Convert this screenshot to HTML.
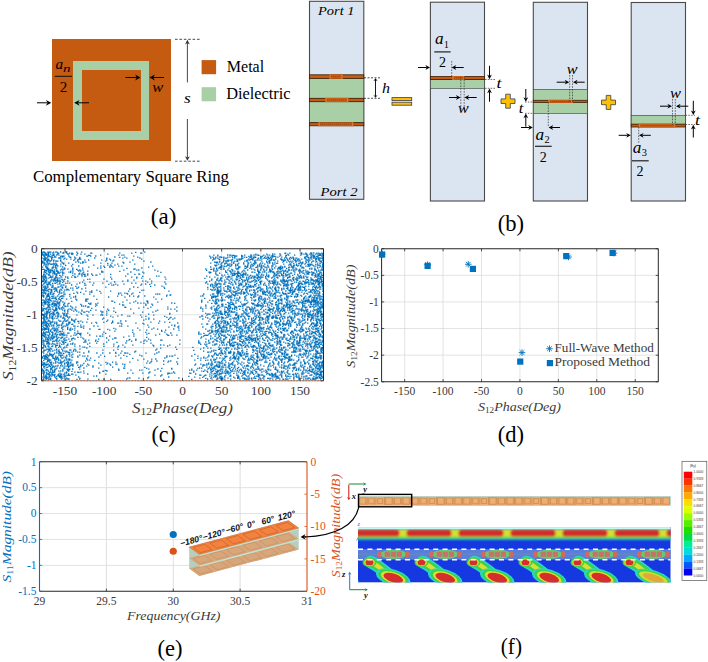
<!DOCTYPE html>
<html><head><meta charset="utf-8"><style>
html,body{margin:0;padding:0;background:#fff;}
svg{display:block;font-family:"Liberation Serif",serif;}
</style></head><body>
<svg width="708" height="662" viewBox="0 0 708 662">
<rect width="708" height="662" fill="#fff"/>
<rect x="52" y="39" width="119" height="122" fill="#C55A11"/>
<rect x="73" y="61" width="76" height="79" fill="#A8CFA6"/>
<rect x="82" y="70" width="59" height="61" fill="#C55A11"/>
<text x="55.4" y="68.9" font-size="15.5" text-anchor="start" fill="#000"  font-style="italic" textLength="7.6" lengthAdjust="spacingAndGlyphs">a</text>
<text x="63.1" y="71.8" font-size="11" text-anchor="start" fill="#000"  font-style="italic" textLength="7.5" lengthAdjust="spacingAndGlyphs">n</text>
<rect x="54.7" y="75.8" width="17.3" height="1" fill="#111"/>
<text x="59.8" y="91.6" font-size="14.5" text-anchor="start" fill="#000"  textLength="7.5" lengthAdjust="spacingAndGlyphs">2</text>
<path d="M37.00,102.80L47.60,102.80" stroke="#000" stroke-width="1.0" fill="none"/>
<path d="M51.30,102.80L45.90,105.70L47.60,102.80L45.90,99.90Z" fill="#000"/>
<path d="M89.00,102.80L77.90,102.80" stroke="#000" stroke-width="1.0" fill="none"/>
<path d="M74.20,102.80L79.60,99.90L77.90,102.80L79.60,105.70Z" fill="#000"/>
<path d="M125.50,77.50L136.80,77.50" stroke="#000" stroke-width="1.0" fill="none"/>
<path d="M140.50,77.50L135.10,80.40L136.80,77.50L135.10,74.60Z" fill="#000"/>
<path d="M164.00,77.50L153.20,77.50" stroke="#000" stroke-width="1.0" fill="none"/>
<path d="M149.50,77.50L154.90,74.60L153.20,77.50L154.90,80.40Z" fill="#000"/>
<text x="152.2" y="92.1" font-size="15.5" text-anchor="start" fill="#000"  font-style="italic" textLength="11" lengthAdjust="spacingAndGlyphs">w</text>
<path d="M175,39.3H200M175,161.2H200" stroke="#333" stroke-width="0.9" stroke-dasharray="2.6,1.8"/>
<path d="M187.40,82.40L187.40,43.00" stroke="#333" stroke-width="0.9" fill="none"/>
<path d="M187.40,39.80L189.80,44.40L187.40,43.00L185.00,44.40Z" fill="#333"/>
<path d="M187.40,119.00L187.40,157.60" stroke="#333" stroke-width="0.9" fill="none"/>
<path d="M187.40,160.80L185.00,156.20L187.40,157.60L189.80,156.20Z" fill="#333"/>
<text x="184" y="103" font-size="15.5" text-anchor="start" fill="#000"  font-style="italic" textLength="6.7" lengthAdjust="spacingAndGlyphs">s</text>
<rect x="201.6" y="60.1" width="14.5" height="14.1" fill="#C55A11"/>
<rect x="201.6" y="87.2" width="14.5" height="14.1" fill="#A8CFA6"/>
<text x="226.8" y="71.8" font-size="16" text-anchor="start" fill="#000"  textLength="37.4" lengthAdjust="spacingAndGlyphs">Metal</text>
<text x="226.2" y="99.3" font-size="16" text-anchor="start" fill="#000"  textLength="64.4" lengthAdjust="spacingAndGlyphs">Dielectric</text>
<text x="33" y="182" font-size="16" text-anchor="start" fill="#000"  textLength="196" lengthAdjust="spacingAndGlyphs">Complementary Square Ring</text>
<text x="150.8" y="224" font-size="23" text-anchor="start" fill="#000"  textLength="25.5" lengthAdjust="spacingAndGlyphs">(a)</text>
<rect x="309.5" y="1.3" width="54.30000000000001" height="198.0" fill="#DBE5F1" stroke="#4a4a4a" stroke-width="1.1"/>
<rect x="309.5" y="78" width="54.30000000000001" height="20.5" fill="#A8CFA6" stroke="#3a3a3a" stroke-width="0.6"/>
<rect x="309.5" y="101.5" width="54.30000000000001" height="21.299999999999997" fill="#A8CFA6" stroke="#3a3a3a" stroke-width="0.6"/>
<rect x="309.5" y="74.8" width="54.30000000000001" height="3.6000000000000085" fill="#C55A11" stroke="#3b1e08" stroke-width="0.8"/>
<rect x="329" y="74.39999999999999" width="14" height="4.400000000000008" fill="#c95e16"/>
<path d="M331.2,76.60H340.8" stroke="#7a3a10" stroke-width="0.8" stroke-dasharray="1,1"/>
<path d="M330.2,74.39999999999999V78.80000000000001M341.8,74.39999999999999V78.80000000000001" stroke="#e07a30" stroke-width="1.0"/>
<rect x="309.5" y="98.3" width="54.30000000000001" height="3.4000000000000057" fill="#C55A11" stroke="#3b1e08" stroke-width="0.8"/>
<rect x="325" y="97.89999999999999" width="23.69999999999999" height="4.2000000000000055" fill="#c95e16"/>
<path d="M327.2,100.00H346.5" stroke="#7a3a10" stroke-width="0.8" stroke-dasharray="1,1"/>
<path d="M326.2,97.89999999999999V102.10000000000001M347.5,97.89999999999999V102.10000000000001" stroke="#e07a30" stroke-width="1.0"/>
<rect x="309.5" y="122.7" width="54.30000000000001" height="3.0999999999999943" fill="#C55A11" stroke="#3b1e08" stroke-width="0.8"/>
<rect x="318" y="122.3" width="35.69999999999999" height="3.899999999999994" fill="#c95e16"/>
<path d="M320.2,124.25H351.5" stroke="#7a3a10" stroke-width="0.8" stroke-dasharray="1,1"/>
<path d="M319.2,122.3V126.2M352.5,122.3V126.2" stroke="#e07a30" stroke-width="1.0"/>
<text x="318" y="14.5" font-size="13.5" text-anchor="start" fill="#000"  font-style="italic" textLength="36.5" lengthAdjust="spacingAndGlyphs">Port 1</text>
<text x="320.5" y="195.8" font-size="13.5" text-anchor="start" fill="#000"  font-style="italic" textLength="37" lengthAdjust="spacingAndGlyphs">Port 2</text>
<path d="M364,77.8H381M364,98.3H381" stroke="#222" stroke-width="0.8" stroke-dasharray="2,1.5"/>
<path d="M375.50,88.00L375.50,79.90" stroke="#000" stroke-width="0.9" fill="none"/>
<path d="M375.50,78.30L377.70,81.30L375.50,79.90L373.30,81.30Z" fill="#000"/>
<path d="M375.50,88.00L375.50,96.20" stroke="#000" stroke-width="0.9" fill="none"/>
<path d="M375.50,97.80L373.30,94.80L375.50,96.20L377.70,94.80Z" fill="#000"/>
<text x="382" y="93" font-size="15" text-anchor="start" fill="#000"  font-style="italic" textLength="8" lengthAdjust="spacingAndGlyphs">h</text>
<rect x="392" y="97.6" width="19.7" height="3" fill="#FFC000" stroke="#3b4460" stroke-width="0.85"/>
<rect x="392" y="102.2" width="19.7" height="3" fill="#FFC000" stroke="#3b4460" stroke-width="0.85"/>
<rect x="430.4" y="2.2" width="54.10000000000002" height="198.8" fill="#DBE5F1" stroke="#4a4a4a" stroke-width="1.1"/>
<rect x="430.4" y="79.5" width="54.10000000000002" height="8.799999999999997" fill="#A8CFA6" stroke="#3a3a3a" stroke-width="0.6"/>
<rect x="430.4" y="76.4" width="54.10000000000002" height="3.0999999999999943" fill="#C55A11" stroke="#3b1e08" stroke-width="0.8"/>
<rect x="452" y="76.0" width="12.5" height="3.899999999999994" fill="#c95e16"/>
<path d="M454.2,77.95H462.3" stroke="#7a3a10" stroke-width="0.8" stroke-dasharray="1,1"/>
<path d="M453.2,76.0V79.9M463.3,76.0V79.9" stroke="#e07a30" stroke-width="1.0"/>
<text x="435" y="44.3" font-size="16" text-anchor="start" fill="#000"  font-style="italic" textLength="8.6" lengthAdjust="spacingAndGlyphs">a</text>
<text x="444.1" y="47.5" font-size="10" text-anchor="start" fill="#000"  textLength="4.8" lengthAdjust="spacingAndGlyphs">1</text>
<rect x="434.3" y="51.3" width="16.3" height="1.2" fill="#222"/>
<text x="438.9" y="67.3" font-size="15.5" text-anchor="start" fill="#000"  textLength="7" lengthAdjust="spacingAndGlyphs">2</text>
<path d="M418.00,67.50L426.80,67.50" stroke="#000" stroke-width="1.0" fill="none"/>
<path d="M430.00,67.50L425.40,69.90L426.80,67.50L425.40,65.10Z" fill="#000"/>
<path d="M463.70,67.50L454.90,67.50" stroke="#000" stroke-width="1.0" fill="none"/>
<path d="M451.70,67.50L456.30,65.10L454.90,67.50L456.30,69.90Z" fill="#000"/>
<path d="M451.7,61V77M460.8,77V110M464.2,77V110" stroke="#333" stroke-width="0.7" stroke-dasharray="1.6,1.2"/>
<path d="M449.00,97.50L457.30,97.50" stroke="#000" stroke-width="1.0" fill="none"/>
<path d="M460.50,97.50L455.90,99.90L457.30,97.50L455.90,95.10Z" fill="#000"/>
<path d="M476.70,97.50L467.70,97.50" stroke="#000" stroke-width="1.0" fill="none"/>
<path d="M464.50,97.50L469.10,95.10L467.70,97.50L469.10,99.90Z" fill="#000"/>
<text x="458" y="113.3" font-size="14" text-anchor="start" fill="#000"  font-style="italic" textLength="10.7" lengthAdjust="spacingAndGlyphs">w</text>
<path d="M485,79.5H495M485,88.3H495" stroke="#333" stroke-width="0.7" stroke-dasharray="1.6,1.2"/>
<path d="M489.50,65.80L489.50,76.00" stroke="#000" stroke-width="1.0" fill="none"/>
<path d="M489.50,79.20L487.10,74.60L489.50,76.00L491.90,74.60Z" fill="#000"/>
<path d="M489.50,101.70L489.50,91.80" stroke="#000" stroke-width="1.0" fill="none"/>
<path d="M489.50,88.60L491.90,93.20L489.50,91.80L487.10,93.20Z" fill="#000"/>
<text x="496.5" y="87.5" font-size="14" text-anchor="start" fill="#000"  font-style="italic" textLength="5" lengthAdjust="spacingAndGlyphs">t</text>
<path d="M505.7,94.2H510.3V98.9H515.0V103.5H510.3V108.2H505.7V103.5H501.0V98.9H505.7Z" fill="#FFC000" stroke="#3b4460" stroke-width="0.85"/>
<rect x="533.3" y="2.3" width="54.200000000000045" height="198.7" fill="#DBE5F1" stroke="#4a4a4a" stroke-width="1.1"/>
<rect x="533.3" y="89.3" width="54.200000000000045" height="24.0" fill="#A8CFA6" stroke="#3a3a3a" stroke-width="0.6"/>
<rect x="533.3" y="100.3" width="54.200000000000045" height="2.200000000000003" fill="#C55A11" stroke="#3b1e08" stroke-width="0.8"/>
<rect x="548" y="99.89999999999999" width="25" height="3.0000000000000027" fill="#c95e16"/>
<path d="M550.2,101.40H570.8" stroke="#7a3a10" stroke-width="0.8" stroke-dasharray="1,1"/>
<path d="M549.2,99.89999999999999V102.9M571.8,99.89999999999999V102.9" stroke="#e07a30" stroke-width="1.0"/>
<text x="566.7" y="74.2" font-size="14" text-anchor="start" fill="#000"  font-style="italic" textLength="10.8" lengthAdjust="spacingAndGlyphs">w</text>
<path d="M569.7,75V102M572.5,75V102" stroke="#333" stroke-width="0.7" stroke-dasharray="1.6,1.2"/>
<path d="M556.70,82.20L566.10,82.20" stroke="#000" stroke-width="1.0" fill="none"/>
<path d="M569.30,82.20L564.70,84.60L566.10,82.20L564.70,79.80Z" fill="#000"/>
<path d="M584.70,82.20L576.20,82.20" stroke="#000" stroke-width="1.0" fill="none"/>
<path d="M573.00,82.20L577.60,79.80L576.20,82.20L577.60,84.60Z" fill="#000"/>
<path d="M525,102H533M525,113.3H533" stroke="#333" stroke-width="0.7" stroke-dasharray="1.6,1.2"/>
<path d="M525.80,89.00L525.80,98.60" stroke="#000" stroke-width="1.0" fill="none"/>
<path d="M525.80,101.80L523.40,97.20L525.80,98.60L528.20,97.20Z" fill="#000"/>
<path d="M525.80,126.70L525.80,116.80" stroke="#000" stroke-width="1.0" fill="none"/>
<path d="M525.80,113.60L528.20,118.20L525.80,116.80L523.40,118.20Z" fill="#000"/>
<text x="518.8" y="113.3" font-size="14" text-anchor="start" fill="#000"  font-style="italic" textLength="4.6" lengthAdjust="spacingAndGlyphs">t</text>
<path d="M521.00,127.50L529.60,127.50" stroke="#000" stroke-width="1.0" fill="none"/>
<path d="M532.80,127.50L528.20,129.90L529.60,127.50L528.20,125.10Z" fill="#000"/>
<path d="M560.00,127.50L551.80,127.50" stroke="#000" stroke-width="1.0" fill="none"/>
<path d="M548.60,127.50L553.20,125.10L551.80,127.50L553.20,129.90Z" fill="#000"/>
<path d="M548.3,102V127" stroke="#333" stroke-width="0.7" stroke-dasharray="1.6,1.2"/>
<text x="535.6" y="139.8" font-size="16" text-anchor="start" fill="#000"  font-style="italic" textLength="8.6" lengthAdjust="spacingAndGlyphs">a</text>
<text x="544.6" y="143" font-size="10" text-anchor="start" fill="#000"  textLength="5.2" lengthAdjust="spacingAndGlyphs">2</text>
<rect x="535" y="145.7" width="16.7" height="1.2" fill="#222"/>
<text x="539.8" y="161.6" font-size="15.5" text-anchor="start" fill="#000"  textLength="7" lengthAdjust="spacingAndGlyphs">2</text>
<path d="M606.2,95.4H610.8V100.10000000000001H615.5V104.7H610.8V109.4H606.2V104.7H601.5V100.10000000000001H606.2Z" fill="#FFC000" stroke="#3b4460" stroke-width="0.85"/>
<rect x="631.2" y="2.5" width="54.299999999999955" height="198.5" fill="#DBE5F1" stroke="#4a4a4a" stroke-width="1.1"/>
<rect x="631.2" y="115.3" width="54.299999999999955" height="8.900000000000006" fill="#A8CFA6" stroke="#3a3a3a" stroke-width="0.6"/>
<rect x="631.2" y="124.2" width="54.299999999999955" height="2.799999999999997" fill="#C55A11" stroke="#3b1e08" stroke-width="0.8"/>
<rect x="638.5" y="123.8" width="37.10000000000002" height="3.599999999999997" fill="#c95e16"/>
<path d="M640.7,125.60H673.4" stroke="#7a3a10" stroke-width="0.8" stroke-dasharray="1,1"/>
<path d="M639.7,123.8V127.4M674.4,123.8V127.4" stroke="#e07a30" stroke-width="1.0"/>
<text x="670" y="98.3" font-size="14" text-anchor="start" fill="#000"  font-style="italic" textLength="11" lengthAdjust="spacingAndGlyphs">w</text>
<path d="M672.5,99V125M675.3,99V125" stroke="#333" stroke-width="0.7" stroke-dasharray="1.6,1.2"/>
<path d="M660.00,106.20L668.80,106.20" stroke="#000" stroke-width="1.0" fill="none"/>
<path d="M672.00,106.20L667.40,108.60L668.80,106.20L667.40,103.80Z" fill="#000"/>
<path d="M688.30,106.20L679.20,106.20" stroke="#000" stroke-width="1.0" fill="none"/>
<path d="M676.00,106.20L680.60,103.80L679.20,106.20L680.60,108.60Z" fill="#000"/>
<path d="M685.5,115.3H695M685.5,124.5H695" stroke="#333" stroke-width="0.7" stroke-dasharray="1.6,1.2"/>
<path d="M693.30,100.80L693.30,111.80" stroke="#000" stroke-width="1.0" fill="none"/>
<path d="M693.30,115.00L690.90,110.40L693.30,111.80L695.70,110.40Z" fill="#000"/>
<path d="M693.30,137.50L693.30,128.00" stroke="#000" stroke-width="1.0" fill="none"/>
<path d="M693.30,124.80L695.70,129.40L693.30,128.00L690.90,129.40Z" fill="#000"/>
<text x="695" y="125" font-size="14" text-anchor="start" fill="#000"  font-style="italic" textLength="5" lengthAdjust="spacingAndGlyphs">t</text>
<path d="M618.70,135.30L627.60,135.30" stroke="#000" stroke-width="1.0" fill="none"/>
<path d="M630.80,135.30L626.20,137.70L627.60,135.30L626.20,132.90Z" fill="#000"/>
<path d="M650.80,135.30L642.20,135.30" stroke="#000" stroke-width="1.0" fill="none"/>
<path d="M639.00,135.30L643.60,132.90L642.20,135.30L643.60,137.70Z" fill="#000"/>
<path d="M638.7,127V143" stroke="#333" stroke-width="0.7" stroke-dasharray="1.6,1.2"/>
<text x="632.8" y="153" font-size="16" text-anchor="start" fill="#000"  font-style="italic" textLength="8.6" lengthAdjust="spacingAndGlyphs">a</text>
<text x="641.8" y="156.2" font-size="10" text-anchor="start" fill="#000"  textLength="5.2" lengthAdjust="spacingAndGlyphs">3</text>
<rect x="632" y="160.2" width="16.7" height="1.2" fill="#222"/>
<text x="636.6" y="175.6" font-size="15.5" text-anchor="start" fill="#000"  textLength="7" lengthAdjust="spacingAndGlyphs">2</text>
<text x="497.8" y="230.8" font-size="23" text-anchor="start" fill="#000"  textLength="26.3" lengthAdjust="spacingAndGlyphs">(b)</text>
<path d="M65.00,248.75V380.75M104.17,248.75V380.75M143.33,248.75V380.75M182.50,248.75V380.75M221.67,248.75V380.75M260.83,248.75V380.75M300.00,248.75V380.75M41.5,281.75H323.5M41.5,314.75H323.5M41.5,347.75H323.5" stroke="#dcdcdc" stroke-width="0.8" fill="none"/>
<path d="M42.1 252.2h1.3M43.2 252.0h1.3M44.1 252.3h1.3M47.1 252.2h1.3M48.2 252.1h1.3M49.3 252.2h1.3M50.2 252.1h1.3M53.1 252.1h1.3M55.1 252.2h1.3M56.3 252.2h1.3M60.0 252.0h1.3M63.1 252.3h1.3M65.1 252.0h1.3M66.1 252.0h1.3M76.1 252.2h1.3M81.1 252.1h1.3M135.1 252.3h1.3M144.1 252.1h1.3M42.1 253.1h1.3M45.2 253.2h1.3M48.0 253.0h1.3M52.2 253.0h1.3M57.0 253.1h1.3M58.1 253.2h1.3M62.2 253.1h1.3M63.0 253.2h1.3M66.1 253.1h1.3M69.1 253.2h1.3M71.1 253.2h1.3M72.1 253.3h1.3M77.0 253.3h1.3M90.1 253.2h1.3M91.1 253.2h1.3M119.1 253.1h1.3M131.1 253.1h1.3M140.0 253.2h1.3M141.1 253.1h1.3M284.3 253.3h1.3M285.1 253.2h1.3M289.2 253.1h1.3M300.1 253.2h1.3M301.1 253.0h1.3M305.2 253.1h1.3M310.2 253.0h1.3M311.1 253.2h1.3M313.1 253.0h1.3M316.1 253.2h1.3M318.1 253.2h1.3M321.2 253.2h1.3M42.1 254.0h1.3M44.1 254.0h1.3M45.0 254.2h1.3M46.2 254.1h1.3M47.1 254.1h1.3M48.0 254.0h1.3M50.0 254.1h1.3M53.3 254.1h1.3M57.2 254.2h1.3M67.1 254.0h1.3M68.1 254.2h1.3M71.1 254.3h1.3M72.2 254.2h1.3M80.3 254.1h1.3M84.2 254.1h1.3M107.2 254.1h1.3M255.2 254.1h1.3M266.1 254.1h1.3M272.1 254.0h1.3M274.1 254.1h1.3M279.3 254.0h1.3M287.2 254.1h1.3M301.1 254.1h1.3M303.3 254.1h1.3M305.1 254.2h1.3M306.1 254.2h1.3M309.2 254.2h1.3M311.1 254.0h1.3M315.1 254.2h1.3M317.2 254.1h1.3M319.2 254.0h1.3M320.2 254.1h1.3M322.1 254.0h1.3M42.1 255.2h1.3M43.3 255.0h1.3M45.3 255.2h1.3M46.2 255.3h1.3M48.0 255.0h1.3M52.2 255.0h1.3M53.1 255.3h1.3M56.1 255.0h1.3M58.3 255.1h1.3M76.3 255.0h1.3M88.1 255.3h1.3M89.2 255.3h1.3M100.0 255.1h1.3M118.2 255.2h1.3M121.3 255.2h1.3M123.2 255.1h1.3M213.2 255.1h1.3M217.2 255.2h1.3M227.1 255.0h1.3M229.1 255.1h1.3M230.1 255.1h1.3M232.2 255.3h1.3M233.3 255.3h1.3M241.0 255.3h1.3M244.1 255.1h1.3M250.3 255.0h1.3M253.3 255.0h1.3M255.3 255.1h1.3M257.2 255.0h1.3M258.2 255.3h1.3M263.2 255.1h1.3M267.2 255.1h1.3M269.1 255.2h1.3M272.1 255.1h1.3M280.1 255.2h1.3M285.2 255.3h1.3M286.0 255.3h1.3M288.0 255.2h1.3M294.0 255.2h1.3M300.2 255.1h1.3M306.3 255.1h1.3M307.1 255.1h1.3M310.2 255.1h1.3M312.3 255.1h1.3M313.1 255.1h1.3M318.2 255.1h1.3M319.1 255.3h1.3M320.1 255.3h1.3M322.0 255.2h1.3M43.2 256.1h1.3M44.2 256.2h1.3M47.1 256.1h1.3M48.3 256.0h1.3M49.3 256.3h1.3M51.3 256.0h1.3M54.0 256.2h1.3M60.1 256.3h1.3M61.1 256.1h1.3M62.1 256.1h1.3M63.2 256.2h1.3M68.1 256.0h1.3M86.2 256.1h1.3M87.0 256.1h1.3M90.1 256.2h1.3M95.1 256.0h1.3M133.1 256.1h1.3M209.0 256.2h1.3M217.2 256.2h1.3M231.3 256.2h1.3M234.1 256.2h1.3M235.1 256.0h1.3M236.1 256.2h1.3M241.1 256.3h1.3M242.1 256.2h1.3M248.2 256.3h1.3M250.2 256.0h1.3M251.2 256.1h1.3M260.1 256.3h1.3M262.0 256.1h1.3M265.1 256.2h1.3M271.2 256.0h1.3M272.1 256.0h1.3M273.1 256.1h1.3M274.3 256.3h1.3M279.1 256.1h1.3M285.2 256.2h1.3M306.2 256.3h1.3M311.2 256.2h1.3M313.2 256.0h1.3M314.2 256.1h1.3M316.1 256.3h1.3M317.3 256.0h1.3M321.2 256.2h1.3M44.2 257.2h1.3M47.2 257.1h1.3M50.2 257.2h1.3M52.2 257.3h1.3M54.2 257.1h1.3M55.2 257.1h1.3M62.1 257.2h1.3M69.1 257.2h1.3M70.1 257.3h1.3M74.0 257.2h1.3M79.2 257.3h1.3M114.2 257.0h1.3M119.1 257.3h1.3M124.2 257.1h1.3M137.1 257.2h1.3M210.1 257.2h1.3M212.2 257.1h1.3M215.2 257.1h1.3M219.0 257.2h1.3M220.1 257.0h1.3M221.1 257.3h1.3M223.2 257.1h1.3M227.2 257.1h1.3M229.2 257.1h1.3M232.1 257.3h1.3M234.1 257.1h1.3M244.1 257.1h1.3M246.0 257.3h1.3M249.2 257.3h1.3M250.2 257.1h1.3M253.1 257.2h1.3M254.3 257.0h1.3M255.1 257.3h1.3M260.2 257.0h1.3M261.0 257.0h1.3M264.0 257.3h1.3M267.0 257.1h1.3M268.0 257.1h1.3M270.1 257.2h1.3M272.2 257.2h1.3M275.2 257.1h1.3M277.3 257.2h1.3M281.1 257.2h1.3M285.1 257.1h1.3M290.1 257.3h1.3M292.3 257.2h1.3M304.1 257.2h1.3M305.2 257.0h1.3M307.1 257.2h1.3M308.1 257.3h1.3M310.1 257.2h1.3M311.3 257.1h1.3M313.0 257.0h1.3M314.1 257.1h1.3M317.2 257.1h1.3M322.1 257.1h1.3M42.2 258.1h1.3M44.2 258.3h1.3M45.2 258.0h1.3M46.1 258.1h1.3M51.0 258.0h1.3M58.2 258.0h1.3M59.0 258.0h1.3M60.2 258.0h1.3M64.2 258.2h1.3M75.1 258.1h1.3M79.0 258.2h1.3M94.1 258.0h1.3M106.3 258.1h1.3M122.2 258.1h1.3M126.2 258.1h1.3M139.2 258.0h1.3M210.2 258.2h1.3M213.0 258.2h1.3M215.1 258.2h1.3M217.1 258.1h1.3M223.2 258.0h1.3M225.0 258.1h1.3M226.3 258.2h1.3M234.2 258.1h1.3M241.0 258.0h1.3M242.3 258.1h1.3M251.2 258.0h1.3M253.1 258.2h1.3M258.1 258.1h1.3M260.0 258.1h1.3M263.3 258.3h1.3M265.2 258.3h1.3M266.2 258.2h1.3M268.0 258.0h1.3M269.3 258.3h1.3M271.1 258.1h1.3M284.0 258.1h1.3M286.0 258.1h1.3M289.1 258.1h1.3M291.2 258.3h1.3M293.0 258.0h1.3M295.2 258.2h1.3M296.1 258.1h1.3M304.2 258.3h1.3M308.3 258.1h1.3M310.1 258.1h1.3M313.3 258.3h1.3M315.1 258.1h1.3M316.3 258.2h1.3M318.1 258.2h1.3M319.1 258.0h1.3M320.1 258.2h1.3M321.2 258.1h1.3M322.2 258.1h1.3M43.1 259.0h1.3M44.1 259.0h1.3M45.1 259.0h1.3M47.1 259.2h1.3M48.0 259.2h1.3M51.2 259.2h1.3M63.2 259.2h1.3M66.1 259.1h1.3M70.2 259.1h1.3M74.1 259.2h1.3M78.2 259.2h1.3M79.3 259.2h1.3M80.1 259.1h1.3M106.0 259.1h1.3M109.1 259.1h1.3M141.0 259.2h1.3M213.1 259.1h1.3M214.2 259.1h1.3M218.2 259.1h1.3M219.1 259.3h1.3M223.2 259.0h1.3M232.0 259.2h1.3M236.2 259.2h1.3M238.3 259.2h1.3M239.3 259.1h1.3M240.2 259.1h1.3M241.1 259.2h1.3M248.2 259.0h1.3M250.0 259.3h1.3M251.2 259.2h1.3M252.2 259.0h1.3M257.2 259.0h1.3M261.2 259.2h1.3M267.1 259.3h1.3M271.0 259.3h1.3M275.0 259.0h1.3M280.1 259.0h1.3M281.1 259.1h1.3M287.0 259.2h1.3M289.2 259.1h1.3M293.0 259.3h1.3M297.1 259.3h1.3M298.1 259.0h1.3M301.1 259.1h1.3M305.2 259.0h1.3M308.2 259.1h1.3M311.2 259.2h1.3M315.1 259.1h1.3M316.2 259.0h1.3M318.0 259.0h1.3M322.3 259.1h1.3M44.0 260.0h1.3M45.2 260.2h1.3M47.2 260.0h1.3M48.2 260.2h1.3M51.1 260.0h1.3M53.3 260.2h1.3M60.1 260.0h1.3M73.2 260.3h1.3M77.1 260.0h1.3M84.2 260.2h1.3M88.0 260.0h1.3M101.1 260.1h1.3M106.2 260.1h1.3M110.0 260.2h1.3M113.2 260.1h1.3M132.2 260.1h1.3M212.0 260.2h1.3M223.2 260.2h1.3M227.2 260.1h1.3M228.3 260.1h1.3M230.2 260.3h1.3M231.3 260.0h1.3M237.1 260.1h1.3M239.2 260.1h1.3M246.2 260.3h1.3M247.2 260.1h1.3M249.1 260.1h1.3M252.2 260.1h1.3M255.3 260.2h1.3M257.2 260.1h1.3M259.3 260.1h1.3M269.3 260.0h1.3M270.2 260.1h1.3M271.1 260.1h1.3M273.0 260.0h1.3M274.1 260.1h1.3M281.1 260.1h1.3M282.3 260.1h1.3M283.1 260.2h1.3M284.2 260.0h1.3M285.1 260.2h1.3M287.2 260.2h1.3M294.0 260.2h1.3M295.0 260.0h1.3M297.1 260.2h1.3M299.2 260.3h1.3M306.2 260.0h1.3M307.2 260.1h1.3M309.3 260.1h1.3M315.0 260.2h1.3M318.2 260.1h1.3M319.2 260.0h1.3M322.2 260.1h1.3M42.1 261.2h1.3M43.2 261.1h1.3M46.1 261.1h1.3M47.3 261.1h1.3M49.2 261.0h1.3M50.0 261.0h1.3M53.0 261.2h1.3M55.2 261.0h1.3M56.2 261.2h1.3M57.2 261.2h1.3M60.0 261.1h1.3M77.2 261.1h1.3M105.1 261.1h1.3M112.3 261.0h1.3M143.3 261.1h1.3M219.1 261.2h1.3M223.0 261.1h1.3M225.1 261.0h1.3M226.2 261.2h1.3M227.0 261.2h1.3M228.0 261.1h1.3M234.2 261.1h1.3M236.1 261.2h1.3M237.0 261.3h1.3M244.2 261.1h1.3M246.1 261.0h1.3M254.0 261.0h1.3M261.1 261.2h1.3M266.1 261.1h1.3M268.1 261.2h1.3M269.1 261.3h1.3M277.1 261.1h1.3M283.2 261.3h1.3M288.1 261.2h1.3M290.2 261.2h1.3M292.3 261.1h1.3M295.1 261.1h1.3M296.0 261.2h1.3M298.3 261.1h1.3M305.0 261.2h1.3M308.2 261.1h1.3M312.1 261.2h1.3M313.0 261.1h1.3M316.0 261.3h1.3M319.2 261.0h1.3M320.1 261.3h1.3M321.0 261.2h1.3M42.0 262.3h1.3M46.2 262.2h1.3M61.2 262.2h1.3M75.2 262.2h1.3M78.1 262.1h1.3M82.1 262.0h1.3M83.2 262.2h1.3M85.2 262.2h1.3M122.3 262.1h1.3M129.3 262.1h1.3M150.2 262.0h1.3M214.0 262.2h1.3M215.3 262.3h1.3M216.3 262.2h1.3M217.1 262.1h1.3M219.1 262.0h1.3M222.3 262.3h1.3M231.1 262.0h1.3M233.1 262.2h1.3M247.2 262.1h1.3M250.1 262.2h1.3M254.2 262.3h1.3M255.2 262.2h1.3M266.1 262.1h1.3M269.1 262.3h1.3M274.3 262.1h1.3M282.2 262.2h1.3M286.1 262.1h1.3M289.0 262.2h1.3M291.2 262.3h1.3M295.3 262.2h1.3M300.0 262.2h1.3M302.1 262.1h1.3M306.1 262.2h1.3M308.0 262.1h1.3M311.0 262.2h1.3M315.2 262.1h1.3M321.1 262.0h1.3M42.2 263.1h1.3M43.3 263.0h1.3M44.2 263.0h1.3M47.2 263.0h1.3M49.1 263.1h1.3M53.1 263.1h1.3M55.1 263.1h1.3M62.1 263.2h1.3M63.1 263.1h1.3M68.1 263.1h1.3M80.0 263.1h1.3M82.1 263.0h1.3M100.2 263.1h1.3M107.1 263.3h1.3M111.3 263.1h1.3M123.1 263.0h1.3M210.1 263.2h1.3M216.2 263.2h1.3M221.1 263.2h1.3M224.2 263.3h1.3M225.1 263.2h1.3M226.0 263.0h1.3M233.1 263.3h1.3M238.1 263.1h1.3M243.1 263.0h1.3M248.1 263.2h1.3M253.1 263.3h1.3M255.3 263.2h1.3M260.1 263.1h1.3M262.0 263.2h1.3M267.2 263.0h1.3M269.0 263.0h1.3M272.0 263.0h1.3M276.1 263.3h1.3M277.0 263.2h1.3M293.1 263.3h1.3M298.2 263.3h1.3M299.3 263.1h1.3M301.1 263.1h1.3M302.2 263.2h1.3M305.1 263.1h1.3M317.0 263.2h1.3M319.3 263.2h1.3M320.0 263.2h1.3M322.3 263.1h1.3M44.2 264.2h1.3M46.1 264.1h1.3M48.3 264.0h1.3M50.2 264.3h1.3M51.2 264.1h1.3M52.3 264.1h1.3M54.0 264.1h1.3M56.0 264.1h1.3M60.2 264.1h1.3M63.1 264.1h1.3M72.1 264.3h1.3M117.1 264.1h1.3M134.1 264.1h1.3M218.0 264.1h1.3M220.3 264.1h1.3M224.1 264.2h1.3M227.3 264.1h1.3M229.3 264.0h1.3M231.2 264.1h1.3M235.1 264.3h1.3M237.1 264.1h1.3M243.2 264.2h1.3M247.3 264.0h1.3M251.3 264.1h1.3M254.1 264.0h1.3M259.1 264.2h1.3M264.1 264.2h1.3M272.3 264.3h1.3M274.2 264.0h1.3M283.1 264.1h1.3M289.1 264.2h1.3M290.2 264.0h1.3M296.0 264.1h1.3M301.1 264.2h1.3M304.3 264.2h1.3M307.2 264.3h1.3M308.1 264.1h1.3M309.2 264.2h1.3M310.2 264.3h1.3M311.0 264.2h1.3M315.2 264.3h1.3M322.1 264.3h1.3M43.2 265.1h1.3M45.3 265.1h1.3M47.3 265.2h1.3M53.1 265.1h1.3M55.0 265.1h1.3M56.2 265.0h1.3M65.0 265.3h1.3M93.2 265.2h1.3M107.2 265.1h1.3M110.1 265.0h1.3M114.3 265.1h1.3M214.2 265.2h1.3M215.1 265.3h1.3M216.3 265.1h1.3M221.1 265.3h1.3M227.0 265.3h1.3M228.2 265.1h1.3M231.0 265.1h1.3M235.1 265.2h1.3M237.1 265.3h1.3M247.3 265.1h1.3M250.2 265.1h1.3M252.2 265.1h1.3M253.1 265.1h1.3M257.1 265.1h1.3M259.2 265.0h1.3M261.1 265.1h1.3M267.1 265.2h1.3M288.2 265.2h1.3M290.3 265.3h1.3M293.1 265.1h1.3M294.1 265.1h1.3M296.0 265.3h1.3M298.1 265.1h1.3M300.2 265.3h1.3M308.1 265.2h1.3M310.2 265.0h1.3M312.1 265.1h1.3M317.0 265.0h1.3M318.1 265.1h1.3M319.3 265.1h1.3M322.2 265.0h1.3M45.2 266.2h1.3M55.1 266.3h1.3M57.2 266.0h1.3M60.2 266.1h1.3M71.1 266.0h1.3M78.1 266.0h1.3M100.1 266.2h1.3M103.2 266.2h1.3M109.2 266.3h1.3M111.0 266.2h1.3M118.1 266.1h1.3M121.3 266.1h1.3M152.1 266.2h1.3M215.2 266.1h1.3M220.3 266.2h1.3M221.1 266.3h1.3M223.3 266.1h1.3M224.2 266.3h1.3M226.0 266.1h1.3M229.2 266.2h1.3M230.3 266.1h1.3M235.2 266.0h1.3M244.3 266.0h1.3M245.2 266.3h1.3M247.0 266.0h1.3M250.3 266.3h1.3M252.2 266.0h1.3M257.2 266.2h1.3M259.0 266.2h1.3M261.2 266.2h1.3M263.1 266.0h1.3M267.2 266.1h1.3M271.2 266.0h1.3M272.2 266.0h1.3M275.2 266.2h1.3M280.3 266.1h1.3M284.2 266.3h1.3M291.2 266.1h1.3M293.2 266.0h1.3M297.1 266.1h1.3M300.0 266.2h1.3M305.3 266.1h1.3M307.1 266.1h1.3M308.2 266.1h1.3M309.0 266.0h1.3M313.3 266.0h1.3M315.1 266.1h1.3M320.1 266.1h1.3M322.0 266.0h1.3M42.0 267.2h1.3M45.2 267.1h1.3M46.2 267.1h1.3M47.0 267.1h1.3M52.1 267.2h1.3M53.2 267.0h1.3M55.1 267.2h1.3M62.1 267.0h1.3M88.1 267.2h1.3M104.0 267.3h1.3M109.3 267.3h1.3M112.3 267.2h1.3M148.0 267.1h1.3M210.1 267.0h1.3M219.1 267.2h1.3M220.2 267.3h1.3M221.2 267.2h1.3M238.0 267.0h1.3M239.2 267.0h1.3M246.0 267.2h1.3M247.0 267.1h1.3M250.1 267.3h1.3M255.3 267.3h1.3M256.3 267.2h1.3M257.1 267.1h1.3M260.3 267.1h1.3M261.2 267.0h1.3M264.3 267.2h1.3M265.3 267.2h1.3M268.1 267.1h1.3M278.1 267.3h1.3M279.1 267.2h1.3M280.1 267.0h1.3M282.1 267.0h1.3M284.2 267.0h1.3M288.1 267.3h1.3M289.1 267.1h1.3M291.1 267.0h1.3M292.1 267.1h1.3M293.2 267.1h1.3M301.3 267.2h1.3M302.2 267.2h1.3M317.1 267.1h1.3M319.1 267.1h1.3M322.0 267.2h1.3M46.2 268.3h1.3M47.1 268.3h1.3M51.3 268.2h1.3M52.3 268.2h1.3M55.1 268.2h1.3M56.1 268.2h1.3M64.1 268.2h1.3M72.2 268.2h1.3M82.0 268.2h1.3M97.0 268.2h1.3M100.2 268.0h1.3M126.3 268.3h1.3M141.2 268.0h1.3M213.3 268.2h1.3M216.1 268.1h1.3M218.2 268.1h1.3M219.0 268.2h1.3M223.1 268.1h1.3M228.3 268.2h1.3M235.2 268.1h1.3M237.1 268.3h1.3M238.1 268.2h1.3M244.2 268.1h1.3M245.2 268.3h1.3M249.2 268.3h1.3M261.3 268.1h1.3M266.3 268.0h1.3M271.2 268.0h1.3M274.1 268.0h1.3M277.2 268.3h1.3M278.3 268.1h1.3M279.0 268.2h1.3M280.3 268.1h1.3M281.2 268.1h1.3M282.0 268.1h1.3M286.0 268.3h1.3M292.1 268.2h1.3M295.2 268.1h1.3M301.3 268.0h1.3M303.1 268.0h1.3M309.2 268.3h1.3M311.2 268.2h1.3M314.2 268.2h1.3M317.1 268.2h1.3M321.1 268.2h1.3M42.1 269.3h1.3M43.3 269.3h1.3M47.2 269.3h1.3M48.1 269.0h1.3M61.2 269.0h1.3M63.1 269.1h1.3M64.1 269.0h1.3M67.3 269.1h1.3M72.1 269.3h1.3M76.0 269.3h1.3M133.2 269.1h1.3M134.3 269.0h1.3M205.2 269.0h1.3M210.2 269.3h1.3M211.1 269.3h1.3M213.2 269.3h1.3M216.0 269.0h1.3M220.1 269.2h1.3M221.0 269.1h1.3M223.3 269.3h1.3M231.2 269.3h1.3M236.1 269.2h1.3M237.3 269.1h1.3M251.1 269.0h1.3M253.3 269.1h1.3M257.1 269.2h1.3M260.1 269.1h1.3M263.2 269.2h1.3M269.0 269.1h1.3M272.0 269.3h1.3M277.2 269.1h1.3M279.2 269.1h1.3M280.1 269.3h1.3M288.1 269.2h1.3M293.3 269.1h1.3M296.2 269.2h1.3M299.2 269.3h1.3M309.2 269.2h1.3M311.2 269.0h1.3M314.2 269.1h1.3M322.0 269.3h1.3M44.2 270.1h1.3M45.2 270.3h1.3M46.2 270.2h1.3M48.1 270.2h1.3M49.1 270.1h1.3M50.1 270.0h1.3M51.0 270.1h1.3M52.0 270.1h1.3M54.1 270.0h1.3M56.1 270.0h1.3M60.1 270.0h1.3M62.2 270.2h1.3M77.1 270.1h1.3M79.2 270.0h1.3M82.3 270.0h1.3M123.2 270.2h1.3M136.2 270.2h1.3M138.1 270.0h1.3M154.2 270.2h1.3M206.0 270.3h1.3M213.1 270.2h1.3M217.1 270.2h1.3M227.3 270.0h1.3M232.1 270.2h1.3M243.2 270.1h1.3M247.1 270.0h1.3M254.3 270.2h1.3M257.1 270.0h1.3M260.1 270.1h1.3M263.1 270.1h1.3M266.0 270.0h1.3M269.1 270.3h1.3M270.2 270.2h1.3M282.1 270.1h1.3M285.1 270.2h1.3M288.1 270.0h1.3M289.1 270.1h1.3M291.2 270.0h1.3M293.3 270.1h1.3M295.2 270.0h1.3M298.2 270.2h1.3M299.3 270.3h1.3M303.1 270.3h1.3M305.2 270.2h1.3M314.1 270.2h1.3M315.1 270.0h1.3M318.1 270.1h1.3M320.1 270.2h1.3M321.2 270.0h1.3M322.3 270.2h1.3M44.0 271.1h1.3M46.2 271.0h1.3M48.1 271.2h1.3M50.1 271.3h1.3M52.1 271.1h1.3M53.0 271.3h1.3M56.1 271.3h1.3M57.1 271.1h1.3M70.2 271.2h1.3M72.2 271.0h1.3M78.2 271.0h1.3M80.1 271.0h1.3M87.1 271.1h1.3M101.1 271.2h1.3M119.2 271.3h1.3M157.2 271.2h1.3M213.3 271.1h1.3M215.1 271.2h1.3M216.2 271.2h1.3M225.0 271.0h1.3M229.1 271.0h1.3M230.2 271.1h1.3M232.2 271.1h1.3M234.3 271.1h1.3M237.3 271.2h1.3M242.1 271.1h1.3M244.3 271.1h1.3M257.2 271.3h1.3M258.3 271.1h1.3M264.2 271.2h1.3M269.2 271.2h1.3M270.3 271.1h1.3M271.2 271.1h1.3M277.0 271.1h1.3M278.2 271.1h1.3M280.1 271.1h1.3M281.1 271.1h1.3M283.2 271.2h1.3M284.2 271.2h1.3M285.0 271.0h1.3M287.2 271.2h1.3M293.1 271.1h1.3M298.3 271.0h1.3M300.1 271.1h1.3M302.2 271.2h1.3M307.1 271.2h1.3M316.1 271.1h1.3M318.2 271.1h1.3M43.3 272.1h1.3M44.3 272.2h1.3M45.1 272.3h1.3M48.1 272.2h1.3M49.0 272.2h1.3M50.3 272.2h1.3M53.2 272.2h1.3M54.1 272.0h1.3M57.2 272.2h1.3M58.0 272.2h1.3M60.2 272.2h1.3M62.1 272.0h1.3M68.3 272.1h1.3M70.0 272.3h1.3M83.1 272.1h1.3M101.1 272.0h1.3M102.2 272.0h1.3M130.2 272.0h1.3M142.1 272.1h1.3M160.3 272.3h1.3M208.3 272.1h1.3M209.3 272.2h1.3M210.2 272.3h1.3M225.1 272.1h1.3M226.1 272.3h1.3M230.2 272.3h1.3M237.1 272.1h1.3M238.1 272.2h1.3M241.2 272.1h1.3M251.3 272.2h1.3M252.1 272.2h1.3M254.2 272.3h1.3M258.0 272.3h1.3M259.3 272.3h1.3M262.2 272.0h1.3M264.1 272.0h1.3M268.2 272.1h1.3M270.1 272.1h1.3M272.0 272.2h1.3M273.0 272.0h1.3M276.2 272.0h1.3M279.3 272.1h1.3M283.1 272.3h1.3M286.3 272.1h1.3M287.1 272.2h1.3M294.2 272.1h1.3M299.2 272.2h1.3M301.1 272.2h1.3M305.3 272.0h1.3M306.2 272.0h1.3M308.2 272.2h1.3M309.2 272.3h1.3M311.1 272.0h1.3M313.2 272.3h1.3M316.1 272.1h1.3M319.3 272.1h1.3M320.2 272.2h1.3M46.2 273.3h1.3M49.2 273.2h1.3M52.1 273.2h1.3M53.1 273.1h1.3M54.1 273.1h1.3M57.1 273.2h1.3M58.2 273.2h1.3M59.0 273.1h1.3M62.0 273.2h1.3M63.2 273.1h1.3M72.1 273.0h1.3M79.1 273.1h1.3M82.2 273.1h1.3M143.2 273.2h1.3M209.2 273.1h1.3M215.1 273.0h1.3M219.0 273.2h1.3M231.3 273.2h1.3M233.1 273.1h1.3M234.1 273.1h1.3M236.3 273.3h1.3M237.1 273.2h1.3M238.3 273.3h1.3M239.1 273.3h1.3M243.1 273.1h1.3M245.2 273.0h1.3M258.2 273.2h1.3M266.0 273.1h1.3M273.3 273.1h1.3M274.2 273.2h1.3M277.1 273.2h1.3M278.2 273.1h1.3M280.2 273.1h1.3M283.0 273.3h1.3M290.1 273.2h1.3M291.0 273.2h1.3M299.0 273.2h1.3M302.2 273.2h1.3M303.0 273.1h1.3M307.1 273.2h1.3M308.0 273.2h1.3M312.1 273.0h1.3M313.3 273.3h1.3M319.3 273.1h1.3M321.1 273.2h1.3M43.0 274.2h1.3M44.3 274.1h1.3M46.3 274.1h1.3M48.2 274.1h1.3M54.1 274.2h1.3M55.1 274.1h1.3M56.1 274.0h1.3M74.2 274.0h1.3M78.1 274.1h1.3M79.1 274.1h1.3M81.2 274.1h1.3M83.2 274.3h1.3M84.3 274.3h1.3M87.1 274.0h1.3M91.1 274.0h1.3M99.3 274.1h1.3M110.1 274.3h1.3M127.2 274.0h1.3M134.2 274.3h1.3M138.1 274.1h1.3M139.0 274.2h1.3M215.3 274.1h1.3M227.2 274.2h1.3M230.3 274.2h1.3M232.1 274.0h1.3M234.0 274.0h1.3M235.1 274.0h1.3M237.0 274.2h1.3M240.2 274.1h1.3M242.0 274.3h1.3M243.0 274.2h1.3M244.0 274.1h1.3M245.1 274.1h1.3M256.2 274.2h1.3M258.3 274.1h1.3M261.2 274.1h1.3M274.1 274.0h1.3M276.3 274.1h1.3M281.0 274.1h1.3M285.1 274.0h1.3M288.2 274.1h1.3M289.0 274.2h1.3M294.0 274.2h1.3M297.1 274.3h1.3M304.1 274.2h1.3M306.3 274.0h1.3M307.1 274.1h1.3M308.1 274.0h1.3M311.2 274.1h1.3M315.1 274.0h1.3M317.0 274.1h1.3M318.2 274.0h1.3M319.1 274.0h1.3M43.2 275.0h1.3M48.0 275.2h1.3M49.1 275.2h1.3M52.3 275.2h1.3M56.1 275.3h1.3M59.1 275.3h1.3M62.1 275.0h1.3M72.2 275.3h1.3M81.3 275.0h1.3M87.1 275.1h1.3M92.1 275.3h1.3M95.3 275.2h1.3M96.2 275.1h1.3M216.3 275.2h1.3M217.3 275.1h1.3M221.1 275.2h1.3M224.1 275.2h1.3M232.2 275.3h1.3M233.0 275.3h1.3M234.0 275.1h1.3M237.1 275.3h1.3M238.1 275.3h1.3M240.2 275.1h1.3M241.3 275.3h1.3M243.0 275.1h1.3M245.3 275.1h1.3M247.1 275.0h1.3M250.1 275.3h1.3M256.2 275.3h1.3M257.1 275.1h1.3M261.3 275.1h1.3M263.0 275.2h1.3M266.0 275.0h1.3M268.0 275.1h1.3M273.2 275.1h1.3M275.1 275.2h1.3M276.3 275.3h1.3M278.1 275.1h1.3M281.0 275.0h1.3M282.1 275.1h1.3M283.0 275.2h1.3M285.2 275.2h1.3M286.3 275.2h1.3M287.1 275.0h1.3M292.1 275.3h1.3M297.2 275.1h1.3M300.1 275.3h1.3M311.3 275.2h1.3M312.2 275.0h1.3M314.3 275.3h1.3M315.3 275.1h1.3M318.0 275.1h1.3M321.0 275.0h1.3M322.1 275.3h1.3M42.1 276.1h1.3M43.1 276.1h1.3M44.1 276.3h1.3M45.0 276.0h1.3M50.1 276.1h1.3M55.1 276.1h1.3M60.2 276.2h1.3M74.3 276.3h1.3M77.2 276.1h1.3M81.3 276.0h1.3M84.0 276.0h1.3M85.1 276.1h1.3M125.0 276.1h1.3M142.1 276.3h1.3M156.0 276.1h1.3M158.3 276.2h1.3M206.0 276.2h1.3M222.3 276.2h1.3M228.1 276.1h1.3M231.3 276.1h1.3M236.2 276.1h1.3M238.0 276.0h1.3M239.0 276.1h1.3M242.0 276.0h1.3M249.2 276.1h1.3M252.1 276.1h1.3M254.1 276.2h1.3M258.0 276.2h1.3M260.1 276.1h1.3M265.2 276.3h1.3M267.2 276.3h1.3M268.2 276.1h1.3M273.2 276.0h1.3M274.2 276.1h1.3M279.1 276.0h1.3M282.3 276.0h1.3M285.3 276.1h1.3M289.2 276.0h1.3M298.1 276.2h1.3M299.1 276.3h1.3M303.1 276.2h1.3M305.2 276.2h1.3M315.0 276.3h1.3M317.0 276.0h1.3M318.1 276.2h1.3M319.1 276.1h1.3M320.2 276.3h1.3M42.3 277.2h1.3M44.0 277.0h1.3M45.2 277.2h1.3M49.3 277.1h1.3M50.2 277.3h1.3M51.2 277.2h1.3M52.1 277.0h1.3M55.2 277.3h1.3M56.1 277.1h1.3M61.2 277.1h1.3M65.1 277.0h1.3M67.1 277.2h1.3M71.1 277.1h1.3M74.1 277.0h1.3M75.1 277.3h1.3M110.1 277.1h1.3M131.1 277.2h1.3M136.2 277.1h1.3M164.3 277.2h1.3M209.1 277.2h1.3M214.2 277.2h1.3M225.1 277.2h1.3M227.1 277.0h1.3M228.2 277.1h1.3M229.2 277.0h1.3M236.0 277.0h1.3M237.1 277.1h1.3M240.1 277.2h1.3M242.1 277.2h1.3M243.1 277.2h1.3M246.1 277.2h1.3M248.1 277.1h1.3M251.1 277.2h1.3M253.2 277.1h1.3M254.2 277.0h1.3M255.1 277.1h1.3M257.2 277.0h1.3M258.1 277.0h1.3M259.1 277.3h1.3M261.1 277.1h1.3M262.2 277.1h1.3M265.0 277.0h1.3M268.1 277.1h1.3M272.2 277.2h1.3M276.1 277.2h1.3M277.2 277.1h1.3M283.2 277.2h1.3M287.1 277.3h1.3M288.1 277.2h1.3M289.3 277.2h1.3M293.2 277.3h1.3M296.1 277.1h1.3M299.3 277.2h1.3M300.2 277.1h1.3M301.1 277.0h1.3M303.1 277.0h1.3M306.2 277.3h1.3M307.1 277.1h1.3M314.2 277.2h1.3M316.1 277.1h1.3M320.0 277.0h1.3M321.2 277.2h1.3M322.2 277.3h1.3M42.3 278.2h1.3M43.0 278.1h1.3M45.2 278.2h1.3M46.1 278.2h1.3M48.2 278.1h1.3M54.1 278.1h1.3M55.3 278.2h1.3M57.3 278.2h1.3M59.3 278.0h1.3M67.3 278.3h1.3M136.1 278.1h1.3M141.1 278.2h1.3M204.2 278.3h1.3M217.2 278.1h1.3M220.0 278.2h1.3M221.2 278.0h1.3M231.3 278.2h1.3M239.3 278.1h1.3M240.0 278.2h1.3M246.1 278.1h1.3M248.3 278.1h1.3M250.2 278.2h1.3M251.0 278.1h1.3M253.2 278.0h1.3M256.2 278.1h1.3M257.0 278.2h1.3M260.1 278.1h1.3M265.3 278.3h1.3M271.1 278.0h1.3M274.1 278.2h1.3M277.2 278.0h1.3M282.3 278.2h1.3M287.0 278.3h1.3M292.2 278.2h1.3M297.1 278.1h1.3M298.1 278.1h1.3M299.0 278.1h1.3M301.1 278.1h1.3M303.3 278.1h1.3M310.3 278.0h1.3M317.3 278.2h1.3M318.2 278.1h1.3M319.3 278.3h1.3M320.1 278.3h1.3M43.2 279.3h1.3M44.1 279.2h1.3M51.0 279.1h1.3M53.3 279.1h1.3M54.1 279.0h1.3M57.1 279.2h1.3M61.2 279.3h1.3M64.1 279.3h1.3M87.1 279.3h1.3M89.2 279.2h1.3M103.3 279.2h1.3M111.1 279.0h1.3M149.2 279.2h1.3M165.2 279.1h1.3M211.3 279.1h1.3M216.2 279.3h1.3M220.2 279.2h1.3M226.2 279.0h1.3M227.1 279.2h1.3M230.2 279.2h1.3M235.3 279.1h1.3M236.2 279.1h1.3M237.1 279.1h1.3M241.0 279.3h1.3M246.1 279.2h1.3M248.1 279.1h1.3M254.2 279.3h1.3M257.3 279.2h1.3M259.2 279.1h1.3M266.2 279.1h1.3M273.3 279.3h1.3M283.1 279.3h1.3M292.2 279.2h1.3M293.1 279.2h1.3M295.1 279.0h1.3M296.1 279.0h1.3M306.2 279.1h1.3M307.1 279.3h1.3M311.0 279.3h1.3M312.1 279.3h1.3M317.2 279.1h1.3M320.2 279.0h1.3M321.2 279.2h1.3M42.3 280.1h1.3M43.3 280.1h1.3M44.1 280.1h1.3M46.0 280.0h1.3M50.2 280.3h1.3M52.2 280.1h1.3M54.0 280.2h1.3M55.0 280.1h1.3M56.0 280.2h1.3M57.1 280.2h1.3M59.1 280.1h1.3M62.2 280.0h1.3M83.1 280.2h1.3M127.2 280.1h1.3M133.3 280.1h1.3M211.0 280.2h1.3M216.1 280.2h1.3M217.0 280.1h1.3M219.1 280.1h1.3M220.0 280.2h1.3M224.1 280.1h1.3M228.2 280.2h1.3M232.1 280.1h1.3M236.1 280.2h1.3M239.0 280.3h1.3M242.3 280.1h1.3M244.2 280.1h1.3M245.1 280.3h1.3M247.0 280.2h1.3M253.1 280.3h1.3M255.3 280.3h1.3M258.0 280.3h1.3M267.1 280.1h1.3M273.3 280.0h1.3M275.1 280.1h1.3M280.2 280.2h1.3M282.1 280.0h1.3M283.2 280.3h1.3M284.1 280.2h1.3M286.1 280.1h1.3M288.2 280.2h1.3M289.2 280.1h1.3M290.1 280.0h1.3M293.1 280.3h1.3M296.2 280.3h1.3M297.2 280.1h1.3M305.1 280.2h1.3M308.0 280.3h1.3M310.2 280.0h1.3M311.1 280.1h1.3M312.0 280.1h1.3M313.2 280.3h1.3M315.1 280.0h1.3M316.2 280.0h1.3M317.3 280.1h1.3M319.1 280.0h1.3M321.0 280.3h1.3M42.2 281.3h1.3M45.2 281.0h1.3M50.3 281.2h1.3M53.1 281.0h1.3M55.1 281.0h1.3M57.0 281.1h1.3M58.2 281.1h1.3M60.0 281.1h1.3M63.2 281.2h1.3M67.2 281.0h1.3M106.3 281.1h1.3M122.1 281.1h1.3M127.2 281.1h1.3M142.1 281.2h1.3M145.2 281.2h1.3M151.0 281.1h1.3M209.0 281.1h1.3M218.3 281.2h1.3M221.2 281.0h1.3M229.1 281.2h1.3M234.1 281.1h1.3M238.2 281.1h1.3M242.1 281.1h1.3M244.1 281.0h1.3M247.2 281.1h1.3M251.2 281.1h1.3M252.1 281.2h1.3M255.2 281.2h1.3M256.1 281.0h1.3M260.0 281.3h1.3M261.1 281.2h1.3M268.3 281.3h1.3M269.1 281.0h1.3M271.2 281.1h1.3M272.0 281.1h1.3M274.1 281.1h1.3M280.2 281.2h1.3M281.3 281.2h1.3M283.0 281.2h1.3M284.2 281.1h1.3M285.1 281.3h1.3M286.0 281.1h1.3M287.2 281.2h1.3M291.1 281.1h1.3M299.3 281.3h1.3M302.3 281.2h1.3M303.2 281.3h1.3M313.1 281.0h1.3M314.2 281.2h1.3M316.1 281.3h1.3M317.3 281.2h1.3M318.2 281.3h1.3M321.3 281.0h1.3M44.2 282.1h1.3M45.2 282.2h1.3M46.2 282.2h1.3M48.2 282.2h1.3M49.3 282.3h1.3M56.3 282.3h1.3M59.2 282.2h1.3M62.1 282.3h1.3M82.0 282.2h1.3M89.2 282.2h1.3M114.0 282.0h1.3M147.1 282.2h1.3M164.2 282.1h1.3M206.0 282.0h1.3M215.1 282.0h1.3M224.1 282.2h1.3M225.2 282.2h1.3M231.0 282.3h1.3M234.1 282.1h1.3M242.1 282.2h1.3M247.2 282.2h1.3M249.0 282.1h1.3M250.3 282.1h1.3M254.2 282.1h1.3M259.0 282.1h1.3M260.0 282.3h1.3M269.0 282.1h1.3M272.3 282.1h1.3M273.2 282.1h1.3M274.2 282.1h1.3M275.2 282.2h1.3M277.1 282.1h1.3M281.2 282.1h1.3M284.2 282.2h1.3M287.1 282.1h1.3M294.1 282.1h1.3M296.0 282.2h1.3M304.1 282.2h1.3M305.2 282.2h1.3M306.0 282.1h1.3M307.2 282.0h1.3M308.2 282.3h1.3M310.1 282.1h1.3M315.1 282.1h1.3M317.2 282.1h1.3M319.0 282.2h1.3M320.0 282.2h1.3M44.3 283.1h1.3M48.3 283.2h1.3M49.1 283.2h1.3M52.0 283.3h1.3M54.2 283.2h1.3M55.0 283.3h1.3M59.2 283.2h1.3M65.2 283.3h1.3M67.1 283.2h1.3M69.1 283.2h1.3M79.1 283.0h1.3M84.1 283.3h1.3M93.1 283.2h1.3M102.2 283.1h1.3M110.3 283.1h1.3M131.1 283.2h1.3M135.2 283.2h1.3M151.0 283.1h1.3M205.1 283.0h1.3M214.3 283.2h1.3M218.3 283.1h1.3M228.2 283.2h1.3M229.2 283.2h1.3M235.1 283.2h1.3M238.1 283.1h1.3M240.3 283.2h1.3M245.1 283.1h1.3M256.1 283.3h1.3M260.0 283.2h1.3M264.1 283.1h1.3M268.2 283.3h1.3M270.2 283.3h1.3M272.0 283.3h1.3M273.2 283.2h1.3M274.1 283.0h1.3M277.1 283.0h1.3M282.2 283.0h1.3M283.2 283.3h1.3M287.1 283.1h1.3M292.2 283.3h1.3M298.1 283.0h1.3M299.2 283.1h1.3M300.1 283.2h1.3M301.1 283.1h1.3M304.2 283.1h1.3M305.2 283.2h1.3M306.2 283.1h1.3M311.3 283.2h1.3M312.1 283.2h1.3M313.0 283.1h1.3M315.1 283.2h1.3M318.0 283.0h1.3M319.1 283.2h1.3M321.3 283.2h1.3M322.3 283.3h1.3M43.1 284.0h1.3M46.0 284.1h1.3M47.1 284.2h1.3M48.1 284.1h1.3M49.1 284.2h1.3M57.2 284.2h1.3M59.3 284.2h1.3M76.3 284.1h1.3M108.2 284.3h1.3M115.1 284.2h1.3M123.3 284.2h1.3M141.1 284.2h1.3M145.1 284.0h1.3M149.2 284.3h1.3M165.2 284.0h1.3M207.2 284.2h1.3M211.3 284.1h1.3M215.2 284.2h1.3M216.3 284.0h1.3M217.2 284.0h1.3M219.2 284.0h1.3M220.3 284.2h1.3M223.1 284.2h1.3M224.2 284.0h1.3M230.2 284.1h1.3M232.2 284.1h1.3M235.2 284.2h1.3M239.3 284.1h1.3M240.3 284.0h1.3M241.3 284.1h1.3M245.2 284.2h1.3M246.1 284.0h1.3M248.1 284.3h1.3M254.1 284.3h1.3M255.0 284.3h1.3M260.1 284.1h1.3M263.1 284.2h1.3M273.1 284.0h1.3M275.2 284.2h1.3M277.2 284.1h1.3M279.0 284.2h1.3M284.3 284.2h1.3M285.2 284.2h1.3M286.3 284.2h1.3M290.1 284.1h1.3M291.0 284.0h1.3M298.2 284.1h1.3M299.1 284.2h1.3M301.1 284.2h1.3M302.2 284.3h1.3M304.2 284.1h1.3M308.1 284.0h1.3M309.3 284.1h1.3M311.1 284.1h1.3M312.2 284.0h1.3M313.3 284.1h1.3M317.2 284.1h1.3M318.2 284.3h1.3M319.1 284.1h1.3M322.0 284.1h1.3M42.0 285.1h1.3M47.1 285.1h1.3M50.2 285.0h1.3M52.2 285.2h1.3M61.3 285.0h1.3M63.1 285.0h1.3M71.0 285.0h1.3M84.2 285.2h1.3M85.2 285.2h1.3M92.2 285.1h1.3M111.2 285.1h1.3M113.1 285.0h1.3M117.1 285.2h1.3M140.2 285.1h1.3M154.1 285.0h1.3M210.0 285.0h1.3M212.1 285.0h1.3M214.1 285.2h1.3M216.2 285.3h1.3M232.2 285.1h1.3M238.1 285.1h1.3M239.3 285.1h1.3M241.0 285.1h1.3M245.1 285.2h1.3M250.1 285.3h1.3M254.1 285.1h1.3M258.2 285.0h1.3M263.2 285.1h1.3M265.0 285.2h1.3M268.3 285.0h1.3M273.2 285.0h1.3M276.2 285.0h1.3M280.1 285.1h1.3M283.0 285.2h1.3M284.1 285.2h1.3M286.2 285.1h1.3M287.1 285.0h1.3M288.1 285.0h1.3M291.2 285.0h1.3M297.2 285.2h1.3M298.2 285.2h1.3M314.1 285.1h1.3M318.2 285.2h1.3M321.2 285.0h1.3M322.1 285.0h1.3M44.1 286.1h1.3M45.2 286.1h1.3M47.2 286.1h1.3M52.3 286.2h1.3M60.0 286.2h1.3M65.3 286.1h1.3M75.1 286.3h1.3M150.0 286.3h1.3M161.3 286.1h1.3M210.0 286.1h1.3M212.3 286.2h1.3M215.2 286.2h1.3M220.0 286.1h1.3M225.1 286.3h1.3M227.1 286.0h1.3M228.1 286.0h1.3M238.2 286.2h1.3M243.1 286.1h1.3M244.1 286.2h1.3M248.1 286.2h1.3M249.3 286.1h1.3M250.1 286.2h1.3M252.2 286.2h1.3M253.1 286.3h1.3M255.3 286.1h1.3M266.0 286.3h1.3M283.1 286.2h1.3M285.3 286.0h1.3M286.1 286.1h1.3M291.1 286.2h1.3M297.2 286.1h1.3M298.0 286.1h1.3M300.1 286.2h1.3M305.2 286.2h1.3M308.0 286.1h1.3M313.1 286.3h1.3M316.0 286.2h1.3M319.1 286.1h1.3M322.0 286.0h1.3M42.3 287.2h1.3M43.2 287.0h1.3M45.2 287.2h1.3M47.2 287.3h1.3M51.0 287.1h1.3M52.2 287.3h1.3M57.2 287.1h1.3M58.2 287.0h1.3M61.3 287.1h1.3M62.0 287.1h1.3M65.1 287.3h1.3M78.0 287.2h1.3M105.2 287.1h1.3M133.1 287.0h1.3M137.2 287.3h1.3M163.3 287.2h1.3M207.1 287.3h1.3M212.3 287.1h1.3M214.1 287.2h1.3M216.2 287.1h1.3M218.3 287.0h1.3M219.0 287.1h1.3M227.2 287.1h1.3M229.0 287.2h1.3M230.1 287.2h1.3M233.3 287.1h1.3M236.1 287.2h1.3M242.3 287.2h1.3M246.1 287.0h1.3M247.1 287.0h1.3M249.1 287.1h1.3M250.1 287.2h1.3M251.1 287.1h1.3M253.1 287.1h1.3M258.2 287.1h1.3M259.2 287.1h1.3M266.2 287.2h1.3M269.3 287.2h1.3M272.0 287.0h1.3M275.0 287.1h1.3M277.2 287.2h1.3M278.1 287.1h1.3M287.2 287.1h1.3M290.3 287.3h1.3M292.3 287.3h1.3M296.0 287.0h1.3M298.3 287.1h1.3M299.3 287.1h1.3M300.2 287.1h1.3M302.1 287.0h1.3M303.1 287.3h1.3M304.0 287.1h1.3M312.0 287.1h1.3M314.1 287.3h1.3M315.1 287.2h1.3M316.0 287.2h1.3M318.1 287.1h1.3M319.1 287.2h1.3M320.2 287.2h1.3M322.3 287.0h1.3M44.1 288.2h1.3M45.1 288.2h1.3M46.1 288.3h1.3M54.3 288.0h1.3M55.3 288.2h1.3M62.1 288.1h1.3M70.1 288.2h1.3M72.2 288.2h1.3M76.0 288.1h1.3M77.1 288.1h1.3M85.0 288.1h1.3M164.0 288.3h1.3M213.1 288.0h1.3M217.0 288.2h1.3M220.1 288.2h1.3M223.2 288.0h1.3M227.2 288.1h1.3M230.1 288.0h1.3M233.0 288.2h1.3M237.2 288.1h1.3M238.1 288.0h1.3M247.3 288.1h1.3M257.0 288.0h1.3M258.0 288.2h1.3M260.0 288.1h1.3M266.3 288.2h1.3M268.2 288.2h1.3M270.0 288.1h1.3M274.2 288.2h1.3M275.1 288.1h1.3M278.3 288.0h1.3M281.1 288.3h1.3M283.2 288.1h1.3M286.1 288.3h1.3M287.1 288.2h1.3M290.0 288.3h1.3M295.2 288.3h1.3M298.1 288.0h1.3M299.2 288.1h1.3M304.2 288.3h1.3M315.0 288.0h1.3M317.1 288.0h1.3M42.1 289.1h1.3M44.2 289.1h1.3M48.2 289.3h1.3M49.2 289.1h1.3M51.1 289.3h1.3M53.1 289.2h1.3M54.2 289.1h1.3M56.1 289.2h1.3M60.3 289.1h1.3M66.2 289.2h1.3M67.2 289.3h1.3M81.2 289.0h1.3M129.2 289.0h1.3M207.2 289.2h1.3M210.1 289.3h1.3M215.1 289.1h1.3M217.1 289.1h1.3M227.0 289.1h1.3M228.1 289.2h1.3M234.2 289.1h1.3M239.3 289.1h1.3M242.1 289.3h1.3M245.0 289.1h1.3M246.2 289.0h1.3M256.1 289.0h1.3M261.2 289.2h1.3M262.3 289.1h1.3M266.0 289.2h1.3M271.2 289.2h1.3M274.1 289.2h1.3M275.1 289.3h1.3M281.3 289.1h1.3M283.3 289.0h1.3M287.2 289.1h1.3M290.1 289.0h1.3M292.1 289.2h1.3M294.3 289.2h1.3M295.2 289.2h1.3M297.2 289.2h1.3M298.2 289.0h1.3M300.1 289.1h1.3M304.0 289.0h1.3M308.3 289.3h1.3M312.0 289.1h1.3M313.0 289.3h1.3M315.2 289.2h1.3M319.0 289.2h1.3M320.1 289.2h1.3M322.2 289.0h1.3M42.3 290.3h1.3M43.2 290.0h1.3M44.3 290.3h1.3M45.2 290.2h1.3M46.2 290.1h1.3M47.1 290.1h1.3M50.3 290.2h1.3M51.1 290.0h1.3M55.1 290.1h1.3M56.1 290.3h1.3M59.1 290.2h1.3M61.1 290.1h1.3M64.2 290.1h1.3M66.2 290.0h1.3M68.3 290.1h1.3M72.3 290.1h1.3M96.2 290.1h1.3M141.3 290.3h1.3M143.1 290.2h1.3M211.2 290.1h1.3M212.3 290.0h1.3M214.1 290.0h1.3M217.0 290.1h1.3M218.1 290.1h1.3M220.2 290.0h1.3M223.3 290.1h1.3M229.2 290.1h1.3M230.2 290.2h1.3M237.0 290.2h1.3M238.2 290.1h1.3M241.1 290.2h1.3M245.1 290.1h1.3M249.2 290.2h1.3M251.1 290.2h1.3M253.1 290.0h1.3M254.2 290.1h1.3M259.1 290.1h1.3M260.3 290.0h1.3M267.1 290.1h1.3M275.1 290.2h1.3M276.1 290.3h1.3M278.0 290.1h1.3M281.1 290.0h1.3M288.3 290.3h1.3M289.2 290.2h1.3M290.2 290.1h1.3M291.2 290.3h1.3M294.2 290.0h1.3M297.2 290.1h1.3M298.0 290.2h1.3M299.2 290.1h1.3M300.2 290.1h1.3M302.2 290.3h1.3M304.2 290.1h1.3M306.0 290.1h1.3M310.2 290.2h1.3M311.3 290.1h1.3M312.0 290.0h1.3M314.0 290.2h1.3M316.1 290.3h1.3M43.3 291.2h1.3M46.3 291.0h1.3M48.1 291.3h1.3M51.1 291.1h1.3M54.1 291.3h1.3M56.2 291.2h1.3M59.2 291.1h1.3M85.2 291.2h1.3M91.1 291.0h1.3M99.2 291.3h1.3M110.0 291.1h1.3M128.1 291.1h1.3M168.3 291.2h1.3M216.0 291.2h1.3M217.2 291.1h1.3M218.3 291.0h1.3M219.1 291.2h1.3M220.0 291.1h1.3M224.0 291.2h1.3M225.1 291.1h1.3M226.3 291.1h1.3M228.3 291.3h1.3M229.2 291.2h1.3M232.3 291.2h1.3M235.2 291.3h1.3M236.2 291.2h1.3M241.0 291.0h1.3M246.2 291.0h1.3M249.0 291.0h1.3M254.1 291.1h1.3M257.3 291.0h1.3M260.1 291.2h1.3M262.1 291.2h1.3M263.2 291.2h1.3M264.1 291.3h1.3M266.1 291.2h1.3M269.2 291.2h1.3M272.1 291.0h1.3M275.2 291.1h1.3M285.2 291.0h1.3M289.2 291.0h1.3M290.1 291.2h1.3M292.2 291.1h1.3M293.0 291.2h1.3M294.1 291.3h1.3M305.1 291.2h1.3M310.0 291.2h1.3M313.3 291.1h1.3M315.1 291.3h1.3M317.1 291.2h1.3M318.1 291.1h1.3M322.0 291.2h1.3M42.2 292.1h1.3M44.3 292.1h1.3M50.2 292.1h1.3M51.1 292.2h1.3M57.2 292.1h1.3M59.0 292.1h1.3M63.3 292.0h1.3M76.2 292.1h1.3M80.0 292.3h1.3M89.3 292.0h1.3M91.1 292.3h1.3M139.1 292.3h1.3M217.1 292.2h1.3M218.2 292.0h1.3M219.3 292.1h1.3M226.3 292.2h1.3M230.2 292.1h1.3M233.0 292.2h1.3M234.3 292.0h1.3M240.3 292.2h1.3M243.0 292.1h1.3M244.3 292.3h1.3M246.1 292.0h1.3M253.1 292.3h1.3M257.0 292.1h1.3M262.0 292.1h1.3M264.0 292.1h1.3M265.2 292.3h1.3M267.1 292.0h1.3M269.2 292.0h1.3M276.1 292.1h1.3M277.2 292.2h1.3M278.0 292.1h1.3M282.0 292.2h1.3M290.2 292.3h1.3M292.2 292.1h1.3M293.2 292.1h1.3M298.1 292.1h1.3M301.2 292.1h1.3M308.3 292.1h1.3M309.0 292.1h1.3M310.2 292.1h1.3M311.1 292.2h1.3M314.2 292.1h1.3M319.0 292.1h1.3M42.2 293.1h1.3M43.1 293.1h1.3M44.1 293.1h1.3M45.2 293.1h1.3M48.3 293.1h1.3M50.0 293.0h1.3M53.3 293.2h1.3M59.3 293.2h1.3M61.1 293.0h1.3M73.2 293.3h1.3M77.0 293.2h1.3M100.3 293.2h1.3M118.2 293.1h1.3M120.2 293.1h1.3M124.2 293.1h1.3M126.2 293.3h1.3M132.3 293.1h1.3M216.2 293.0h1.3M217.1 293.2h1.3M218.1 293.3h1.3M220.2 293.3h1.3M222.2 293.3h1.3M231.1 293.1h1.3M235.1 293.2h1.3M236.0 293.2h1.3M237.2 293.2h1.3M238.2 293.0h1.3M239.2 293.2h1.3M241.1 293.1h1.3M243.2 293.2h1.3M244.3 293.3h1.3M247.1 293.1h1.3M254.1 293.2h1.3M255.1 293.0h1.3M262.1 293.0h1.3M263.2 293.0h1.3M268.0 293.1h1.3M269.2 293.1h1.3M271.1 293.1h1.3M274.0 293.2h1.3M275.2 293.0h1.3M279.2 293.2h1.3M282.1 293.2h1.3M283.1 293.3h1.3M285.1 293.3h1.3M287.3 293.2h1.3M288.2 293.3h1.3M289.1 293.2h1.3M292.0 293.1h1.3M304.1 293.2h1.3M306.2 293.3h1.3M312.2 293.1h1.3M314.1 293.1h1.3M315.2 293.2h1.3M316.3 293.2h1.3M317.0 293.1h1.3M319.1 293.2h1.3M45.1 294.2h1.3M47.1 294.1h1.3M48.0 294.2h1.3M50.3 294.3h1.3M52.0 294.1h1.3M53.0 294.1h1.3M58.2 294.3h1.3M63.2 294.2h1.3M64.3 294.1h1.3M69.2 294.3h1.3M83.3 294.1h1.3M89.1 294.2h1.3M118.0 294.2h1.3M127.0 294.0h1.3M131.0 294.1h1.3M155.2 294.2h1.3M157.1 294.0h1.3M159.0 294.2h1.3M203.2 294.0h1.3M212.1 294.0h1.3M213.2 294.2h1.3M217.2 294.2h1.3M220.3 294.1h1.3M224.1 294.2h1.3M232.3 294.3h1.3M235.3 294.2h1.3M240.2 294.2h1.3M243.1 294.1h1.3M248.0 294.1h1.3M250.1 294.1h1.3M252.2 294.3h1.3M255.1 294.1h1.3M262.2 294.2h1.3M263.2 294.2h1.3M264.2 294.1h1.3M265.0 294.3h1.3M270.2 294.3h1.3M273.0 294.2h1.3M274.2 294.2h1.3M283.2 294.0h1.3M284.3 294.0h1.3M285.3 294.2h1.3M291.2 294.2h1.3M292.1 294.1h1.3M295.2 294.2h1.3M296.1 294.0h1.3M297.3 294.3h1.3M303.0 294.1h1.3M307.1 294.2h1.3M318.1 294.0h1.3M322.2 294.2h1.3M42.2 295.0h1.3M43.2 295.3h1.3M47.1 295.1h1.3M48.3 295.2h1.3M121.1 295.2h1.3M166.3 295.2h1.3M169.3 295.1h1.3M170.0 295.0h1.3M202.2 295.3h1.3M210.1 295.1h1.3M217.2 295.2h1.3M220.0 295.2h1.3M222.1 295.2h1.3M228.1 295.1h1.3M231.1 295.1h1.3M233.1 295.3h1.3M234.3 295.1h1.3M235.1 295.0h1.3M237.1 295.1h1.3M246.1 295.1h1.3M250.3 295.0h1.3M251.1 295.3h1.3M254.1 295.0h1.3M257.2 295.0h1.3M265.3 295.0h1.3M267.0 295.1h1.3M269.2 295.2h1.3M272.3 295.0h1.3M275.1 295.1h1.3M280.1 295.3h1.3M281.1 295.1h1.3M286.3 295.2h1.3M297.0 295.1h1.3M300.3 295.3h1.3M310.2 295.2h1.3M313.2 295.2h1.3M315.1 295.1h1.3M316.3 295.2h1.3M318.2 295.2h1.3M319.1 295.1h1.3M42.1 296.2h1.3M43.0 296.2h1.3M46.1 296.0h1.3M47.1 296.3h1.3M48.2 296.3h1.3M51.2 296.3h1.3M52.3 296.2h1.3M53.1 296.1h1.3M57.1 296.0h1.3M60.2 296.3h1.3M61.2 296.0h1.3M62.1 296.0h1.3M63.1 296.1h1.3M69.1 296.1h1.3M75.0 296.1h1.3M93.2 296.2h1.3M117.0 296.2h1.3M129.0 296.0h1.3M133.0 296.1h1.3M138.1 296.0h1.3M144.1 296.0h1.3M166.0 296.1h1.3M200.2 296.2h1.3M202.3 296.1h1.3M212.3 296.1h1.3M213.2 296.2h1.3M214.1 296.2h1.3M215.1 296.2h1.3M216.2 296.3h1.3M217.2 296.1h1.3M226.2 296.1h1.3M227.1 296.2h1.3M229.2 296.2h1.3M230.1 296.1h1.3M234.1 296.2h1.3M245.0 296.1h1.3M253.1 296.1h1.3M255.1 296.2h1.3M259.2 296.2h1.3M260.1 296.2h1.3M270.3 296.0h1.3M272.1 296.1h1.3M274.2 296.3h1.3M277.2 296.2h1.3M279.3 296.1h1.3M286.1 296.1h1.3M288.2 296.1h1.3M290.1 296.2h1.3M291.0 296.3h1.3M294.2 296.3h1.3M295.2 296.1h1.3M297.1 296.3h1.3M301.0 296.1h1.3M305.2 296.1h1.3M309.1 296.2h1.3M310.1 296.3h1.3M314.1 296.2h1.3M317.3 296.1h1.3M318.2 296.2h1.3M320.1 296.2h1.3M322.3 296.2h1.3M43.1 297.0h1.3M46.3 297.2h1.3M49.1 297.2h1.3M55.3 297.1h1.3M59.2 297.2h1.3M73.1 297.0h1.3M75.0 297.0h1.3M108.0 297.0h1.3M124.3 297.1h1.3M137.2 297.0h1.3M153.1 297.2h1.3M211.0 297.0h1.3M212.1 297.2h1.3M213.2 297.3h1.3M215.1 297.3h1.3M221.2 297.1h1.3M225.1 297.1h1.3M227.3 297.1h1.3M229.0 297.2h1.3M230.2 297.1h1.3M231.2 297.1h1.3M239.0 297.1h1.3M244.0 297.0h1.3M250.3 297.3h1.3M253.1 297.0h1.3M254.0 297.2h1.3M258.3 297.3h1.3M261.0 297.0h1.3M268.1 297.1h1.3M275.1 297.1h1.3M280.2 297.2h1.3M286.1 297.2h1.3M287.2 297.0h1.3M294.0 297.0h1.3M296.0 297.2h1.3M304.0 297.1h1.3M308.1 297.0h1.3M309.0 297.3h1.3M312.1 297.2h1.3M314.3 297.3h1.3M316.2 297.3h1.3M319.1 297.2h1.3M321.3 297.0h1.3M45.3 298.1h1.3M49.0 298.0h1.3M51.3 298.3h1.3M52.2 298.0h1.3M53.2 298.1h1.3M54.1 298.1h1.3M55.1 298.3h1.3M58.2 298.3h1.3M61.0 298.3h1.3M62.2 298.1h1.3M70.3 298.1h1.3M204.1 298.3h1.3M211.1 298.3h1.3M221.0 298.2h1.3M228.0 298.0h1.3M234.0 298.1h1.3M236.2 298.2h1.3M239.2 298.1h1.3M245.1 298.2h1.3M251.2 298.1h1.3M258.1 298.3h1.3M259.1 298.0h1.3M264.2 298.1h1.3M269.1 298.1h1.3M273.1 298.1h1.3M274.1 298.1h1.3M275.2 298.3h1.3M284.1 298.1h1.3M287.3 298.2h1.3M303.0 298.2h1.3M304.1 298.1h1.3M306.3 298.2h1.3M311.1 298.2h1.3M313.2 298.0h1.3M314.2 298.1h1.3M316.0 298.2h1.3M317.3 298.1h1.3M319.3 298.2h1.3M45.2 299.3h1.3M47.1 299.2h1.3M48.1 299.1h1.3M49.2 299.1h1.3M55.3 299.1h1.3M56.0 299.3h1.3M58.3 299.0h1.3M59.3 299.3h1.3M66.0 299.2h1.3M75.1 299.1h1.3M85.2 299.1h1.3M86.2 299.1h1.3M87.3 299.1h1.3M96.2 299.3h1.3M155.3 299.1h1.3M161.1 299.2h1.3M215.3 299.1h1.3M217.2 299.2h1.3M222.1 299.3h1.3M230.1 299.2h1.3M238.1 299.2h1.3M244.3 299.1h1.3M258.0 299.3h1.3M260.3 299.2h1.3M261.1 299.0h1.3M263.1 299.2h1.3M265.1 299.1h1.3M267.1 299.2h1.3M278.2 299.1h1.3M280.2 299.1h1.3M281.2 299.1h1.3M284.3 299.2h1.3M286.0 299.1h1.3M303.1 299.3h1.3M308.0 299.2h1.3M313.2 299.1h1.3M316.3 299.3h1.3M319.3 299.2h1.3M320.3 299.1h1.3M321.3 299.1h1.3M322.1 299.2h1.3M42.1 300.1h1.3M43.1 300.2h1.3M46.1 300.1h1.3M48.1 300.1h1.3M49.1 300.0h1.3M50.1 300.3h1.3M60.3 300.1h1.3M76.1 300.0h1.3M85.2 300.2h1.3M126.3 300.1h1.3M201.1 300.1h1.3M209.1 300.3h1.3M212.0 300.2h1.3M215.3 300.2h1.3M216.1 300.1h1.3M218.2 300.3h1.3M220.3 300.2h1.3M221.2 300.3h1.3M222.1 300.3h1.3M224.2 300.2h1.3M230.2 300.2h1.3M231.1 300.2h1.3M233.2 300.2h1.3M236.2 300.1h1.3M237.0 300.1h1.3M244.1 300.2h1.3M246.2 300.3h1.3M251.1 300.1h1.3M253.3 300.2h1.3M254.2 300.3h1.3M255.0 300.0h1.3M258.2 300.0h1.3M262.2 300.1h1.3M264.2 300.2h1.3M269.2 300.2h1.3M277.0 300.1h1.3M278.1 300.3h1.3M280.3 300.3h1.3M281.2 300.3h1.3M286.0 300.0h1.3M287.2 300.2h1.3M295.2 300.2h1.3M296.1 300.2h1.3M297.1 300.0h1.3M301.1 300.2h1.3M305.0 300.2h1.3M306.3 300.1h1.3M307.3 300.1h1.3M308.3 300.3h1.3M311.1 300.0h1.3M312.3 300.2h1.3M313.1 300.3h1.3M314.1 300.2h1.3M315.2 300.1h1.3M316.1 300.2h1.3M319.2 300.0h1.3M322.2 300.3h1.3M44.2 301.0h1.3M45.0 301.2h1.3M47.2 301.3h1.3M51.1 301.2h1.3M53.1 301.2h1.3M54.0 301.1h1.3M55.2 301.1h1.3M57.2 301.1h1.3M60.1 301.1h1.3M71.1 301.3h1.3M85.1 301.1h1.3M86.2 301.1h1.3M111.1 301.1h1.3M112.1 301.2h1.3M135.1 301.1h1.3M146.1 301.2h1.3M147.0 301.2h1.3M201.2 301.1h1.3M213.2 301.1h1.3M215.0 301.3h1.3M218.1 301.1h1.3M221.2 301.0h1.3M235.2 301.1h1.3M238.1 301.2h1.3M254.2 301.1h1.3M259.2 301.1h1.3M264.0 301.1h1.3M265.1 301.2h1.3M271.2 301.1h1.3M272.0 301.0h1.3M278.0 301.1h1.3M281.2 301.2h1.3M289.1 301.2h1.3M292.2 301.2h1.3M293.2 301.2h1.3M302.2 301.2h1.3M303.3 301.2h1.3M304.2 301.0h1.3M305.1 301.3h1.3M306.0 301.2h1.3M307.1 301.2h1.3M308.2 301.0h1.3M309.1 301.1h1.3M311.2 301.2h1.3M312.2 301.1h1.3M313.3 301.2h1.3M314.3 301.1h1.3M315.2 301.1h1.3M317.3 301.1h1.3M322.1 301.2h1.3M43.2 302.0h1.3M44.1 302.0h1.3M45.1 302.2h1.3M46.0 302.1h1.3M47.3 302.2h1.3M48.1 302.1h1.3M49.2 302.2h1.3M56.3 302.2h1.3M59.0 302.2h1.3M62.3 302.0h1.3M114.1 302.3h1.3M122.2 302.1h1.3M133.2 302.1h1.3M147.1 302.0h1.3M157.1 302.2h1.3M201.0 302.2h1.3M207.2 302.2h1.3M216.1 302.2h1.3M227.3 302.3h1.3M230.1 302.1h1.3M231.2 302.2h1.3M240.1 302.1h1.3M247.2 302.1h1.3M258.1 302.1h1.3M263.2 302.2h1.3M264.1 302.2h1.3M268.2 302.2h1.3M269.3 302.1h1.3M275.2 302.3h1.3M276.1 302.0h1.3M285.2 302.2h1.3M287.1 302.0h1.3M289.2 302.2h1.3M293.2 302.3h1.3M296.2 302.3h1.3M297.1 302.2h1.3M299.1 302.1h1.3M300.3 302.1h1.3M302.1 302.3h1.3M307.3 302.3h1.3M309.2 302.3h1.3M310.2 302.0h1.3M311.0 302.3h1.3M313.1 302.1h1.3M314.1 302.0h1.3M315.2 302.2h1.3M316.2 302.2h1.3M317.3 302.3h1.3M318.2 302.0h1.3M320.2 302.0h1.3M321.1 302.3h1.3M42.2 303.0h1.3M44.1 303.2h1.3M45.1 303.1h1.3M48.1 303.2h1.3M52.1 303.0h1.3M53.2 303.2h1.3M54.3 303.3h1.3M57.0 303.0h1.3M58.1 303.0h1.3M59.0 303.2h1.3M64.0 303.2h1.3M68.3 303.3h1.3M88.1 303.3h1.3M90.2 303.1h1.3M97.2 303.1h1.3M129.3 303.2h1.3M137.2 303.0h1.3M140.2 303.1h1.3M143.3 303.1h1.3M147.3 303.2h1.3M171.1 303.0h1.3M174.0 303.3h1.3M211.1 303.3h1.3M214.2 303.0h1.3M215.3 303.2h1.3M216.3 303.3h1.3M228.2 303.3h1.3M229.2 303.1h1.3M232.2 303.2h1.3M235.3 303.0h1.3M246.1 303.3h1.3M251.0 303.1h1.3M252.1 303.3h1.3M253.1 303.3h1.3M257.1 303.3h1.3M261.1 303.1h1.3M264.0 303.3h1.3M266.2 303.1h1.3M270.0 303.2h1.3M278.1 303.1h1.3M279.1 303.1h1.3M280.3 303.1h1.3M281.3 303.1h1.3M286.3 303.3h1.3M291.3 303.2h1.3M294.2 303.2h1.3M298.0 303.3h1.3M301.2 303.0h1.3M303.2 303.2h1.3M304.0 303.1h1.3M305.2 303.1h1.3M310.2 303.1h1.3M315.2 303.2h1.3M317.1 303.3h1.3M319.3 303.3h1.3M322.0 303.1h1.3M44.1 304.2h1.3M45.3 304.1h1.3M47.1 304.2h1.3M49.2 304.3h1.3M51.0 304.2h1.3M52.1 304.3h1.3M54.2 304.2h1.3M55.3 304.0h1.3M56.2 304.1h1.3M58.2 304.1h1.3M63.3 304.2h1.3M67.2 304.2h1.3M80.2 304.3h1.3M89.1 304.1h1.3M90.2 304.2h1.3M95.2 304.0h1.3M119.0 304.2h1.3M145.2 304.1h1.3M151.2 304.1h1.3M215.2 304.2h1.3M221.1 304.3h1.3M222.1 304.1h1.3M225.2 304.3h1.3M230.3 304.3h1.3M231.2 304.3h1.3M232.3 304.3h1.3M233.1 304.2h1.3M241.1 304.1h1.3M243.2 304.2h1.3M244.2 304.0h1.3M245.0 304.1h1.3M252.1 304.2h1.3M253.2 304.0h1.3M257.2 304.2h1.3M262.3 304.1h1.3M267.1 304.1h1.3M271.2 304.0h1.3M272.0 304.1h1.3M275.0 304.2h1.3M276.2 304.3h1.3M278.1 304.1h1.3M281.2 304.2h1.3M286.1 304.0h1.3M287.1 304.2h1.3M288.3 304.1h1.3M290.1 304.1h1.3M298.1 304.1h1.3M302.0 304.0h1.3M310.0 304.1h1.3M311.1 304.3h1.3M313.1 304.1h1.3M314.2 304.1h1.3M315.0 304.1h1.3M316.3 304.1h1.3M318.1 304.2h1.3M320.3 304.1h1.3M321.2 304.2h1.3M42.2 305.0h1.3M47.2 305.0h1.3M48.2 305.1h1.3M49.2 305.2h1.3M53.2 305.2h1.3M54.1 305.3h1.3M55.1 305.0h1.3M56.2 305.1h1.3M59.1 305.2h1.3M63.0 305.0h1.3M81.1 305.3h1.3M96.3 305.1h1.3M122.0 305.0h1.3M123.0 305.1h1.3M145.3 305.3h1.3M152.0 305.2h1.3M205.1 305.2h1.3M217.3 305.1h1.3M218.2 305.3h1.3M222.2 305.3h1.3M228.0 305.1h1.3M229.0 305.1h1.3M233.2 305.2h1.3M242.3 305.2h1.3M243.3 305.0h1.3M244.2 305.2h1.3M254.1 305.2h1.3M255.1 305.1h1.3M256.2 305.1h1.3M257.2 305.2h1.3M258.2 305.0h1.3M259.2 305.2h1.3M260.3 305.3h1.3M262.1 305.2h1.3M267.0 305.2h1.3M269.1 305.2h1.3M275.3 305.2h1.3M277.2 305.3h1.3M283.1 305.2h1.3M284.2 305.2h1.3M286.0 305.1h1.3M287.1 305.0h1.3M289.1 305.2h1.3M292.1 305.2h1.3M294.2 305.3h1.3M302.1 305.1h1.3M304.1 305.2h1.3M308.2 305.1h1.3M313.1 305.1h1.3M317.2 305.1h1.3M320.2 305.1h1.3M322.1 305.0h1.3M43.2 306.2h1.3M48.0 306.0h1.3M51.2 306.1h1.3M54.1 306.2h1.3M56.2 306.2h1.3M58.1 306.2h1.3M64.2 306.2h1.3M65.3 306.3h1.3M67.2 306.0h1.3M70.0 306.2h1.3M81.1 306.2h1.3M83.0 306.2h1.3M85.0 306.0h1.3M95.0 306.2h1.3M205.2 306.2h1.3M213.3 306.1h1.3M217.3 306.2h1.3M221.1 306.1h1.3M222.2 306.2h1.3M228.0 306.3h1.3M229.2 306.0h1.3M234.2 306.3h1.3M238.1 306.3h1.3M239.2 306.1h1.3M240.1 306.3h1.3M242.1 306.3h1.3M256.1 306.1h1.3M257.1 306.0h1.3M258.2 306.2h1.3M260.2 306.1h1.3M261.0 306.0h1.3M263.0 306.2h1.3M265.0 306.1h1.3M271.1 306.2h1.3M276.3 306.3h1.3M278.0 306.2h1.3M283.1 306.3h1.3M285.3 306.3h1.3M286.1 306.2h1.3M289.2 306.0h1.3M290.2 306.3h1.3M291.0 306.0h1.3M293.0 306.0h1.3M295.3 306.2h1.3M296.0 306.1h1.3M302.3 306.1h1.3M303.0 306.0h1.3M310.3 306.1h1.3M312.1 306.3h1.3M315.1 306.0h1.3M316.1 306.1h1.3M318.1 306.1h1.3M321.1 306.2h1.3M322.1 306.2h1.3M47.1 307.1h1.3M48.3 307.0h1.3M49.3 307.3h1.3M52.3 307.0h1.3M55.2 307.3h1.3M58.1 307.1h1.3M62.0 307.0h1.3M71.2 307.2h1.3M75.2 307.1h1.3M87.0 307.2h1.3M88.2 307.0h1.3M103.0 307.1h1.3M124.2 307.1h1.3M125.1 307.3h1.3M143.1 307.1h1.3M150.2 307.1h1.3M167.2 307.2h1.3M176.2 307.2h1.3M200.3 307.2h1.3M211.2 307.2h1.3M216.2 307.1h1.3M219.2 307.1h1.3M224.3 307.1h1.3M225.2 307.1h1.3M226.1 307.3h1.3M228.2 307.0h1.3M230.0 307.1h1.3M234.2 307.3h1.3M235.2 307.0h1.3M236.1 307.1h1.3M246.2 307.1h1.3M247.1 307.1h1.3M248.1 307.1h1.3M251.2 307.2h1.3M254.1 307.1h1.3M262.0 307.2h1.3M267.3 307.1h1.3M268.2 307.2h1.3M273.2 307.3h1.3M277.2 307.1h1.3M281.2 307.2h1.3M285.2 307.2h1.3M287.1 307.2h1.3M288.1 307.1h1.3M289.2 307.0h1.3M290.1 307.2h1.3M302.0 307.1h1.3M304.1 307.2h1.3M305.3 307.1h1.3M306.1 307.1h1.3M309.1 307.0h1.3M310.1 307.2h1.3M313.2 307.2h1.3M314.1 307.1h1.3M319.1 307.0h1.3M320.1 307.1h1.3M321.0 307.1h1.3M322.3 307.3h1.3M42.1 308.1h1.3M44.2 308.3h1.3M46.3 308.0h1.3M55.2 308.2h1.3M56.2 308.1h1.3M58.2 308.1h1.3M59.2 308.2h1.3M61.1 308.0h1.3M63.1 308.1h1.3M72.1 308.1h1.3M91.1 308.3h1.3M113.2 308.1h1.3M138.2 308.2h1.3M147.3 308.3h1.3M200.2 308.3h1.3M205.3 308.1h1.3M210.3 308.0h1.3M216.2 308.0h1.3M218.1 308.3h1.3M227.0 308.2h1.3M229.1 308.3h1.3M230.1 308.2h1.3M232.1 308.3h1.3M234.1 308.1h1.3M236.1 308.2h1.3M242.2 308.2h1.3M249.1 308.2h1.3M252.2 308.1h1.3M254.2 308.2h1.3M261.1 308.2h1.3M269.2 308.3h1.3M273.2 308.3h1.3M276.1 308.0h1.3M278.1 308.1h1.3M279.0 308.3h1.3M282.0 308.3h1.3M283.3 308.0h1.3M287.2 308.3h1.3M289.1 308.2h1.3M292.1 308.2h1.3M296.1 308.2h1.3M301.3 308.2h1.3M305.1 308.2h1.3M317.1 308.1h1.3M318.1 308.3h1.3M319.3 308.2h1.3M320.3 308.1h1.3M322.1 308.2h1.3M43.1 309.0h1.3M45.0 309.1h1.3M46.2 309.1h1.3M48.1 309.1h1.3M49.1 309.1h1.3M50.1 309.1h1.3M52.0 309.2h1.3M55.0 309.3h1.3M56.3 309.3h1.3M59.2 309.2h1.3M61.3 309.2h1.3M68.3 309.2h1.3M70.0 309.2h1.3M74.3 309.1h1.3M107.1 309.1h1.3M130.1 309.1h1.3M167.2 309.1h1.3M170.2 309.1h1.3M174.2 309.1h1.3M202.1 309.0h1.3M211.1 309.1h1.3M214.1 309.0h1.3M215.1 309.1h1.3M216.1 309.1h1.3M224.0 309.2h1.3M227.3 309.3h1.3M228.1 309.2h1.3M232.0 309.0h1.3M234.1 309.3h1.3M239.0 309.1h1.3M245.0 309.1h1.3M246.1 309.1h1.3M249.1 309.3h1.3M250.2 309.2h1.3M251.3 309.1h1.3M253.2 309.2h1.3M260.2 309.3h1.3M265.2 309.3h1.3M268.3 309.1h1.3M269.0 309.1h1.3M270.2 309.3h1.3M271.0 309.1h1.3M272.2 309.1h1.3M276.0 309.1h1.3M277.0 309.2h1.3M278.1 309.0h1.3M281.2 309.2h1.3M283.2 309.2h1.3M289.2 309.2h1.3M291.2 309.0h1.3M295.2 309.2h1.3M297.1 309.2h1.3M298.1 309.1h1.3M299.0 309.2h1.3M301.2 309.1h1.3M307.0 309.3h1.3M313.0 309.1h1.3M316.1 309.3h1.3M318.2 309.0h1.3M320.1 309.1h1.3M42.0 310.0h1.3M43.1 310.1h1.3M48.1 310.0h1.3M53.0 310.1h1.3M54.2 310.1h1.3M55.2 310.3h1.3M56.2 310.2h1.3M62.1 310.1h1.3M64.1 310.1h1.3M67.1 310.1h1.3M71.2 310.1h1.3M75.1 310.0h1.3M81.3 310.1h1.3M90.0 310.3h1.3M95.3 310.2h1.3M108.1 310.3h1.3M157.1 310.1h1.3M214.2 310.3h1.3M216.2 310.1h1.3M217.2 310.2h1.3M227.3 310.1h1.3M229.2 310.2h1.3M236.1 310.1h1.3M242.2 310.3h1.3M245.1 310.1h1.3M250.3 310.2h1.3M252.1 310.1h1.3M255.3 310.2h1.3M257.0 310.1h1.3M263.1 310.2h1.3M267.3 310.1h1.3M268.3 310.3h1.3M269.3 310.2h1.3M272.3 310.2h1.3M277.2 310.2h1.3M280.1 310.1h1.3M281.1 310.0h1.3M283.0 310.3h1.3M284.1 310.0h1.3M287.1 310.2h1.3M289.3 310.3h1.3M292.2 310.3h1.3M293.1 310.3h1.3M300.1 310.2h1.3M301.2 310.2h1.3M302.3 310.2h1.3M303.0 310.2h1.3M305.1 310.0h1.3M306.2 310.1h1.3M314.0 310.0h1.3M315.1 310.1h1.3M317.1 310.0h1.3M319.2 310.1h1.3M42.1 311.2h1.3M46.1 311.1h1.3M47.2 311.2h1.3M50.1 311.1h1.3M54.1 311.1h1.3M64.0 311.2h1.3M67.2 311.3h1.3M73.1 311.2h1.3M76.1 311.2h1.3M81.2 311.2h1.3M86.3 311.3h1.3M100.2 311.1h1.3M106.1 311.1h1.3M113.2 311.2h1.3M155.3 311.0h1.3M176.2 311.0h1.3M202.2 311.1h1.3M215.1 311.2h1.3M219.3 311.1h1.3M220.2 311.2h1.3M224.0 311.2h1.3M225.3 311.1h1.3M228.3 311.2h1.3M229.0 311.0h1.3M231.0 311.1h1.3M243.1 311.1h1.3M246.3 311.0h1.3M250.2 311.1h1.3M253.1 311.2h1.3M255.1 311.2h1.3M258.3 311.2h1.3M263.3 311.1h1.3M269.2 311.0h1.3M272.3 311.2h1.3M275.2 311.0h1.3M277.2 311.1h1.3M278.3 311.1h1.3M280.0 311.2h1.3M282.0 311.3h1.3M284.0 311.1h1.3M291.3 311.1h1.3M292.2 311.2h1.3M294.1 311.1h1.3M298.2 311.2h1.3M301.0 311.2h1.3M303.3 311.0h1.3M304.1 311.0h1.3M306.2 311.0h1.3M307.2 311.1h1.3M310.0 311.1h1.3M312.2 311.2h1.3M313.0 311.2h1.3M316.3 311.2h1.3M318.1 311.2h1.3M319.3 311.1h1.3M320.1 311.3h1.3M321.1 311.1h1.3M44.3 312.2h1.3M46.1 312.3h1.3M47.1 312.2h1.3M48.0 312.2h1.3M49.1 312.2h1.3M52.3 312.2h1.3M53.1 312.1h1.3M56.3 312.2h1.3M57.1 312.2h1.3M78.1 312.2h1.3M83.1 312.1h1.3M84.2 312.2h1.3M88.2 312.0h1.3M101.1 312.1h1.3M102.2 312.0h1.3M115.0 312.3h1.3M142.0 312.1h1.3M152.3 312.2h1.3M215.2 312.1h1.3M217.2 312.1h1.3M220.0 312.1h1.3M224.3 312.0h1.3M225.0 312.3h1.3M226.1 312.3h1.3M228.2 312.1h1.3M230.3 312.2h1.3M231.1 312.1h1.3M232.3 312.2h1.3M233.2 312.1h1.3M234.2 312.0h1.3M244.3 312.1h1.3M250.2 312.1h1.3M252.0 312.0h1.3M258.2 312.1h1.3M261.3 312.2h1.3M265.1 312.2h1.3M267.0 312.3h1.3M270.3 312.3h1.3M274.3 312.1h1.3M279.2 312.2h1.3M285.2 312.3h1.3M290.3 312.1h1.3M291.1 312.1h1.3M306.0 312.2h1.3M309.3 312.3h1.3M316.3 312.0h1.3M317.1 312.0h1.3M318.2 312.0h1.3M320.0 312.0h1.3M46.1 313.2h1.3M47.1 313.2h1.3M49.1 313.2h1.3M51.2 313.3h1.3M53.1 313.2h1.3M56.0 313.2h1.3M57.1 313.0h1.3M58.1 313.3h1.3M62.1 313.2h1.3M64.3 313.2h1.3M67.1 313.0h1.3M80.2 313.2h1.3M106.2 313.2h1.3M133.0 313.2h1.3M169.2 313.3h1.3M205.1 313.3h1.3M212.2 313.1h1.3M214.2 313.3h1.3M216.1 313.0h1.3M218.1 313.1h1.3M219.2 313.2h1.3M221.2 313.1h1.3M224.2 313.1h1.3M227.2 313.2h1.3M236.2 313.0h1.3M243.3 313.0h1.3M245.2 313.1h1.3M246.0 313.1h1.3M248.3 313.2h1.3M252.3 313.1h1.3M254.2 313.1h1.3M257.3 313.2h1.3M258.2 313.1h1.3M259.2 313.2h1.3M266.2 313.1h1.3M267.3 313.1h1.3M272.0 313.3h1.3M274.2 313.2h1.3M277.3 313.0h1.3M279.1 313.1h1.3M284.1 313.3h1.3M288.1 313.1h1.3M292.2 313.2h1.3M294.0 313.0h1.3M295.0 313.3h1.3M297.0 313.1h1.3M298.3 313.2h1.3M303.3 313.2h1.3M304.3 313.2h1.3M307.3 313.3h1.3M308.1 313.1h1.3M313.1 313.1h1.3M315.2 313.3h1.3M317.1 313.1h1.3M318.3 313.1h1.3M320.1 313.2h1.3M321.2 313.1h1.3M42.1 314.1h1.3M44.1 314.0h1.3M45.1 314.0h1.3M46.3 314.3h1.3M50.1 314.2h1.3M52.0 314.1h1.3M53.0 314.0h1.3M54.2 314.2h1.3M58.1 314.1h1.3M63.3 314.0h1.3M66.1 314.0h1.3M81.0 314.1h1.3M101.2 314.1h1.3M148.0 314.1h1.3M169.1 314.0h1.3M207.1 314.1h1.3M208.0 314.1h1.3M209.3 314.2h1.3M220.0 314.0h1.3M221.0 314.3h1.3M222.0 314.3h1.3M224.0 314.2h1.3M227.1 314.1h1.3M229.1 314.1h1.3M235.1 314.3h1.3M236.2 314.3h1.3M241.1 314.1h1.3M242.2 314.2h1.3M245.1 314.2h1.3M247.1 314.1h1.3M254.1 314.2h1.3M259.1 314.3h1.3M263.1 314.2h1.3M264.1 314.2h1.3M269.1 314.2h1.3M280.0 314.0h1.3M283.2 314.2h1.3M292.2 314.1h1.3M295.2 314.2h1.3M298.2 314.0h1.3M300.2 314.1h1.3M301.2 314.2h1.3M305.3 314.2h1.3M307.0 314.2h1.3M308.2 314.1h1.3M309.3 314.2h1.3M310.0 314.2h1.3M312.3 314.0h1.3M315.1 314.3h1.3M317.1 314.3h1.3M321.2 314.2h1.3M322.1 314.2h1.3M42.1 315.2h1.3M43.2 315.1h1.3M46.2 315.0h1.3M49.0 315.0h1.3M53.2 315.2h1.3M57.1 315.1h1.3M63.1 315.0h1.3M64.0 315.0h1.3M66.1 315.1h1.3M76.3 315.2h1.3M86.3 315.2h1.3M92.3 315.1h1.3M100.3 315.2h1.3M102.0 315.2h1.3M106.0 315.2h1.3M121.2 315.0h1.3M140.1 315.1h1.3M153.1 315.1h1.3M206.3 315.2h1.3M213.2 315.2h1.3M215.2 315.2h1.3M216.1 315.2h1.3M218.0 315.0h1.3M225.1 315.3h1.3M227.3 315.1h1.3M228.2 315.0h1.3M235.0 315.0h1.3M236.0 315.2h1.3M238.1 315.3h1.3M246.1 315.0h1.3M256.2 315.1h1.3M259.1 315.2h1.3M269.2 315.2h1.3M275.2 315.2h1.3M277.3 315.3h1.3M278.0 315.3h1.3M280.3 315.1h1.3M294.1 315.2h1.3M296.1 315.2h1.3M297.1 315.2h1.3M302.0 315.2h1.3M304.3 315.3h1.3M307.3 315.0h1.3M309.1 315.1h1.3M310.1 315.1h1.3M311.2 315.1h1.3M312.1 315.2h1.3M314.3 315.1h1.3M320.1 315.0h1.3M43.2 316.3h1.3M44.2 316.0h1.3M46.0 316.0h1.3M49.2 316.2h1.3M51.1 316.1h1.3M52.2 316.2h1.3M55.1 316.2h1.3M57.2 316.0h1.3M58.1 316.1h1.3M60.3 316.1h1.3M65.2 316.1h1.3M66.3 316.0h1.3M87.2 316.1h1.3M110.1 316.2h1.3M117.2 316.2h1.3M127.2 316.1h1.3M129.1 316.2h1.3M145.2 316.3h1.3M164.1 316.3h1.3M201.2 316.0h1.3M202.0 316.2h1.3M212.0 316.1h1.3M213.2 316.2h1.3M228.2 316.1h1.3M230.1 316.1h1.3M237.2 316.1h1.3M238.0 316.2h1.3M240.2 316.3h1.3M241.3 316.0h1.3M243.0 316.1h1.3M247.2 316.0h1.3M248.0 316.3h1.3M249.0 316.3h1.3M254.3 316.1h1.3M255.2 316.1h1.3M258.1 316.1h1.3M266.3 316.1h1.3M267.1 316.1h1.3M268.2 316.1h1.3M269.0 316.2h1.3M272.2 316.2h1.3M273.2 316.2h1.3M275.3 316.2h1.3M281.2 316.3h1.3M283.2 316.3h1.3M289.2 316.1h1.3M294.2 316.1h1.3M302.1 316.2h1.3M304.2 316.3h1.3M307.0 316.3h1.3M308.1 316.3h1.3M311.2 316.2h1.3M313.2 316.1h1.3M315.1 316.1h1.3M316.2 316.1h1.3M317.2 316.2h1.3M318.0 316.1h1.3M320.2 316.1h1.3M322.0 316.2h1.3M43.1 317.2h1.3M44.1 317.1h1.3M45.2 317.1h1.3M46.1 317.1h1.3M49.2 317.3h1.3M52.0 317.2h1.3M57.2 317.2h1.3M60.2 317.1h1.3M63.1 317.2h1.3M67.0 317.0h1.3M69.1 317.0h1.3M112.3 317.1h1.3M141.1 317.1h1.3M166.2 317.3h1.3M170.3 317.3h1.3M199.3 317.0h1.3M205.0 317.2h1.3M211.3 317.2h1.3M217.3 317.1h1.3M219.2 317.2h1.3M221.0 317.0h1.3M222.2 317.3h1.3M226.1 317.1h1.3M227.2 317.1h1.3M234.2 317.3h1.3M237.2 317.1h1.3M238.1 317.2h1.3M240.2 317.1h1.3M244.1 317.2h1.3M256.2 317.2h1.3M258.2 317.3h1.3M260.1 317.2h1.3M266.1 317.0h1.3M267.1 317.2h1.3M268.1 317.1h1.3M271.1 317.1h1.3M272.3 317.3h1.3M273.2 317.3h1.3M275.2 317.3h1.3M276.2 317.3h1.3M280.2 317.1h1.3M284.2 317.2h1.3M287.2 317.2h1.3M288.3 317.1h1.3M290.2 317.2h1.3M291.2 317.2h1.3M294.1 317.1h1.3M301.2 317.2h1.3M304.2 317.2h1.3M308.1 317.2h1.3M309.3 317.2h1.3M311.2 317.1h1.3M312.2 317.1h1.3M317.0 317.1h1.3M321.1 317.1h1.3M322.1 317.2h1.3M42.1 318.2h1.3M43.2 318.1h1.3M46.3 318.0h1.3M47.2 318.1h1.3M49.2 318.1h1.3M51.1 318.0h1.3M52.3 318.3h1.3M54.1 318.1h1.3M56.3 318.3h1.3M62.1 318.2h1.3M63.1 318.0h1.3M68.1 318.2h1.3M103.1 318.1h1.3M148.3 318.1h1.3M169.2 318.2h1.3M174.1 318.2h1.3M207.1 318.0h1.3M213.1 318.1h1.3M214.0 318.1h1.3M217.2 318.3h1.3M218.3 318.1h1.3M222.0 318.0h1.3M223.1 318.2h1.3M225.1 318.2h1.3M232.3 318.2h1.3M234.2 318.2h1.3M236.2 318.0h1.3M238.0 318.2h1.3M244.2 318.0h1.3M248.2 318.2h1.3M251.2 318.1h1.3M253.0 318.0h1.3M255.2 318.2h1.3M259.2 318.0h1.3M261.3 318.1h1.3M262.0 318.0h1.3M265.1 318.2h1.3M267.2 318.0h1.3M271.1 318.0h1.3M272.2 318.3h1.3M275.1 318.0h1.3M276.2 318.3h1.3M277.1 318.1h1.3M279.1 318.0h1.3M282.0 318.1h1.3M284.2 318.1h1.3M287.1 318.2h1.3M290.1 318.2h1.3M291.3 318.0h1.3M293.2 318.2h1.3M302.2 318.3h1.3M307.1 318.3h1.3M311.1 318.2h1.3M312.2 318.2h1.3M313.1 318.2h1.3M315.1 318.2h1.3M320.2 318.1h1.3M43.2 319.2h1.3M44.1 319.0h1.3M46.2 319.0h1.3M52.2 319.3h1.3M64.2 319.0h1.3M71.0 319.1h1.3M75.3 319.2h1.3M87.1 319.1h1.3M102.0 319.1h1.3M145.3 319.1h1.3M148.1 319.2h1.3M153.1 319.1h1.3M168.0 319.3h1.3M172.3 319.2h1.3M202.2 319.0h1.3M209.3 319.2h1.3M217.0 319.0h1.3M221.2 319.0h1.3M229.2 319.2h1.3M230.2 319.2h1.3M233.2 319.1h1.3M235.3 319.0h1.3M238.1 319.1h1.3M242.2 319.1h1.3M245.1 319.1h1.3M248.0 319.2h1.3M251.0 319.0h1.3M255.1 319.0h1.3M259.1 319.3h1.3M262.0 319.0h1.3M263.1 319.1h1.3M267.3 319.1h1.3M268.1 319.0h1.3M279.1 319.0h1.3M282.2 319.0h1.3M291.0 319.0h1.3M297.1 319.2h1.3M298.1 319.1h1.3M304.1 319.3h1.3M307.1 319.0h1.3M310.3 319.3h1.3M311.0 319.3h1.3M316.2 319.1h1.3M317.1 319.2h1.3M318.3 319.1h1.3M321.3 319.1h1.3M43.3 320.3h1.3M44.1 320.1h1.3M48.1 320.1h1.3M58.0 320.2h1.3M64.1 320.2h1.3M67.2 320.0h1.3M71.0 320.0h1.3M72.2 320.2h1.3M74.2 320.1h1.3M107.1 320.1h1.3M143.1 320.2h1.3M216.2 320.3h1.3M223.3 320.3h1.3M237.0 320.1h1.3M242.2 320.3h1.3M251.3 320.1h1.3M253.1 320.3h1.3M254.1 320.0h1.3M258.2 320.3h1.3M259.2 320.1h1.3M261.3 320.2h1.3M265.3 320.0h1.3M267.3 320.1h1.3M280.0 320.1h1.3M287.0 320.1h1.3M288.2 320.1h1.3M291.2 320.2h1.3M292.2 320.2h1.3M293.0 320.2h1.3M299.3 320.1h1.3M302.1 320.1h1.3M303.0 320.1h1.3M304.1 320.0h1.3M307.0 320.0h1.3M310.3 320.2h1.3M313.0 320.2h1.3M315.2 320.1h1.3M316.1 320.2h1.3M318.2 320.1h1.3M319.0 320.1h1.3M320.1 320.3h1.3M321.3 320.1h1.3M43.3 321.2h1.3M45.0 321.1h1.3M47.3 321.2h1.3M48.0 321.1h1.3M49.3 321.2h1.3M52.1 321.1h1.3M59.0 321.2h1.3M60.1 321.1h1.3M63.1 321.1h1.3M65.3 321.3h1.3M66.0 321.0h1.3M73.1 321.2h1.3M74.0 321.1h1.3M77.3 321.3h1.3M78.1 321.3h1.3M80.2 321.1h1.3M106.1 321.3h1.3M112.0 321.1h1.3M120.1 321.0h1.3M125.2 321.0h1.3M159.0 321.2h1.3M208.2 321.1h1.3M215.0 321.3h1.3M217.1 321.0h1.3M220.3 321.2h1.3M222.2 321.2h1.3M224.0 321.1h1.3M225.1 321.2h1.3M230.1 321.2h1.3M233.2 321.2h1.3M236.2 321.2h1.3M239.2 321.1h1.3M240.0 321.1h1.3M243.2 321.2h1.3M245.2 321.2h1.3M251.1 321.1h1.3M252.0 321.1h1.3M267.0 321.0h1.3M274.3 321.0h1.3M276.0 321.2h1.3M280.0 321.3h1.3M283.1 321.1h1.3M287.2 321.1h1.3M289.1 321.1h1.3M292.1 321.2h1.3M298.2 321.1h1.3M301.2 321.2h1.3M310.1 321.1h1.3M316.1 321.0h1.3M319.3 321.3h1.3M322.2 321.2h1.3M42.1 322.1h1.3M43.1 322.3h1.3M44.3 322.2h1.3M45.1 322.1h1.3M46.0 322.1h1.3M50.3 322.1h1.3M51.0 322.1h1.3M52.1 322.1h1.3M54.2 322.2h1.3M56.2 322.2h1.3M62.1 322.2h1.3M68.1 322.2h1.3M69.3 322.2h1.3M74.0 322.1h1.3M82.0 322.1h1.3M86.2 322.2h1.3M95.3 322.3h1.3M103.2 322.3h1.3M112.1 322.3h1.3M150.2 322.1h1.3M164.2 322.1h1.3M169.1 322.3h1.3M214.3 322.1h1.3M215.0 322.1h1.3M218.3 322.0h1.3M221.2 322.1h1.3M225.2 322.0h1.3M227.0 322.0h1.3M230.0 322.1h1.3M234.2 322.2h1.3M235.3 322.2h1.3M242.2 322.2h1.3M244.2 322.2h1.3M249.2 322.3h1.3M253.0 322.3h1.3M254.2 322.0h1.3M259.2 322.2h1.3M263.0 322.2h1.3M265.0 322.0h1.3M268.1 322.1h1.3M274.1 322.1h1.3M275.1 322.0h1.3M277.1 322.2h1.3M278.1 322.2h1.3M286.2 322.1h1.3M289.2 322.0h1.3M291.2 322.2h1.3M294.1 322.3h1.3M295.1 322.1h1.3M299.3 322.1h1.3M300.1 322.2h1.3M305.0 322.1h1.3M316.2 322.1h1.3M317.0 322.0h1.3M42.2 323.1h1.3M43.2 323.2h1.3M44.1 323.0h1.3M46.2 323.1h1.3M47.1 323.3h1.3M49.2 323.1h1.3M50.1 323.0h1.3M54.2 323.3h1.3M56.2 323.0h1.3M62.3 323.3h1.3M68.2 323.0h1.3M69.1 323.2h1.3M78.2 323.1h1.3M91.0 323.2h1.3M96.1 323.1h1.3M111.0 323.1h1.3M117.2 323.2h1.3M118.1 323.1h1.3M120.3 323.1h1.3M135.3 323.1h1.3M142.3 323.3h1.3M158.1 323.1h1.3M177.1 323.0h1.3M214.0 323.2h1.3M215.0 323.0h1.3M217.3 323.2h1.3M220.3 323.3h1.3M223.2 323.0h1.3M224.1 323.0h1.3M225.0 323.1h1.3M227.0 323.0h1.3M228.2 323.3h1.3M232.2 323.3h1.3M236.2 323.1h1.3M237.2 323.1h1.3M242.2 323.1h1.3M243.2 323.1h1.3M247.1 323.1h1.3M250.1 323.2h1.3M251.1 323.0h1.3M252.1 323.3h1.3M255.2 323.1h1.3M259.1 323.2h1.3M260.2 323.1h1.3M265.0 323.2h1.3M266.1 323.1h1.3M268.1 323.1h1.3M271.0 323.1h1.3M276.2 323.0h1.3M277.3 323.2h1.3M279.1 323.2h1.3M282.0 323.2h1.3M283.1 323.3h1.3M286.2 323.1h1.3M287.2 323.2h1.3M289.2 323.2h1.3M298.0 323.1h1.3M302.2 323.3h1.3M304.1 323.1h1.3M307.1 323.2h1.3M311.1 323.2h1.3M312.2 323.0h1.3M313.2 323.1h1.3M316.3 323.1h1.3M317.0 323.2h1.3M319.1 323.0h1.3M320.3 323.1h1.3M42.2 324.1h1.3M45.1 324.1h1.3M46.0 324.1h1.3M48.0 324.2h1.3M50.0 324.1h1.3M56.0 324.2h1.3M61.3 324.2h1.3M66.1 324.0h1.3M68.1 324.0h1.3M71.3 324.3h1.3M72.2 324.1h1.3M121.2 324.1h1.3M143.3 324.2h1.3M201.2 324.1h1.3M206.1 324.1h1.3M207.0 324.0h1.3M212.2 324.1h1.3M216.1 324.2h1.3M218.3 324.2h1.3M227.2 324.1h1.3M228.2 324.1h1.3M236.0 324.1h1.3M245.3 324.2h1.3M251.1 324.1h1.3M253.2 324.3h1.3M258.2 324.2h1.3M261.1 324.1h1.3M263.3 324.2h1.3M271.3 324.0h1.3M274.1 324.2h1.3M275.3 324.3h1.3M279.1 324.1h1.3M282.2 324.0h1.3M283.2 324.1h1.3M284.0 324.2h1.3M285.0 324.2h1.3M286.2 324.2h1.3M288.3 324.0h1.3M290.1 324.1h1.3M296.1 324.2h1.3M299.1 324.1h1.3M302.2 324.3h1.3M311.0 324.3h1.3M313.2 324.1h1.3M315.1 324.2h1.3M316.1 324.0h1.3M320.0 324.2h1.3M43.2 325.2h1.3M44.1 325.2h1.3M45.1 325.2h1.3M46.1 325.2h1.3M48.1 325.2h1.3M51.3 325.2h1.3M53.2 325.0h1.3M57.1 325.2h1.3M58.1 325.2h1.3M59.2 325.2h1.3M61.1 325.3h1.3M66.1 325.2h1.3M67.1 325.2h1.3M80.1 325.1h1.3M147.2 325.1h1.3M171.2 325.1h1.3M174.2 325.1h1.3M215.0 325.2h1.3M218.1 325.0h1.3M219.1 325.2h1.3M223.2 325.2h1.3M225.3 325.1h1.3M226.2 325.0h1.3M230.1 325.3h1.3M232.1 325.1h1.3M233.1 325.2h1.3M234.1 325.3h1.3M236.3 325.0h1.3M237.1 325.2h1.3M243.1 325.0h1.3M245.2 325.2h1.3M246.0 325.3h1.3M249.2 325.2h1.3M250.0 325.2h1.3M257.2 325.0h1.3M258.2 325.3h1.3M259.1 325.0h1.3M270.2 325.2h1.3M279.1 325.2h1.3M280.0 325.0h1.3M283.2 325.2h1.3M285.1 325.1h1.3M288.0 325.1h1.3M290.2 325.2h1.3M296.3 325.2h1.3M297.1 325.0h1.3M299.1 325.1h1.3M302.1 325.0h1.3M310.2 325.2h1.3M314.0 325.3h1.3M315.1 325.1h1.3M316.1 325.2h1.3M317.1 325.1h1.3M320.2 325.0h1.3M322.1 325.0h1.3M42.1 326.3h1.3M45.2 326.2h1.3M46.0 326.2h1.3M47.0 326.2h1.3M49.0 326.2h1.3M51.2 326.1h1.3M53.1 326.1h1.3M56.2 326.2h1.3M63.3 326.1h1.3M65.1 326.2h1.3M73.1 326.1h1.3M74.3 326.1h1.3M77.2 326.3h1.3M83.1 326.1h1.3M93.3 326.0h1.3M97.3 326.1h1.3M119.2 326.2h1.3M121.0 326.1h1.3M127.2 326.2h1.3M174.0 326.0h1.3M178.2 326.1h1.3M211.3 326.1h1.3M212.2 326.3h1.3M215.2 326.0h1.3M218.1 326.2h1.3M219.3 326.2h1.3M223.1 326.0h1.3M229.2 326.0h1.3M230.3 326.3h1.3M235.2 326.2h1.3M240.2 326.1h1.3M243.3 326.1h1.3M245.1 326.0h1.3M248.1 326.2h1.3M251.2 326.1h1.3M256.0 326.3h1.3M267.0 326.1h1.3M270.1 326.3h1.3M275.2 326.0h1.3M278.1 326.2h1.3M282.0 326.3h1.3M288.3 326.2h1.3M290.1 326.3h1.3M301.1 326.2h1.3M309.1 326.3h1.3M312.1 326.3h1.3M314.1 326.2h1.3M315.2 326.0h1.3M316.0 326.2h1.3M319.1 326.3h1.3M321.1 326.3h1.3M43.1 327.3h1.3M46.3 327.0h1.3M47.1 327.2h1.3M58.1 327.2h1.3M61.2 327.2h1.3M62.3 327.2h1.3M67.1 327.1h1.3M80.2 327.0h1.3M81.2 327.1h1.3M148.1 327.1h1.3M168.2 327.2h1.3M177.2 327.2h1.3M202.2 327.0h1.3M210.3 327.2h1.3M216.2 327.1h1.3M219.2 327.1h1.3M222.1 327.0h1.3M223.1 327.2h1.3M224.2 327.1h1.3M225.3 327.2h1.3M226.1 327.3h1.3M234.2 327.1h1.3M236.2 327.2h1.3M237.2 327.2h1.3M239.1 327.0h1.3M241.2 327.2h1.3M245.2 327.2h1.3M247.1 327.3h1.3M248.3 327.1h1.3M251.1 327.2h1.3M255.0 327.2h1.3M258.2 327.1h1.3M259.3 327.0h1.3M260.2 327.3h1.3M263.2 327.3h1.3M269.2 327.1h1.3M270.3 327.3h1.3M276.2 327.2h1.3M296.0 327.1h1.3M301.2 327.3h1.3M313.1 327.2h1.3M321.2 327.1h1.3M44.3 328.1h1.3M45.1 328.3h1.3M46.0 328.3h1.3M48.1 328.2h1.3M52.0 328.1h1.3M53.3 328.1h1.3M54.2 328.2h1.3M56.2 328.1h1.3M61.2 328.3h1.3M67.0 328.1h1.3M70.2 328.2h1.3M74.2 328.1h1.3M83.0 328.2h1.3M113.2 328.3h1.3M137.1 328.1h1.3M153.2 328.2h1.3M178.1 328.2h1.3M211.2 328.1h1.3M215.0 328.1h1.3M219.1 328.1h1.3M220.1 328.0h1.3M221.1 328.1h1.3M226.2 328.2h1.3M229.3 328.0h1.3M236.1 328.2h1.3M238.1 328.1h1.3M240.0 328.3h1.3M244.0 328.2h1.3M245.1 328.0h1.3M248.2 328.2h1.3M249.1 328.1h1.3M255.2 328.0h1.3M260.2 328.2h1.3M261.2 328.1h1.3M262.2 328.2h1.3M267.2 328.2h1.3M268.2 328.1h1.3M271.1 328.0h1.3M278.1 328.1h1.3M280.1 328.1h1.3M282.1 328.3h1.3M284.1 328.1h1.3M285.1 328.1h1.3M288.1 328.1h1.3M300.1 328.2h1.3M305.2 328.1h1.3M308.3 328.2h1.3M311.1 328.0h1.3M315.3 328.2h1.3M316.0 328.3h1.3M317.1 328.1h1.3M318.2 328.2h1.3M321.1 328.0h1.3M42.1 329.0h1.3M43.2 329.0h1.3M44.3 329.0h1.3M45.2 329.3h1.3M46.3 329.1h1.3M47.3 329.1h1.3M48.1 329.2h1.3M51.2 329.2h1.3M55.3 329.2h1.3M57.1 329.2h1.3M62.2 329.3h1.3M67.0 329.3h1.3M69.3 329.1h1.3M72.0 329.1h1.3M89.3 329.0h1.3M98.3 329.3h1.3M99.2 329.3h1.3M107.1 329.3h1.3M115.2 329.2h1.3M151.3 329.2h1.3M157.0 329.1h1.3M173.1 329.0h1.3M205.1 329.1h1.3M218.1 329.2h1.3M221.3 329.3h1.3M223.3 329.1h1.3M226.1 329.1h1.3M231.1 329.1h1.3M239.2 329.1h1.3M241.0 329.1h1.3M242.1 329.2h1.3M247.3 329.0h1.3M253.2 329.2h1.3M255.2 329.3h1.3M257.0 329.2h1.3M258.0 329.1h1.3M259.1 329.0h1.3M261.1 329.1h1.3M263.1 329.1h1.3M266.1 329.0h1.3M268.2 329.1h1.3M277.0 329.3h1.3M280.1 329.2h1.3M283.0 329.0h1.3M284.2 329.1h1.3M294.1 329.2h1.3M300.1 329.2h1.3M301.2 329.1h1.3M302.2 329.1h1.3M306.1 329.1h1.3M308.1 329.0h1.3M312.3 329.2h1.3M313.2 329.2h1.3M315.1 329.0h1.3M316.2 329.2h1.3M320.2 329.2h1.3M42.2 330.2h1.3M44.1 330.1h1.3M48.1 330.2h1.3M50.0 330.1h1.3M53.3 330.0h1.3M54.1 330.0h1.3M55.3 330.1h1.3M57.2 330.1h1.3M69.2 330.1h1.3M70.2 330.0h1.3M74.1 330.2h1.3M109.1 330.1h1.3M132.1 330.2h1.3M139.3 330.1h1.3M146.1 330.2h1.3M161.0 330.3h1.3M165.0 330.1h1.3M178.3 330.2h1.3M209.2 330.2h1.3M211.2 330.2h1.3M215.1 330.3h1.3M217.1 330.0h1.3M221.1 330.2h1.3M225.3 330.1h1.3M229.3 330.2h1.3M236.0 330.2h1.3M238.3 330.2h1.3M242.2 330.2h1.3M248.1 330.2h1.3M249.1 330.1h1.3M253.2 330.0h1.3M255.2 330.0h1.3M258.0 330.1h1.3M259.2 330.2h1.3M269.3 330.0h1.3M272.1 330.2h1.3M278.1 330.2h1.3M282.2 330.2h1.3M283.1 330.3h1.3M286.1 330.1h1.3M287.1 330.1h1.3M294.1 330.3h1.3M295.2 330.1h1.3M298.3 330.3h1.3M299.1 330.2h1.3M302.0 330.2h1.3M303.2 330.2h1.3M309.2 330.2h1.3M317.1 330.2h1.3M318.2 330.2h1.3M48.0 331.1h1.3M50.1 331.3h1.3M54.1 331.0h1.3M56.1 331.2h1.3M59.2 331.3h1.3M60.2 331.3h1.3M62.0 331.2h1.3M77.1 331.2h1.3M114.2 331.2h1.3M161.2 331.3h1.3M207.1 331.2h1.3M208.3 331.1h1.3M211.1 331.3h1.3M212.2 331.1h1.3M214.1 331.1h1.3M216.3 331.0h1.3M217.1 331.1h1.3M218.3 331.2h1.3M220.3 331.0h1.3M221.3 331.3h1.3M222.1 331.2h1.3M223.3 331.0h1.3M225.3 331.1h1.3M227.1 331.0h1.3M228.0 331.0h1.3M233.2 331.1h1.3M236.2 331.2h1.3M237.0 331.1h1.3M240.2 331.2h1.3M241.2 331.2h1.3M242.1 331.2h1.3M244.2 331.1h1.3M246.1 331.0h1.3M248.2 331.1h1.3M250.1 331.2h1.3M252.2 331.0h1.3M256.1 331.3h1.3M260.2 331.1h1.3M261.0 331.2h1.3M262.2 331.2h1.3M265.1 331.3h1.3M266.3 331.3h1.3M273.1 331.2h1.3M275.0 331.2h1.3M284.3 331.2h1.3M286.3 331.1h1.3M291.1 331.2h1.3M292.2 331.2h1.3M296.2 331.2h1.3M299.2 331.2h1.3M301.2 331.2h1.3M302.1 331.2h1.3M307.2 331.3h1.3M309.1 331.1h1.3M311.3 331.3h1.3M315.2 331.2h1.3M316.3 331.3h1.3M318.1 331.0h1.3M321.2 331.0h1.3M322.2 331.1h1.3M43.0 332.0h1.3M45.3 332.1h1.3M46.0 332.0h1.3M47.3 332.2h1.3M48.2 332.1h1.3M51.2 332.3h1.3M52.1 332.1h1.3M56.3 332.2h1.3M58.2 332.1h1.3M103.2 332.1h1.3M132.1 332.3h1.3M145.2 332.3h1.3M164.2 332.2h1.3M198.3 332.1h1.3M211.2 332.2h1.3M212.1 332.0h1.3M215.0 332.1h1.3M217.2 332.1h1.3M221.2 332.2h1.3M222.1 332.0h1.3M223.2 332.2h1.3M225.2 332.3h1.3M230.0 332.1h1.3M233.3 332.1h1.3M239.1 332.1h1.3M240.3 332.2h1.3M244.1 332.2h1.3M246.2 332.2h1.3M251.1 332.3h1.3M252.3 332.0h1.3M255.2 332.3h1.3M256.2 332.0h1.3M259.0 332.1h1.3M264.1 332.0h1.3M268.1 332.2h1.3M269.2 332.2h1.3M270.0 332.3h1.3M273.1 332.1h1.3M277.2 332.3h1.3M280.0 332.0h1.3M281.0 332.1h1.3M290.2 332.3h1.3M291.0 332.2h1.3M292.1 332.0h1.3M300.3 332.0h1.3M305.1 332.0h1.3M306.1 332.2h1.3M312.3 332.1h1.3M313.2 332.3h1.3M314.3 332.1h1.3M317.1 332.1h1.3M318.2 332.1h1.3M321.3 332.1h1.3M322.1 332.0h1.3M42.3 333.2h1.3M43.2 333.2h1.3M44.2 333.0h1.3M49.0 333.2h1.3M52.2 333.1h1.3M55.1 333.2h1.3M60.3 333.1h1.3M61.3 333.3h1.3M63.1 333.0h1.3M67.1 333.1h1.3M68.2 333.1h1.3M74.2 333.0h1.3M77.0 333.1h1.3M78.1 333.3h1.3M80.3 333.3h1.3M87.1 333.1h1.3M105.0 333.3h1.3M148.2 333.3h1.3M170.2 333.0h1.3M198.2 333.0h1.3M203.3 333.3h1.3M209.1 333.1h1.3M210.2 333.2h1.3M216.1 333.1h1.3M219.3 333.0h1.3M240.3 333.1h1.3M242.1 333.1h1.3M246.2 333.1h1.3M247.2 333.2h1.3M251.3 333.2h1.3M262.1 333.1h1.3M265.2 333.3h1.3M268.2 333.2h1.3M271.0 333.2h1.3M274.1 333.1h1.3M275.1 333.3h1.3M281.1 333.2h1.3M290.0 333.1h1.3M293.0 333.2h1.3M305.3 333.1h1.3M309.2 333.2h1.3M311.1 333.2h1.3M312.1 333.2h1.3M314.2 333.0h1.3M315.0 333.2h1.3M319.0 333.3h1.3M322.2 333.2h1.3M42.2 334.3h1.3M44.2 334.1h1.3M45.2 334.1h1.3M49.2 334.3h1.3M52.1 334.2h1.3M54.1 334.2h1.3M55.1 334.0h1.3M57.1 334.3h1.3M59.2 334.1h1.3M61.1 334.1h1.3M62.1 334.1h1.3M76.1 334.1h1.3M79.0 334.0h1.3M80.1 334.1h1.3M102.1 334.2h1.3M133.2 334.0h1.3M146.2 334.1h1.3M159.0 334.1h1.3M166.1 334.1h1.3M198.2 334.3h1.3M200.3 334.1h1.3M208.2 334.2h1.3M213.2 334.1h1.3M215.3 334.3h1.3M218.0 334.2h1.3M220.2 334.2h1.3M227.0 334.2h1.3M238.2 334.1h1.3M240.0 334.0h1.3M245.0 334.2h1.3M256.3 334.3h1.3M260.1 334.1h1.3M263.1 334.3h1.3M264.3 334.1h1.3M271.2 334.1h1.3M272.0 334.1h1.3M275.1 334.1h1.3M283.3 334.3h1.3M287.2 334.1h1.3M291.2 334.2h1.3M295.1 334.3h1.3M297.0 334.0h1.3M303.0 334.1h1.3M309.2 334.1h1.3M311.0 334.0h1.3M315.2 334.1h1.3M318.3 334.2h1.3M319.3 334.2h1.3M320.1 334.3h1.3M42.0 335.3h1.3M43.2 335.2h1.3M45.1 335.2h1.3M47.1 335.1h1.3M48.3 335.3h1.3M51.2 335.3h1.3M52.1 335.3h1.3M56.1 335.2h1.3M59.2 335.0h1.3M60.3 335.2h1.3M62.2 335.2h1.3M63.3 335.0h1.3M64.3 335.2h1.3M66.2 335.1h1.3M73.3 335.1h1.3M75.1 335.2h1.3M80.0 335.2h1.3M89.1 335.0h1.3M155.1 335.1h1.3M167.0 335.1h1.3M168.1 335.3h1.3M171.2 335.2h1.3M176.2 335.1h1.3M204.1 335.3h1.3M205.2 335.1h1.3M206.3 335.3h1.3M207.1 335.3h1.3M218.3 335.3h1.3M221.0 335.3h1.3M222.2 335.1h1.3M224.2 335.2h1.3M228.2 335.2h1.3M229.1 335.1h1.3M231.0 335.2h1.3M233.0 335.3h1.3M235.3 335.2h1.3M236.1 335.2h1.3M241.2 335.1h1.3M249.2 335.2h1.3M251.2 335.2h1.3M253.3 335.1h1.3M256.1 335.3h1.3M262.2 335.3h1.3M264.2 335.2h1.3M265.1 335.1h1.3M271.1 335.0h1.3M274.2 335.1h1.3M275.3 335.2h1.3M276.2 335.1h1.3M277.0 335.1h1.3M283.2 335.1h1.3M284.2 335.0h1.3M288.3 335.3h1.3M292.2 335.3h1.3M295.1 335.2h1.3M297.2 335.0h1.3M298.0 335.2h1.3M306.1 335.0h1.3M307.1 335.1h1.3M313.3 335.3h1.3M316.3 335.2h1.3M320.1 335.3h1.3M42.3 336.1h1.3M43.3 336.2h1.3M44.1 336.1h1.3M48.3 336.2h1.3M52.3 336.1h1.3M54.3 336.1h1.3M56.1 336.1h1.3M70.3 336.1h1.3M96.1 336.1h1.3M99.1 336.1h1.3M100.1 336.1h1.3M102.1 336.1h1.3M109.0 336.1h1.3M128.3 336.2h1.3M133.2 336.1h1.3M203.0 336.2h1.3M210.2 336.0h1.3M214.3 336.2h1.3M215.0 336.2h1.3M219.0 336.3h1.3M223.1 336.2h1.3M224.2 336.1h1.3M233.2 336.1h1.3M234.2 336.2h1.3M239.2 336.1h1.3M240.1 336.2h1.3M241.0 336.1h1.3M242.2 336.1h1.3M243.3 336.0h1.3M245.1 336.3h1.3M248.1 336.0h1.3M251.2 336.2h1.3M257.0 336.3h1.3M259.1 336.1h1.3M261.0 336.2h1.3M266.3 336.1h1.3M272.3 336.3h1.3M275.2 336.2h1.3M276.2 336.0h1.3M277.2 336.0h1.3M283.1 336.3h1.3M293.3 336.1h1.3M300.0 336.2h1.3M303.3 336.0h1.3M304.1 336.1h1.3M305.3 336.2h1.3M308.2 336.1h1.3M310.2 336.3h1.3M312.2 336.2h1.3M318.1 336.2h1.3M319.3 336.1h1.3M320.2 336.2h1.3M322.1 336.0h1.3M44.2 337.0h1.3M45.0 337.2h1.3M46.0 337.1h1.3M48.0 337.2h1.3M50.3 337.1h1.3M51.0 337.0h1.3M53.1 337.2h1.3M54.1 337.2h1.3M56.0 337.1h1.3M58.2 337.3h1.3M61.3 337.1h1.3M62.2 337.2h1.3M66.1 337.1h1.3M77.3 337.3h1.3M80.3 337.2h1.3M123.1 337.2h1.3M146.1 337.3h1.3M201.1 337.0h1.3M218.1 337.1h1.3M225.1 337.1h1.3M226.0 337.3h1.3M230.0 337.0h1.3M232.0 337.1h1.3M237.2 337.2h1.3M239.2 337.2h1.3M240.2 337.1h1.3M247.3 337.1h1.3M248.3 337.3h1.3M249.3 337.1h1.3M256.2 337.1h1.3M266.2 337.1h1.3M267.2 337.2h1.3M277.1 337.2h1.3M278.1 337.2h1.3M280.2 337.2h1.3M281.1 337.2h1.3M283.2 337.2h1.3M284.0 337.1h1.3M290.1 337.0h1.3M292.1 337.2h1.3M293.1 337.1h1.3M294.1 337.2h1.3M296.3 337.0h1.3M299.2 337.0h1.3M309.3 337.0h1.3M310.0 337.3h1.3M313.3 337.3h1.3M314.3 337.0h1.3M319.1 337.2h1.3M321.3 337.2h1.3M322.2 337.1h1.3M42.0 338.2h1.3M47.2 338.2h1.3M49.1 338.1h1.3M51.2 338.1h1.3M52.0 338.1h1.3M53.1 338.1h1.3M57.0 338.3h1.3M60.1 338.1h1.3M61.1 338.0h1.3M64.2 338.2h1.3M72.2 338.3h1.3M73.0 338.2h1.3M82.2 338.2h1.3M106.0 338.0h1.3M114.0 338.1h1.3M115.2 338.0h1.3M200.2 338.1h1.3M210.1 338.2h1.3M212.1 338.1h1.3M216.1 338.1h1.3M217.2 338.1h1.3M220.1 338.0h1.3M225.2 338.2h1.3M232.2 338.1h1.3M233.1 338.2h1.3M234.1 338.0h1.3M239.1 338.2h1.3M240.1 338.1h1.3M244.3 338.2h1.3M245.1 338.3h1.3M246.1 338.2h1.3M249.1 338.2h1.3M250.0 338.2h1.3M251.3 338.1h1.3M253.1 338.3h1.3M254.1 338.1h1.3M255.1 338.1h1.3M257.3 338.3h1.3M259.2 338.2h1.3M262.0 338.2h1.3M265.2 338.1h1.3M268.2 338.0h1.3M272.2 338.3h1.3M275.3 338.2h1.3M276.1 338.1h1.3M279.0 338.1h1.3M282.1 338.2h1.3M286.3 338.2h1.3M290.1 338.1h1.3M296.0 338.2h1.3M299.2 338.1h1.3M300.2 338.2h1.3M301.1 338.2h1.3M302.2 338.2h1.3M303.3 338.1h1.3M304.1 338.0h1.3M305.1 338.1h1.3M308.3 338.0h1.3M313.1 338.1h1.3M314.0 338.2h1.3M315.1 338.3h1.3M316.3 338.2h1.3M322.3 338.1h1.3M45.0 339.0h1.3M46.1 339.1h1.3M47.2 339.3h1.3M48.1 339.3h1.3M50.1 339.1h1.3M52.0 339.1h1.3M56.2 339.0h1.3M63.0 339.1h1.3M68.2 339.2h1.3M71.1 339.0h1.3M74.3 339.2h1.3M83.2 339.2h1.3M98.0 339.1h1.3M112.1 339.1h1.3M129.1 339.3h1.3M135.2 339.2h1.3M148.0 339.2h1.3M205.3 339.1h1.3M210.1 339.2h1.3M214.2 339.3h1.3M219.0 339.2h1.3M223.1 339.1h1.3M224.1 339.1h1.3M229.0 339.3h1.3M231.3 339.2h1.3M232.2 339.0h1.3M233.2 339.1h1.3M237.1 339.2h1.3M241.2 339.3h1.3M246.1 339.0h1.3M248.0 339.2h1.3M250.1 339.1h1.3M251.3 339.0h1.3M252.3 339.3h1.3M255.1 339.2h1.3M257.0 339.2h1.3M258.1 339.1h1.3M262.1 339.0h1.3M269.1 339.2h1.3M274.0 339.1h1.3M277.0 339.0h1.3M281.2 339.2h1.3M282.2 339.1h1.3M285.3 339.0h1.3M289.0 339.2h1.3M290.2 339.2h1.3M292.3 339.1h1.3M294.0 339.2h1.3M299.1 339.1h1.3M304.0 339.3h1.3M305.1 339.1h1.3M307.0 339.2h1.3M309.0 339.2h1.3M315.0 339.2h1.3M316.2 339.0h1.3M318.3 339.1h1.3M42.1 340.2h1.3M43.1 340.1h1.3M48.2 340.1h1.3M50.2 340.2h1.3M55.1 340.2h1.3M56.3 340.2h1.3M59.1 340.1h1.3M64.1 340.1h1.3M65.2 340.2h1.3M66.0 340.2h1.3M71.2 340.1h1.3M85.1 340.2h1.3M88.2 340.1h1.3M95.3 340.1h1.3M108.0 340.2h1.3M128.3 340.1h1.3M135.2 340.3h1.3M144.3 340.2h1.3M150.0 340.1h1.3M160.1 340.1h1.3M161.2 340.2h1.3M179.3 340.2h1.3M208.1 340.3h1.3M215.2 340.2h1.3M216.0 340.2h1.3M220.0 340.2h1.3M223.2 340.3h1.3M229.2 340.0h1.3M231.2 340.3h1.3M239.2 340.2h1.3M243.1 340.1h1.3M245.1 340.2h1.3M246.3 340.2h1.3M247.3 340.0h1.3M249.1 340.3h1.3M251.2 340.3h1.3M253.1 340.1h1.3M254.0 340.1h1.3M255.0 340.2h1.3M257.2 340.1h1.3M263.1 340.1h1.3M264.2 340.3h1.3M267.1 340.1h1.3M270.1 340.2h1.3M271.1 340.2h1.3M272.1 340.1h1.3M279.0 340.2h1.3M286.2 340.1h1.3M287.2 340.3h1.3M288.0 340.3h1.3M294.1 340.0h1.3M299.0 340.2h1.3M300.1 340.1h1.3M312.1 340.1h1.3M313.2 340.2h1.3M318.2 340.0h1.3M319.3 340.2h1.3M320.2 340.1h1.3M322.2 340.2h1.3M43.1 341.2h1.3M44.3 341.2h1.3M45.1 341.0h1.3M46.0 341.3h1.3M47.1 341.0h1.3M52.1 341.3h1.3M53.1 341.1h1.3M54.2 341.2h1.3M56.3 341.3h1.3M58.1 341.1h1.3M61.3 341.0h1.3M63.2 341.2h1.3M69.3 341.3h1.3M84.2 341.1h1.3M95.0 341.0h1.3M97.2 341.3h1.3M126.1 341.0h1.3M131.0 341.2h1.3M143.2 341.1h1.3M146.2 341.1h1.3M198.1 341.0h1.3M208.1 341.1h1.3M213.1 341.1h1.3M216.2 341.2h1.3M217.1 341.2h1.3M221.1 341.1h1.3M229.1 341.2h1.3M239.1 341.0h1.3M240.1 341.3h1.3M242.3 341.3h1.3M243.1 341.2h1.3M251.2 341.1h1.3M252.0 341.2h1.3M255.0 341.2h1.3M259.0 341.2h1.3M267.1 341.3h1.3M276.2 341.2h1.3M277.3 341.1h1.3M279.1 341.0h1.3M280.0 341.1h1.3M289.2 341.3h1.3M293.1 341.1h1.3M296.3 341.0h1.3M297.0 341.1h1.3M299.1 341.2h1.3M303.2 341.1h1.3M305.1 341.1h1.3M307.3 341.0h1.3M310.2 341.1h1.3M315.0 341.2h1.3M316.0 341.3h1.3M317.1 341.2h1.3M322.0 341.2h1.3M42.1 342.0h1.3M47.2 342.3h1.3M48.3 342.1h1.3M62.1 342.3h1.3M63.2 342.1h1.3M65.0 342.3h1.3M83.3 342.3h1.3M85.2 342.0h1.3M106.0 342.1h1.3M116.3 342.3h1.3M140.2 342.2h1.3M198.1 342.2h1.3M205.1 342.0h1.3M212.2 342.0h1.3M219.1 342.1h1.3M222.0 342.2h1.3M223.1 342.1h1.3M227.1 342.2h1.3M228.3 342.1h1.3M229.1 342.1h1.3M232.2 342.2h1.3M234.1 342.2h1.3M235.2 342.3h1.3M241.3 342.1h1.3M242.0 342.3h1.3M244.1 342.2h1.3M248.1 342.2h1.3M249.0 342.3h1.3M254.1 342.3h1.3M256.1 342.0h1.3M262.2 342.3h1.3M274.1 342.2h1.3M277.3 342.3h1.3M279.3 342.3h1.3M280.1 342.1h1.3M283.2 342.1h1.3M293.2 342.0h1.3M296.3 342.1h1.3M298.3 342.3h1.3M299.2 342.0h1.3M302.3 342.1h1.3M312.2 342.2h1.3M314.1 342.3h1.3M315.2 342.1h1.3M316.1 342.2h1.3M317.0 342.1h1.3M319.2 342.2h1.3M320.3 342.1h1.3M321.1 342.2h1.3M322.2 342.2h1.3M43.2 343.2h1.3M46.1 343.2h1.3M47.2 343.1h1.3M48.1 343.0h1.3M52.0 343.2h1.3M56.2 343.2h1.3M57.0 343.2h1.3M59.3 343.2h1.3M63.3 343.3h1.3M72.2 343.2h1.3M89.1 343.1h1.3M96.1 343.1h1.3M125.3 343.0h1.3M143.3 343.3h1.3M150.3 343.1h1.3M198.2 343.1h1.3M199.2 343.0h1.3M208.1 343.2h1.3M209.1 343.0h1.3M221.0 343.0h1.3M223.1 343.1h1.3M229.0 343.0h1.3M231.1 343.3h1.3M233.2 343.2h1.3M237.2 343.1h1.3M242.2 343.3h1.3M245.2 343.2h1.3M248.2 343.1h1.3M257.2 343.2h1.3M258.1 343.0h1.3M264.1 343.1h1.3M268.1 343.2h1.3M269.1 343.2h1.3M276.2 343.1h1.3M277.2 343.3h1.3M285.1 343.2h1.3M287.2 343.1h1.3M288.1 343.3h1.3M291.0 343.1h1.3M292.2 343.0h1.3M296.3 343.3h1.3M297.1 343.1h1.3M298.1 343.3h1.3M299.1 343.1h1.3M304.1 343.0h1.3M306.3 343.1h1.3M309.1 343.1h1.3M311.2 343.0h1.3M314.2 343.2h1.3M318.2 343.1h1.3M319.0 343.1h1.3M42.2 344.2h1.3M46.3 344.2h1.3M48.1 344.1h1.3M49.1 344.0h1.3M51.2 344.1h1.3M53.2 344.2h1.3M54.1 344.1h1.3M61.2 344.3h1.3M63.1 344.1h1.3M67.2 344.2h1.3M70.2 344.0h1.3M72.0 344.2h1.3M74.2 344.1h1.3M87.0 344.2h1.3M103.1 344.0h1.3M113.2 344.1h1.3M179.1 344.2h1.3M200.1 344.3h1.3M204.1 344.1h1.3M206.2 344.2h1.3M214.3 344.1h1.3M215.1 344.1h1.3M216.1 344.0h1.3M226.0 344.1h1.3M229.2 344.0h1.3M230.1 344.2h1.3M236.1 344.1h1.3M237.0 344.3h1.3M239.2 344.0h1.3M244.2 344.2h1.3M250.2 344.1h1.3M258.0 344.3h1.3M265.2 344.0h1.3M268.2 344.1h1.3M277.2 344.2h1.3M279.2 344.0h1.3M280.1 344.1h1.3M289.2 344.2h1.3M292.2 344.0h1.3M293.3 344.1h1.3M296.1 344.2h1.3M302.2 344.3h1.3M305.3 344.1h1.3M307.0 344.1h1.3M308.3 344.2h1.3M310.2 344.3h1.3M315.0 344.0h1.3M316.0 344.1h1.3M317.1 344.3h1.3M318.1 344.2h1.3M320.1 344.3h1.3M321.1 344.0h1.3M43.0 345.1h1.3M44.1 345.1h1.3M55.1 345.2h1.3M56.2 345.3h1.3M57.0 345.2h1.3M59.0 345.1h1.3M66.2 345.3h1.3M67.1 345.1h1.3M122.2 345.2h1.3M132.2 345.2h1.3M152.3 345.1h1.3M160.1 345.0h1.3M163.2 345.2h1.3M169.2 345.1h1.3M205.2 345.1h1.3M212.2 345.2h1.3M214.2 345.0h1.3M219.0 345.2h1.3M222.1 345.0h1.3M224.0 345.2h1.3M226.2 345.2h1.3M229.2 345.1h1.3M230.3 345.0h1.3M231.2 345.2h1.3M232.3 345.1h1.3M233.1 345.2h1.3M234.1 345.2h1.3M238.1 345.2h1.3M240.0 345.0h1.3M241.1 345.2h1.3M243.0 345.3h1.3M246.2 345.2h1.3M247.0 345.1h1.3M253.1 345.3h1.3M258.1 345.3h1.3M260.1 345.2h1.3M265.1 345.1h1.3M269.1 345.3h1.3M270.3 345.2h1.3M272.2 345.0h1.3M276.0 345.2h1.3M280.1 345.3h1.3M281.0 345.2h1.3M287.3 345.1h1.3M288.2 345.1h1.3M289.1 345.2h1.3M292.3 345.0h1.3M294.1 345.2h1.3M297.1 345.0h1.3M298.2 345.2h1.3M299.3 345.1h1.3M300.3 345.2h1.3M306.3 345.1h1.3M309.2 345.2h1.3M314.1 345.1h1.3M315.1 345.1h1.3M318.2 345.2h1.3M322.1 345.3h1.3M43.2 346.3h1.3M45.0 346.3h1.3M47.3 346.0h1.3M48.2 346.1h1.3M51.2 346.3h1.3M52.1 346.0h1.3M55.1 346.1h1.3M59.0 346.3h1.3M74.2 346.1h1.3M79.2 346.0h1.3M89.2 346.3h1.3M103.3 346.3h1.3M113.1 346.2h1.3M118.0 346.0h1.3M153.1 346.0h1.3M167.0 346.0h1.3M206.2 346.3h1.3M230.1 346.2h1.3M232.1 346.3h1.3M233.1 346.2h1.3M237.2 346.1h1.3M241.3 346.0h1.3M245.0 346.1h1.3M247.3 346.2h1.3M250.3 346.1h1.3M252.2 346.2h1.3M253.3 346.0h1.3M254.1 346.0h1.3M258.2 346.2h1.3M263.2 346.1h1.3M264.0 346.1h1.3M266.3 346.0h1.3M270.2 346.0h1.3M271.1 346.2h1.3M272.0 346.1h1.3M287.2 346.1h1.3M292.1 346.2h1.3M298.1 346.1h1.3M301.2 346.1h1.3M305.0 346.1h1.3M307.0 346.2h1.3M310.0 346.0h1.3M311.1 346.3h1.3M313.1 346.3h1.3M314.1 346.1h1.3M316.0 346.1h1.3M319.0 346.1h1.3M45.0 347.1h1.3M48.3 347.1h1.3M55.1 347.1h1.3M58.1 347.3h1.3M60.1 347.2h1.3M64.2 347.1h1.3M66.1 347.2h1.3M82.3 347.1h1.3M84.1 347.1h1.3M117.2 347.1h1.3M124.2 347.1h1.3M175.0 347.2h1.3M192.2 347.3h1.3M218.2 347.1h1.3M226.3 347.3h1.3M237.1 347.3h1.3M244.1 347.2h1.3M245.1 347.2h1.3M248.2 347.2h1.3M251.1 347.1h1.3M252.1 347.0h1.3M253.2 347.1h1.3M255.2 347.2h1.3M259.3 347.1h1.3M260.0 347.3h1.3M263.1 347.1h1.3M267.2 347.1h1.3M268.0 347.0h1.3M273.3 347.2h1.3M279.0 347.0h1.3M283.1 347.1h1.3M284.2 347.2h1.3M291.2 347.2h1.3M292.1 347.2h1.3M294.0 347.2h1.3M295.2 347.1h1.3M302.0 347.0h1.3M310.1 347.1h1.3M313.1 347.0h1.3M315.3 347.1h1.3M317.3 347.0h1.3M319.0 347.0h1.3M322.3 347.1h1.3M42.2 348.1h1.3M50.1 348.1h1.3M63.1 348.0h1.3M86.2 348.0h1.3M160.1 348.2h1.3M203.1 348.0h1.3M207.2 348.2h1.3M210.2 348.2h1.3M219.2 348.3h1.3M220.1 348.1h1.3M223.3 348.2h1.3M225.1 348.2h1.3M226.1 348.1h1.3M228.1 348.0h1.3M234.3 348.1h1.3M238.2 348.1h1.3M239.0 348.1h1.3M241.3 348.2h1.3M256.0 348.3h1.3M257.2 348.1h1.3M261.1 348.3h1.3M262.1 348.2h1.3M263.2 348.2h1.3M269.2 348.1h1.3M276.0 348.1h1.3M281.0 348.0h1.3M283.0 348.2h1.3M289.2 348.1h1.3M293.1 348.1h1.3M294.1 348.1h1.3M296.1 348.1h1.3M307.2 348.2h1.3M311.1 348.2h1.3M314.1 348.2h1.3M317.2 348.2h1.3M321.1 348.3h1.3M322.2 348.1h1.3M46.2 349.1h1.3M47.1 349.1h1.3M48.2 349.1h1.3M49.3 349.0h1.3M51.1 349.1h1.3M56.0 349.2h1.3M61.1 349.1h1.3M74.2 349.1h1.3M79.3 349.1h1.3M117.3 349.3h1.3M156.2 349.2h1.3M176.1 349.3h1.3M200.0 349.2h1.3M218.0 349.3h1.3M219.0 349.3h1.3M225.1 349.2h1.3M231.1 349.2h1.3M234.1 349.2h1.3M236.3 349.1h1.3M237.1 349.1h1.3M246.3 349.3h1.3M252.3 349.1h1.3M259.0 349.0h1.3M263.1 349.0h1.3M265.2 349.1h1.3M267.1 349.1h1.3M272.1 349.2h1.3M273.1 349.0h1.3M274.3 349.1h1.3M279.1 349.2h1.3M281.2 349.3h1.3M285.2 349.1h1.3M295.1 349.2h1.3M296.1 349.2h1.3M298.3 349.2h1.3M300.0 349.2h1.3M302.0 349.2h1.3M303.3 349.2h1.3M313.1 349.0h1.3M320.2 349.0h1.3M321.3 349.3h1.3M43.1 350.1h1.3M44.1 350.2h1.3M45.1 350.2h1.3M48.2 350.2h1.3M49.1 350.1h1.3M54.2 350.2h1.3M56.1 350.2h1.3M58.3 350.0h1.3M62.1 350.2h1.3M69.2 350.0h1.3M70.2 350.1h1.3M73.0 350.2h1.3M75.2 350.1h1.3M102.2 350.1h1.3M113.1 350.1h1.3M155.1 350.1h1.3M193.1 350.3h1.3M213.3 350.2h1.3M215.2 350.3h1.3M221.2 350.2h1.3M226.1 350.2h1.3M242.0 350.1h1.3M252.1 350.2h1.3M253.2 350.1h1.3M255.2 350.0h1.3M262.1 350.1h1.3M265.3 350.1h1.3M270.1 350.1h1.3M272.2 350.1h1.3M278.2 350.1h1.3M280.2 350.0h1.3M281.3 350.2h1.3M282.1 350.2h1.3M285.3 350.2h1.3M287.3 350.1h1.3M293.2 350.0h1.3M299.1 350.1h1.3M304.2 350.1h1.3M305.1 350.1h1.3M306.0 350.2h1.3M309.1 350.2h1.3M311.2 350.1h1.3M312.3 350.3h1.3M315.2 350.0h1.3M320.3 350.2h1.3M322.2 350.1h1.3M43.3 351.2h1.3M48.2 351.0h1.3M50.1 351.1h1.3M52.2 351.0h1.3M58.1 351.3h1.3M62.2 351.1h1.3M64.3 351.2h1.3M66.1 351.2h1.3M73.0 351.2h1.3M75.2 351.1h1.3M88.1 351.1h1.3M121.2 351.2h1.3M135.1 351.2h1.3M203.0 351.2h1.3M211.1 351.0h1.3M213.1 351.1h1.3M220.2 351.0h1.3M224.0 351.1h1.3M230.0 351.2h1.3M237.1 351.1h1.3M241.2 351.0h1.3M246.2 351.3h1.3M253.3 351.2h1.3M256.3 351.2h1.3M257.1 351.0h1.3M259.1 351.0h1.3M261.2 351.1h1.3M262.3 351.2h1.3M264.1 351.2h1.3M272.2 351.3h1.3M274.1 351.3h1.3M278.1 351.0h1.3M284.0 351.2h1.3M293.1 351.0h1.3M294.2 351.2h1.3M295.2 351.0h1.3M297.3 351.1h1.3M299.3 351.2h1.3M300.1 351.1h1.3M305.0 351.0h1.3M306.2 351.0h1.3M307.3 351.1h1.3M309.0 351.1h1.3M310.0 351.1h1.3M315.1 351.2h1.3M316.2 351.2h1.3M317.1 351.1h1.3M320.2 351.0h1.3M321.2 351.0h1.3M42.3 352.0h1.3M47.1 352.2h1.3M56.2 352.0h1.3M59.1 352.0h1.3M65.3 352.1h1.3M67.2 352.2h1.3M68.2 352.3h1.3M69.0 352.3h1.3M71.3 352.2h1.3M77.1 352.1h1.3M79.1 352.1h1.3M88.2 352.0h1.3M115.1 352.3h1.3M134.1 352.0h1.3M158.3 352.0h1.3M207.0 352.2h1.3M208.3 352.1h1.3M210.2 352.2h1.3M221.1 352.2h1.3M225.1 352.2h1.3M228.0 352.1h1.3M229.1 352.2h1.3M230.3 352.1h1.3M233.2 352.1h1.3M237.2 352.1h1.3M238.2 352.0h1.3M242.3 352.1h1.3M252.2 352.3h1.3M259.0 352.3h1.3M263.2 352.2h1.3M266.2 352.3h1.3M268.1 352.3h1.3M273.0 352.2h1.3M276.3 352.0h1.3M279.1 352.0h1.3M280.2 352.2h1.3M284.2 352.3h1.3M285.0 352.2h1.3M291.2 352.1h1.3M292.2 352.2h1.3M293.3 352.1h1.3M294.1 352.0h1.3M295.3 352.1h1.3M305.3 352.0h1.3M316.2 352.2h1.3M317.1 352.3h1.3M321.0 352.0h1.3M43.1 353.2h1.3M49.1 353.2h1.3M54.1 353.2h1.3M56.2 353.2h1.3M58.0 353.2h1.3M59.0 353.1h1.3M60.0 353.0h1.3M61.1 353.2h1.3M63.0 353.3h1.3M83.2 353.0h1.3M96.2 353.0h1.3M102.1 353.0h1.3M109.2 353.0h1.3M115.2 353.3h1.3M120.2 353.2h1.3M124.2 353.0h1.3M125.3 353.2h1.3M127.1 353.1h1.3M145.3 353.1h1.3M156.2 353.0h1.3M214.1 353.1h1.3M215.1 353.1h1.3M219.1 353.2h1.3M220.2 353.1h1.3M221.2 353.1h1.3M222.0 353.3h1.3M224.1 353.2h1.3M228.2 353.3h1.3M229.2 353.1h1.3M230.0 353.2h1.3M233.2 353.2h1.3M234.0 353.0h1.3M237.2 353.1h1.3M239.2 353.0h1.3M240.1 353.0h1.3M242.0 353.0h1.3M244.2 353.2h1.3M246.2 353.1h1.3M255.0 353.3h1.3M257.0 353.0h1.3M260.3 353.2h1.3M266.2 353.0h1.3M271.3 353.2h1.3M276.3 353.0h1.3M281.2 353.1h1.3M282.2 353.1h1.3M284.2 353.3h1.3M303.3 353.1h1.3M306.0 353.3h1.3M308.1 353.0h1.3M315.3 353.2h1.3M317.2 353.3h1.3M318.2 353.3h1.3M319.1 353.2h1.3M320.3 353.2h1.3M322.1 353.0h1.3M46.2 354.2h1.3M49.2 354.1h1.3M50.2 354.3h1.3M51.2 354.3h1.3M53.2 354.3h1.3M68.1 354.1h1.3M69.1 354.0h1.3M72.3 354.1h1.3M129.2 354.3h1.3M154.1 354.2h1.3M194.2 354.3h1.3M214.1 354.2h1.3M216.0 354.3h1.3M218.2 354.1h1.3M222.3 354.2h1.3M225.2 354.2h1.3M233.1 354.3h1.3M236.3 354.1h1.3M238.1 354.0h1.3M239.3 354.1h1.3M240.1 354.3h1.3M244.2 354.1h1.3M246.0 354.2h1.3M247.2 354.0h1.3M256.2 354.0h1.3M260.1 354.1h1.3M262.3 354.1h1.3M263.1 354.2h1.3M267.3 354.1h1.3M268.1 354.3h1.3M269.3 354.2h1.3M270.2 354.0h1.3M271.0 354.3h1.3M274.0 354.2h1.3M281.2 354.2h1.3M282.2 354.3h1.3M284.1 354.2h1.3M286.0 354.2h1.3M287.3 354.2h1.3M299.0 354.2h1.3M300.1 354.2h1.3M302.2 354.3h1.3M304.1 354.0h1.3M305.2 354.1h1.3M310.1 354.2h1.3M313.2 354.2h1.3M315.2 354.2h1.3M316.1 354.1h1.3M43.2 355.3h1.3M45.1 355.1h1.3M47.1 355.2h1.3M49.0 355.1h1.3M50.3 355.2h1.3M52.3 355.2h1.3M58.2 355.0h1.3M59.2 355.2h1.3M60.2 355.2h1.3M61.2 355.1h1.3M62.2 355.2h1.3M66.1 355.3h1.3M71.1 355.1h1.3M79.1 355.1h1.3M100.1 355.1h1.3M118.2 355.1h1.3M123.2 355.3h1.3M139.2 355.2h1.3M174.3 355.1h1.3M208.2 355.1h1.3M213.3 355.1h1.3M216.2 355.2h1.3M217.3 355.3h1.3M220.1 355.3h1.3M232.3 355.2h1.3M239.3 355.1h1.3M240.2 355.3h1.3M241.3 355.2h1.3M243.2 355.0h1.3M251.3 355.1h1.3M253.1 355.1h1.3M257.0 355.0h1.3M261.0 355.0h1.3M263.2 355.1h1.3M264.1 355.2h1.3M269.2 355.1h1.3M275.0 355.1h1.3M284.3 355.1h1.3M286.1 355.1h1.3M287.0 355.2h1.3M291.0 355.2h1.3M294.1 355.1h1.3M298.3 355.2h1.3M300.2 355.3h1.3M303.1 355.2h1.3M308.2 355.0h1.3M315.2 355.2h1.3M319.1 355.2h1.3M320.3 355.3h1.3M43.2 356.1h1.3M44.1 356.1h1.3M45.2 356.2h1.3M46.1 356.2h1.3M48.2 356.0h1.3M51.2 356.0h1.3M52.3 356.2h1.3M55.2 356.1h1.3M60.1 356.2h1.3M66.2 356.2h1.3M69.1 356.0h1.3M77.2 356.2h1.3M82.2 356.1h1.3M84.2 356.1h1.3M87.2 356.0h1.3M104.0 356.3h1.3M115.1 356.1h1.3M126.2 356.3h1.3M141.2 356.0h1.3M166.3 356.0h1.3M169.1 356.1h1.3M171.2 356.2h1.3M172.0 356.1h1.3M191.2 356.0h1.3M197.3 356.1h1.3M208.2 356.2h1.3M211.2 356.0h1.3M212.0 356.3h1.3M224.1 356.1h1.3M225.0 356.3h1.3M226.2 356.3h1.3M233.3 356.2h1.3M234.0 356.1h1.3M236.1 356.0h1.3M240.2 356.2h1.3M241.0 356.1h1.3M245.1 356.1h1.3M246.2 356.2h1.3M247.1 356.2h1.3M250.1 356.2h1.3M256.2 356.1h1.3M257.1 356.2h1.3M261.0 356.1h1.3M263.0 356.1h1.3M264.1 356.1h1.3M266.3 356.1h1.3M278.2 356.1h1.3M279.1 356.1h1.3M281.1 356.2h1.3M283.0 356.3h1.3M284.1 356.3h1.3M289.3 356.3h1.3M291.0 356.1h1.3M296.2 356.1h1.3M305.1 356.0h1.3M307.3 356.2h1.3M312.2 356.1h1.3M313.1 356.1h1.3M315.1 356.0h1.3M316.1 356.1h1.3M320.3 356.0h1.3M321.1 356.1h1.3M42.0 357.0h1.3M44.3 357.1h1.3M45.1 357.1h1.3M46.2 357.3h1.3M47.1 357.3h1.3M52.3 357.0h1.3M55.1 357.3h1.3M57.0 357.1h1.3M60.3 357.0h1.3M63.2 357.1h1.3M65.1 357.2h1.3M71.2 357.2h1.3M72.0 357.1h1.3M77.3 357.0h1.3M98.3 357.0h1.3M166.1 357.1h1.3M203.2 357.2h1.3M207.1 357.2h1.3M212.1 357.0h1.3M225.1 357.1h1.3M230.1 357.1h1.3M233.1 357.1h1.3M234.3 357.1h1.3M238.1 357.0h1.3M245.1 357.2h1.3M251.1 357.1h1.3M252.3 357.0h1.3M256.2 357.2h1.3M257.1 357.2h1.3M258.2 357.2h1.3M262.1 357.2h1.3M263.2 357.2h1.3M265.2 357.0h1.3M270.3 357.1h1.3M274.1 357.2h1.3M278.0 357.1h1.3M284.1 357.3h1.3M285.3 357.1h1.3M288.2 357.0h1.3M289.2 357.2h1.3M298.0 357.1h1.3M301.1 357.1h1.3M302.3 357.2h1.3M307.2 357.1h1.3M314.2 357.2h1.3M315.2 357.2h1.3M316.3 357.2h1.3M318.0 357.2h1.3M319.3 357.2h1.3M320.2 357.2h1.3M42.3 358.3h1.3M44.1 358.0h1.3M47.1 358.1h1.3M52.2 358.1h1.3M53.1 358.3h1.3M54.1 358.3h1.3M56.1 358.1h1.3M57.3 358.2h1.3M61.2 358.1h1.3M62.0 358.1h1.3M65.3 358.0h1.3M86.1 358.2h1.3M90.0 358.2h1.3M120.2 358.1h1.3M132.1 358.3h1.3M164.2 358.0h1.3M177.2 358.3h1.3M197.2 358.3h1.3M200.3 358.1h1.3M203.2 358.1h1.3M205.3 358.2h1.3M216.1 358.0h1.3M219.2 358.0h1.3M222.2 358.1h1.3M224.0 358.2h1.3M229.1 358.1h1.3M232.1 358.1h1.3M233.1 358.1h1.3M234.2 358.1h1.3M235.2 358.0h1.3M237.2 358.3h1.3M238.3 358.0h1.3M242.2 358.1h1.3M248.1 358.1h1.3M250.1 358.1h1.3M253.0 358.1h1.3M257.1 358.1h1.3M263.1 358.2h1.3M264.2 358.2h1.3M265.3 358.0h1.3M267.2 358.1h1.3M268.1 358.2h1.3M274.1 358.0h1.3M276.3 358.2h1.3M278.3 358.2h1.3M285.2 358.2h1.3M286.0 358.0h1.3M287.1 358.1h1.3M289.3 358.0h1.3M306.1 358.2h1.3M310.0 358.1h1.3M311.1 358.3h1.3M312.1 358.2h1.3M315.2 358.2h1.3M316.1 358.2h1.3M317.1 358.1h1.3M318.2 358.1h1.3M320.1 358.3h1.3M321.2 358.1h1.3M44.1 359.2h1.3M45.3 359.0h1.3M46.2 359.0h1.3M48.2 359.1h1.3M55.1 359.1h1.3M56.2 359.3h1.3M58.1 359.2h1.3M66.2 359.2h1.3M68.3 359.0h1.3M69.2 359.1h1.3M86.2 359.1h1.3M143.2 359.1h1.3M151.1 359.1h1.3M155.1 359.0h1.3M210.2 359.3h1.3M213.3 359.2h1.3M215.1 359.3h1.3M223.0 359.2h1.3M230.2 359.2h1.3M234.3 359.1h1.3M235.0 359.0h1.3M237.1 359.1h1.3M243.2 359.2h1.3M244.2 359.1h1.3M248.2 359.1h1.3M250.2 359.0h1.3M251.1 359.3h1.3M254.2 359.1h1.3M259.2 359.2h1.3M262.2 359.2h1.3M273.2 359.1h1.3M275.1 359.2h1.3M279.2 359.0h1.3M281.2 359.2h1.3M282.2 359.0h1.3M284.1 359.1h1.3M288.0 359.2h1.3M289.2 359.2h1.3M291.2 359.2h1.3M298.1 359.1h1.3M312.1 359.2h1.3M320.2 359.1h1.3M43.1 360.3h1.3M47.0 360.2h1.3M48.1 360.2h1.3M49.2 360.0h1.3M50.1 360.1h1.3M54.0 360.0h1.3M58.1 360.3h1.3M60.0 360.1h1.3M64.1 360.2h1.3M66.2 360.1h1.3M68.2 360.0h1.3M69.3 360.1h1.3M71.2 360.2h1.3M87.1 360.2h1.3M89.0 360.2h1.3M94.2 360.3h1.3M137.2 360.2h1.3M194.2 360.2h1.3M200.1 360.2h1.3M205.1 360.3h1.3M207.2 360.1h1.3M210.3 360.3h1.3M213.2 360.1h1.3M214.2 360.1h1.3M222.0 360.1h1.3M224.3 360.3h1.3M229.2 360.3h1.3M238.0 360.0h1.3M247.1 360.1h1.3M248.1 360.1h1.3M249.0 360.2h1.3M252.2 360.0h1.3M256.1 360.2h1.3M257.1 360.1h1.3M259.2 360.3h1.3M261.1 360.0h1.3M265.1 360.1h1.3M269.1 360.3h1.3M275.1 360.1h1.3M276.1 360.2h1.3M280.1 360.1h1.3M281.2 360.1h1.3M288.2 360.0h1.3M289.0 360.3h1.3M290.3 360.1h1.3M291.1 360.2h1.3M293.1 360.1h1.3M298.0 360.1h1.3M303.2 360.0h1.3M308.3 360.1h1.3M309.1 360.1h1.3M314.2 360.0h1.3M317.2 360.1h1.3M47.0 361.2h1.3M48.3 361.2h1.3M55.2 361.1h1.3M63.2 361.2h1.3M85.0 361.2h1.3M147.1 361.1h1.3M151.0 361.1h1.3M156.2 361.0h1.3M163.0 361.0h1.3M168.1 361.1h1.3M170.1 361.0h1.3M221.1 361.3h1.3M233.3 361.2h1.3M236.1 361.2h1.3M253.1 361.2h1.3M256.2 361.2h1.3M257.2 361.2h1.3M272.2 361.1h1.3M281.1 361.1h1.3M288.1 361.3h1.3M296.3 361.2h1.3M297.0 361.2h1.3M303.2 361.1h1.3M312.0 361.3h1.3M313.2 361.2h1.3M315.1 361.1h1.3M316.0 361.2h1.3M322.0 361.1h1.3M42.1 362.1h1.3M46.3 362.2h1.3M49.0 362.2h1.3M50.0 362.3h1.3M51.1 362.1h1.3M55.1 362.1h1.3M57.1 362.1h1.3M60.0 362.0h1.3M61.0 362.0h1.3M62.1 362.2h1.3M66.1 362.3h1.3M67.0 362.0h1.3M68.0 362.1h1.3M70.2 362.2h1.3M76.2 362.0h1.3M77.1 362.2h1.3M105.3 362.3h1.3M112.0 362.1h1.3M115.3 362.1h1.3M129.2 362.2h1.3M150.2 362.1h1.3M167.3 362.2h1.3M176.2 362.0h1.3M211.2 362.0h1.3M214.0 362.1h1.3M215.1 362.0h1.3M217.3 362.0h1.3M218.2 362.2h1.3M219.1 362.2h1.3M225.2 362.1h1.3M232.0 362.3h1.3M237.1 362.1h1.3M241.3 362.1h1.3M247.1 362.1h1.3M253.2 362.1h1.3M255.2 362.3h1.3M256.2 362.1h1.3M264.1 362.2h1.3M265.1 362.0h1.3M266.2 362.1h1.3M272.3 362.3h1.3M278.0 362.0h1.3M281.1 362.3h1.3M284.0 362.2h1.3M287.0 362.2h1.3M300.3 362.2h1.3M304.1 362.2h1.3M307.1 362.0h1.3M313.1 362.2h1.3M315.3 362.1h1.3M316.2 362.0h1.3M319.1 362.1h1.3M320.2 362.2h1.3M321.2 362.2h1.3M322.2 362.1h1.3M43.3 363.1h1.3M44.0 363.0h1.3M50.2 363.2h1.3M53.1 363.2h1.3M55.1 363.1h1.3M58.2 363.2h1.3M59.0 363.2h1.3M60.1 363.1h1.3M64.2 363.1h1.3M66.1 363.2h1.3M68.0 363.1h1.3M70.2 363.2h1.3M76.0 363.0h1.3M83.2 363.3h1.3M98.1 363.2h1.3M107.1 363.1h1.3M146.2 363.1h1.3M149.1 363.1h1.3M208.0 363.2h1.3M211.1 363.2h1.3M219.2 363.2h1.3M220.2 363.2h1.3M221.1 363.2h1.3M222.1 363.1h1.3M228.0 363.2h1.3M231.2 363.3h1.3M232.1 363.2h1.3M238.3 363.2h1.3M243.2 363.1h1.3M248.2 363.1h1.3M249.1 363.2h1.3M254.2 363.1h1.3M256.0 363.3h1.3M269.3 363.1h1.3M273.0 363.1h1.3M278.3 363.1h1.3M283.2 363.3h1.3M294.0 363.1h1.3M295.1 363.1h1.3M296.1 363.2h1.3M300.2 363.2h1.3M304.0 363.3h1.3M305.2 363.2h1.3M308.2 363.3h1.3M312.3 363.1h1.3M317.3 363.3h1.3M319.0 363.1h1.3M321.3 363.1h1.3M322.1 363.1h1.3M42.0 364.2h1.3M43.1 364.0h1.3M44.3 364.1h1.3M45.1 364.3h1.3M46.2 364.2h1.3M47.0 364.3h1.3M48.1 364.1h1.3M50.2 364.0h1.3M51.1 364.1h1.3M61.0 364.2h1.3M64.0 364.0h1.3M67.0 364.2h1.3M68.2 364.1h1.3M72.3 364.2h1.3M87.0 364.2h1.3M106.3 364.2h1.3M109.2 364.1h1.3M115.2 364.1h1.3M116.3 364.2h1.3M122.1 364.1h1.3M124.2 364.3h1.3M163.1 364.3h1.3M177.0 364.0h1.3M195.0 364.2h1.3M200.2 364.1h1.3M206.2 364.0h1.3M208.1 364.2h1.3M210.3 364.1h1.3M212.0 364.2h1.3M216.2 364.1h1.3M218.2 364.2h1.3M224.2 364.1h1.3M229.2 364.1h1.3M230.2 364.1h1.3M231.1 364.2h1.3M237.1 364.2h1.3M240.1 364.0h1.3M252.0 364.0h1.3M254.1 364.1h1.3M257.0 364.0h1.3M269.1 364.1h1.3M273.2 364.0h1.3M277.2 364.0h1.3M289.2 364.1h1.3M293.1 364.1h1.3M294.2 364.2h1.3M304.3 364.0h1.3M308.1 364.1h1.3M312.3 364.3h1.3M313.2 364.1h1.3M315.1 364.1h1.3M318.1 364.0h1.3M321.1 364.1h1.3M42.1 365.1h1.3M43.1 365.2h1.3M45.1 365.1h1.3M46.1 365.0h1.3M49.0 365.3h1.3M51.2 365.1h1.3M57.3 365.3h1.3M60.1 365.3h1.3M67.1 365.2h1.3M70.0 365.2h1.3M71.1 365.0h1.3M72.2 365.2h1.3M77.1 365.2h1.3M80.1 365.2h1.3M82.0 365.2h1.3M88.2 365.1h1.3M100.2 365.2h1.3M110.0 365.1h1.3M194.2 365.2h1.3M202.3 365.2h1.3M203.1 365.0h1.3M204.2 365.2h1.3M206.3 365.2h1.3M210.3 365.2h1.3M211.1 365.3h1.3M216.2 365.1h1.3M219.2 365.2h1.3M222.2 365.1h1.3M224.0 365.1h1.3M225.0 365.1h1.3M228.0 365.2h1.3M232.3 365.0h1.3M234.3 365.1h1.3M241.3 365.2h1.3M246.2 365.3h1.3M247.1 365.2h1.3M252.1 365.1h1.3M255.2 365.1h1.3M260.0 365.2h1.3M268.1 365.1h1.3M272.2 365.3h1.3M278.2 365.1h1.3M281.1 365.0h1.3M283.3 365.2h1.3M288.1 365.2h1.3M290.1 365.2h1.3M292.0 365.2h1.3M293.3 365.2h1.3M294.1 365.1h1.3M300.2 365.2h1.3M302.0 365.2h1.3M310.0 365.2h1.3M313.1 365.1h1.3M316.2 365.1h1.3M317.0 365.0h1.3M319.1 365.2h1.3M321.2 365.3h1.3M322.2 365.1h1.3M44.1 366.3h1.3M48.3 366.0h1.3M49.1 366.2h1.3M50.0 366.3h1.3M52.2 366.1h1.3M53.0 366.2h1.3M55.2 366.0h1.3M57.1 366.2h1.3M60.2 366.1h1.3M62.1 366.0h1.3M64.2 366.2h1.3M66.2 366.1h1.3M67.1 366.2h1.3M68.2 366.1h1.3M69.3 366.0h1.3M72.3 366.0h1.3M80.2 366.1h1.3M86.1 366.1h1.3M92.3 366.0h1.3M124.0 366.2h1.3M202.2 366.1h1.3M214.2 366.1h1.3M215.3 366.0h1.3M216.2 366.2h1.3M217.3 366.2h1.3M218.2 366.2h1.3M219.1 366.2h1.3M228.3 366.1h1.3M229.1 366.0h1.3M234.1 366.2h1.3M244.1 366.0h1.3M246.0 366.1h1.3M247.3 366.1h1.3M248.0 366.2h1.3M251.0 366.1h1.3M257.3 366.3h1.3M263.2 366.1h1.3M268.1 366.1h1.3M270.3 366.0h1.3M284.0 366.1h1.3M285.1 366.2h1.3M286.3 366.2h1.3M288.2 366.0h1.3M300.3 366.3h1.3M304.2 366.3h1.3M309.0 366.2h1.3M314.1 366.0h1.3M316.2 366.3h1.3M318.1 366.1h1.3M319.1 366.2h1.3M320.2 366.2h1.3M322.3 366.3h1.3M43.1 367.0h1.3M46.2 367.3h1.3M47.1 367.2h1.3M52.2 367.3h1.3M54.0 367.2h1.3M68.0 367.3h1.3M78.0 367.3h1.3M79.2 367.2h1.3M92.3 367.1h1.3M112.0 367.2h1.3M144.2 367.3h1.3M206.1 367.2h1.3M209.1 367.2h1.3M211.1 367.1h1.3M213.2 367.2h1.3M217.3 367.2h1.3M218.3 367.3h1.3M219.1 367.0h1.3M221.2 367.0h1.3M222.2 367.2h1.3M223.1 367.2h1.3M225.2 367.1h1.3M227.3 367.2h1.3M231.1 367.3h1.3M234.2 367.1h1.3M238.0 367.3h1.3M242.2 367.2h1.3M250.2 367.1h1.3M252.1 367.1h1.3M257.2 367.3h1.3M267.2 367.2h1.3M273.0 367.2h1.3M275.1 367.2h1.3M279.2 367.2h1.3M281.1 367.2h1.3M283.1 367.2h1.3M287.3 367.3h1.3M293.3 367.3h1.3M294.2 367.3h1.3M295.0 367.2h1.3M301.3 367.1h1.3M303.1 367.1h1.3M309.1 367.1h1.3M310.0 367.1h1.3M311.1 367.1h1.3M315.2 367.2h1.3M319.3 367.2h1.3M321.0 367.1h1.3M44.2 368.1h1.3M50.0 368.1h1.3M51.1 368.0h1.3M56.2 368.1h1.3M59.2 368.0h1.3M63.2 368.0h1.3M64.1 368.1h1.3M83.3 368.0h1.3M98.1 368.2h1.3M123.0 368.2h1.3M124.0 368.1h1.3M146.1 368.3h1.3M161.2 368.3h1.3M171.0 368.3h1.3M197.2 368.3h1.3M199.0 368.0h1.3M201.1 368.1h1.3M208.3 368.3h1.3M212.0 368.3h1.3M213.2 368.1h1.3M214.1 368.1h1.3M228.3 368.0h1.3M229.3 368.3h1.3M233.2 368.1h1.3M237.0 368.3h1.3M243.1 368.2h1.3M245.1 368.1h1.3M250.2 368.1h1.3M253.0 368.2h1.3M258.2 368.3h1.3M275.1 368.0h1.3M281.1 368.1h1.3M283.0 368.1h1.3M284.0 368.1h1.3M287.1 368.0h1.3M289.0 368.1h1.3M292.3 368.0h1.3M294.1 368.0h1.3M298.3 368.1h1.3M303.1 368.1h1.3M307.0 368.2h1.3M315.1 368.0h1.3M316.1 368.1h1.3M317.3 368.1h1.3M318.2 368.1h1.3M320.0 368.0h1.3M322.2 368.0h1.3M42.0 369.1h1.3M46.0 369.3h1.3M50.3 369.2h1.3M51.2 369.2h1.3M54.1 369.2h1.3M55.3 369.2h1.3M62.2 369.3h1.3M66.3 369.2h1.3M67.1 369.1h1.3M68.1 369.1h1.3M69.2 369.2h1.3M72.0 369.0h1.3M79.1 369.1h1.3M118.1 369.2h1.3M148.2 369.2h1.3M157.2 369.0h1.3M171.3 369.1h1.3M191.1 369.1h1.3M207.2 369.2h1.3M210.0 369.0h1.3M211.2 369.3h1.3M215.2 369.3h1.3M220.1 369.2h1.3M221.1 369.1h1.3M222.1 369.2h1.3M225.3 369.1h1.3M229.1 369.0h1.3M232.2 369.3h1.3M235.0 369.2h1.3M240.2 369.1h1.3M247.0 369.0h1.3M255.3 369.2h1.3M256.3 369.1h1.3M257.2 369.1h1.3M258.0 369.2h1.3M261.2 369.2h1.3M262.2 369.1h1.3M267.0 369.1h1.3M268.2 369.2h1.3M274.3 369.1h1.3M275.1 369.3h1.3M285.3 369.2h1.3M293.1 369.0h1.3M296.0 369.0h1.3M298.1 369.1h1.3M303.2 369.2h1.3M309.0 369.1h1.3M311.2 369.2h1.3M312.0 369.1h1.3M313.1 369.0h1.3M317.1 369.2h1.3M318.2 369.1h1.3M319.3 369.1h1.3M320.1 369.2h1.3M42.1 370.2h1.3M43.0 370.3h1.3M45.2 370.2h1.3M46.2 370.2h1.3M47.1 370.1h1.3M50.1 370.0h1.3M52.2 370.3h1.3M54.3 370.2h1.3M62.2 370.3h1.3M67.1 370.3h1.3M68.2 370.2h1.3M105.1 370.3h1.3M118.2 370.3h1.3M130.3 370.2h1.3M139.0 370.1h1.3M141.3 370.2h1.3M154.3 370.1h1.3M189.0 370.2h1.3M191.2 370.1h1.3M196.1 370.1h1.3M204.2 370.1h1.3M210.2 370.0h1.3M213.1 370.1h1.3M217.2 370.3h1.3M219.2 370.1h1.3M225.2 370.2h1.3M230.0 370.3h1.3M237.1 370.2h1.3M239.0 370.1h1.3M241.0 370.1h1.3M245.1 370.1h1.3M248.1 370.0h1.3M252.3 370.2h1.3M254.0 370.1h1.3M259.1 370.1h1.3M260.1 370.2h1.3M265.1 370.1h1.3M268.2 370.2h1.3M270.0 370.2h1.3M276.2 370.2h1.3M277.2 370.2h1.3M287.3 370.1h1.3M295.3 370.3h1.3M296.0 370.2h1.3M298.0 370.1h1.3M300.1 370.2h1.3M303.3 370.1h1.3M305.0 370.1h1.3M306.0 370.1h1.3M308.1 370.3h1.3M309.1 370.2h1.3M312.1 370.1h1.3M315.2 370.2h1.3M319.1 370.2h1.3M42.1 371.1h1.3M43.2 371.2h1.3M48.0 371.2h1.3M52.1 371.2h1.3M54.0 371.2h1.3M58.2 371.2h1.3M60.1 371.0h1.3M62.2 371.1h1.3M68.1 371.2h1.3M71.3 371.3h1.3M83.1 371.1h1.3M102.3 371.3h1.3M103.2 371.2h1.3M106.3 371.0h1.3M160.1 371.0h1.3M193.2 371.2h1.3M201.1 371.1h1.3M203.1 371.3h1.3M206.3 371.1h1.3M211.3 371.3h1.3M212.2 371.1h1.3M215.2 371.1h1.3M217.1 371.2h1.3M218.1 371.0h1.3M220.1 371.1h1.3M222.0 371.1h1.3M224.3 371.3h1.3M226.3 371.2h1.3M227.2 371.1h1.3M231.1 371.2h1.3M232.2 371.0h1.3M234.2 371.2h1.3M236.3 371.1h1.3M241.2 371.0h1.3M243.2 371.3h1.3M244.0 371.0h1.3M250.2 371.1h1.3M255.1 371.3h1.3M263.3 371.1h1.3M266.2 371.2h1.3M277.2 371.2h1.3M281.0 371.1h1.3M283.1 371.1h1.3M287.1 371.2h1.3M292.0 371.0h1.3M302.2 371.3h1.3M307.1 371.2h1.3M309.2 371.1h1.3M310.2 371.3h1.3M311.3 371.2h1.3M314.2 371.1h1.3M317.2 371.2h1.3M318.1 371.2h1.3M320.1 371.3h1.3M321.3 371.2h1.3M322.0 371.3h1.3M43.3 372.2h1.3M44.1 372.2h1.3M46.1 372.1h1.3M49.2 372.3h1.3M50.1 372.0h1.3M52.2 372.3h1.3M53.0 372.1h1.3M54.1 372.2h1.3M66.1 372.0h1.3M74.3 372.1h1.3M77.1 372.2h1.3M78.3 372.3h1.3M80.2 372.1h1.3M99.0 372.3h1.3M149.2 372.0h1.3M173.0 372.0h1.3M193.1 372.1h1.3M207.0 372.0h1.3M210.2 372.1h1.3M216.0 372.0h1.3M217.1 372.1h1.3M226.2 372.3h1.3M227.2 372.1h1.3M228.1 372.1h1.3M230.1 372.2h1.3M238.1 372.0h1.3M243.1 372.3h1.3M244.3 372.0h1.3M247.2 372.2h1.3M251.3 372.0h1.3M252.0 372.2h1.3M256.1 372.0h1.3M261.2 372.0h1.3M265.1 372.1h1.3M266.2 372.2h1.3M277.1 372.2h1.3M279.2 372.2h1.3M281.0 372.2h1.3M282.2 372.1h1.3M286.3 372.1h1.3M302.1 372.2h1.3M305.3 372.0h1.3M311.1 372.0h1.3M312.0 372.2h1.3M313.0 372.1h1.3M316.1 372.1h1.3M319.3 372.2h1.3M320.3 372.1h1.3M321.2 372.3h1.3M42.2 373.1h1.3M43.3 373.3h1.3M46.1 373.3h1.3M48.3 373.1h1.3M51.2 373.2h1.3M59.3 373.1h1.3M64.3 373.0h1.3M66.0 373.0h1.3M83.3 373.1h1.3M99.2 373.1h1.3M127.1 373.1h1.3M132.2 373.1h1.3M142.2 373.2h1.3M148.2 373.0h1.3M167.2 373.1h1.3M168.1 373.1h1.3M169.2 373.3h1.3M171.3 373.2h1.3M174.1 373.1h1.3M189.1 373.1h1.3M190.2 373.3h1.3M211.2 373.2h1.3M214.1 373.3h1.3M215.3 373.3h1.3M219.1 373.2h1.3M221.1 373.2h1.3M222.2 373.0h1.3M224.3 373.0h1.3M225.3 373.3h1.3M227.0 373.2h1.3M229.2 373.2h1.3M233.2 373.3h1.3M236.1 373.2h1.3M240.0 373.2h1.3M242.1 373.3h1.3M244.1 373.0h1.3M247.3 373.1h1.3M250.3 373.0h1.3M252.1 373.3h1.3M255.2 373.1h1.3M267.2 373.3h1.3M271.2 373.3h1.3M275.1 373.2h1.3M281.3 373.2h1.3M284.1 373.2h1.3M287.1 373.0h1.3M295.1 373.3h1.3M297.2 373.3h1.3M301.3 373.1h1.3M303.3 373.1h1.3M307.3 373.2h1.3M308.3 373.1h1.3M313.2 373.2h1.3M314.0 373.2h1.3M315.3 373.1h1.3M317.1 373.1h1.3M320.0 373.1h1.3M43.1 374.3h1.3M46.2 374.1h1.3M47.1 374.2h1.3M48.2 374.0h1.3M49.0 374.1h1.3M51.2 374.1h1.3M52.2 374.1h1.3M54.3 374.3h1.3M58.1 374.2h1.3M60.3 374.2h1.3M61.1 374.1h1.3M63.3 374.3h1.3M68.0 374.0h1.3M71.0 374.2h1.3M72.2 374.2h1.3M87.1 374.0h1.3M105.2 374.2h1.3M167.2 374.1h1.3M195.0 374.0h1.3M209.3 374.2h1.3M213.3 374.2h1.3M217.1 374.0h1.3M219.1 374.0h1.3M220.2 374.0h1.3M228.0 374.1h1.3M243.2 374.3h1.3M244.2 374.2h1.3M249.2 374.1h1.3M253.1 374.3h1.3M257.2 374.1h1.3M258.2 374.3h1.3M266.1 374.0h1.3M268.3 374.2h1.3M269.2 374.1h1.3M271.1 374.2h1.3M272.1 374.1h1.3M274.0 374.2h1.3M275.0 374.1h1.3M280.2 374.2h1.3M288.2 374.2h1.3M289.2 374.1h1.3M292.2 374.3h1.3M293.1 374.2h1.3M295.1 374.1h1.3M301.1 374.0h1.3M302.3 374.2h1.3M314.1 374.2h1.3M316.2 374.0h1.3M317.1 374.3h1.3M318.1 374.1h1.3M319.0 374.3h1.3M320.3 374.3h1.3M321.0 374.2h1.3M43.2 375.1h1.3M45.2 375.1h1.3M48.3 375.1h1.3M50.0 375.1h1.3M52.3 375.1h1.3M53.0 375.1h1.3M54.0 375.2h1.3M57.1 375.1h1.3M58.3 375.2h1.3M60.0 375.3h1.3M64.1 375.2h1.3M66.3 375.2h1.3M67.3 375.3h1.3M68.3 375.2h1.3M69.2 375.3h1.3M75.2 375.2h1.3M154.3 375.2h1.3M161.2 375.0h1.3M199.1 375.1h1.3M200.2 375.1h1.3M204.2 375.3h1.3M205.2 375.2h1.3M211.2 375.1h1.3M215.2 375.2h1.3M216.0 375.1h1.3M218.3 375.2h1.3M225.2 375.1h1.3M230.0 375.2h1.3M236.1 375.2h1.3M237.1 375.1h1.3M242.2 375.2h1.3M245.1 375.1h1.3M258.1 375.1h1.3M259.2 375.1h1.3M261.2 375.0h1.3M262.1 375.1h1.3M269.1 375.2h1.3M270.1 375.1h1.3M272.1 375.0h1.3M273.1 375.2h1.3M275.2 375.2h1.3M279.3 375.1h1.3M281.1 375.1h1.3M285.2 375.0h1.3M293.1 375.0h1.3M296.0 375.0h1.3M298.2 375.1h1.3M309.3 375.2h1.3M310.2 375.2h1.3M311.1 375.0h1.3M315.3 375.1h1.3M316.0 375.1h1.3M319.2 375.3h1.3M320.1 375.1h1.3M321.0 375.0h1.3M43.1 376.2h1.3M45.1 376.1h1.3M46.2 376.2h1.3M49.0 376.2h1.3M51.1 376.1h1.3M54.0 376.1h1.3M56.1 376.3h1.3M58.1 376.1h1.3M59.3 376.1h1.3M60.2 376.3h1.3M61.2 376.2h1.3M63.2 376.1h1.3M65.1 376.1h1.3M93.2 376.2h1.3M96.0 376.0h1.3M160.1 376.0h1.3M188.2 376.3h1.3M203.3 376.3h1.3M209.1 376.1h1.3M214.1 376.0h1.3M215.2 376.3h1.3M216.1 376.2h1.3M220.2 376.3h1.3M224.0 376.2h1.3M229.1 376.2h1.3M230.1 376.0h1.3M238.0 376.1h1.3M241.2 376.2h1.3M246.1 376.2h1.3M248.2 376.0h1.3M254.1 376.3h1.3M256.0 376.2h1.3M257.0 376.1h1.3M258.2 376.2h1.3M263.1 376.1h1.3M264.0 376.2h1.3M271.2 376.2h1.3M272.2 376.1h1.3M274.3 376.1h1.3M275.0 376.1h1.3M276.1 376.3h1.3M277.3 376.1h1.3M281.0 376.2h1.3M285.0 376.0h1.3M287.0 376.1h1.3M288.3 376.3h1.3M290.3 376.3h1.3M295.2 376.1h1.3M301.1 376.2h1.3M303.3 376.3h1.3M305.1 376.2h1.3M306.2 376.0h1.3M313.3 376.3h1.3M318.2 376.1h1.3M321.2 376.3h1.3M42.3 377.2h1.3M44.1 377.1h1.3M45.2 377.3h1.3M46.1 377.1h1.3M48.3 377.0h1.3M49.1 377.2h1.3M54.3 377.2h1.3M59.0 377.1h1.3M60.0 377.3h1.3M61.0 377.0h1.3M64.1 377.0h1.3M78.0 377.0h1.3M148.1 377.2h1.3M168.1 377.0h1.3M194.1 377.1h1.3M202.1 377.3h1.3M211.0 377.1h1.3M213.1 377.1h1.3M215.1 377.2h1.3M219.2 377.0h1.3M221.3 377.1h1.3M224.2 377.2h1.3M233.0 377.1h1.3M237.0 377.0h1.3M238.2 377.1h1.3M247.3 377.1h1.3M258.2 377.2h1.3M263.3 377.1h1.3M272.3 377.0h1.3M274.3 377.1h1.3M276.3 377.1h1.3M277.1 377.2h1.3M281.2 377.1h1.3M286.1 377.2h1.3M293.3 377.0h1.3M296.0 377.0h1.3M297.3 377.1h1.3M298.3 377.0h1.3M303.3 377.1h1.3M315.2 377.2h1.3M316.0 377.1h1.3M317.0 377.1h1.3M319.0 377.1h1.3M320.2 377.1h1.3M322.0 377.1h1.3M43.2 378.1h1.3M45.2 378.2h1.3M46.1 378.2h1.3M47.2 378.1h1.3M50.1 378.3h1.3M55.2 378.2h1.3M56.0 378.3h1.3M60.2 378.1h1.3M62.2 378.2h1.3M66.1 378.2h1.3M79.3 378.3h1.3M127.2 378.2h1.3M129.2 378.0h1.3M138.2 378.2h1.3M147.1 378.0h1.3M178.2 378.0h1.3M199.2 378.1h1.3M205.1 378.3h1.3M210.1 378.1h1.3M217.1 378.0h1.3M219.2 378.1h1.3M220.2 378.2h1.3M221.0 378.3h1.3M222.2 378.2h1.3M227.3 378.1h1.3M234.3 378.2h1.3M237.0 378.3h1.3M238.1 378.0h1.3M242.0 378.1h1.3M243.1 378.1h1.3M244.3 378.1h1.3M249.0 378.1h1.3M251.0 378.2h1.3M253.2 378.0h1.3M254.1 378.2h1.3M255.1 378.3h1.3M259.2 378.1h1.3M262.1 378.2h1.3M267.0 378.3h1.3M268.2 378.3h1.3M270.3 378.2h1.3M276.2 378.2h1.3M277.0 378.2h1.3M278.2 378.0h1.3M289.2 378.1h1.3M293.1 378.1h1.3M299.1 378.2h1.3M301.1 378.2h1.3M305.3 378.1h1.3M307.2 378.2h1.3M308.1 378.1h1.3M309.1 378.1h1.3M312.2 378.2h1.3M313.2 378.1h1.3M315.2 378.1h1.3M316.0 378.2h1.3M317.2 378.0h1.3M319.1 378.2h1.3M321.2 378.3h1.3M42.3 379.3h1.3M43.1 379.2h1.3M45.3 379.1h1.3M46.0 379.2h1.3M48.0 379.1h1.3M49.1 379.2h1.3M50.0 379.3h1.3M56.1 379.0h1.3M61.0 379.1h1.3M65.2 379.2h1.3M67.1 379.0h1.3M68.2 379.0h1.3M76.3 379.3h1.3M79.0 379.2h1.3M87.3 379.2h1.3M98.1 379.3h1.3M103.2 379.2h1.3M110.1 379.3h1.3M126.0 379.1h1.3M163.1 379.3h1.3M191.1 379.3h1.3M207.0 379.0h1.3M211.3 379.1h1.3M216.1 379.1h1.3M217.1 379.1h1.3M220.2 379.1h1.3M221.0 379.1h1.3M222.1 379.1h1.3M224.1 379.1h1.3M230.0 379.2h1.3M239.2 379.2h1.3M244.0 379.0h1.3M245.2 379.1h1.3M246.3 379.2h1.3M247.2 379.2h1.3M248.3 379.0h1.3M251.2 379.0h1.3M258.1 379.3h1.3M263.2 379.1h1.3M269.3 379.2h1.3M272.1 379.2h1.3M275.2 379.1h1.3M279.2 379.2h1.3M282.2 379.1h1.3M283.1 379.3h1.3M285.1 379.0h1.3M286.1 379.2h1.3M287.3 379.2h1.3M293.2 379.2h1.3M298.1 379.0h1.3M299.3 379.2h1.3M303.0 379.1h1.3M305.3 379.1h1.3M307.3 379.0h1.3M310.2 379.3h1.3M312.1 379.2h1.3M313.1 379.3h1.3M314.1 379.1h1.3M315.2 379.2h1.3M320.0 379.0h1.3" stroke="#0072BD" stroke-width="1.3" fill="none"/>
<path d="M41.5,380.75H323.5" stroke="#777" stroke-width="0.9"/>
<path d="M41.5,380.75H323.5" stroke="#D95319" stroke-width="0.9" stroke-dasharray="1.5,1.5" opacity="0.8"/>
<path d="M41.5,380.75V248.75H323.5V380.75" stroke="#262626" stroke-width="1" fill="none"/>
<path d="M65.00,248.75v2.8M65.00,380.75v-2.8M104.17,248.75v2.8M104.17,380.75v-2.8M143.33,248.75v2.8M143.33,380.75v-2.8M182.50,248.75v2.8M182.50,380.75v-2.8M221.67,248.75v2.8M221.67,380.75v-2.8M260.83,248.75v2.8M260.83,380.75v-2.8M300.00,248.75v2.8M300.00,380.75v-2.8M41.5,248.75h2.8M323.5,248.75h-2.8M41.5,281.75h2.8M323.5,281.75h-2.8M41.5,314.75h2.8M323.5,314.75h-2.8M41.5,347.75h2.8M323.5,347.75h-2.8M41.5,380.75h2.8M323.5,380.75h-2.8" stroke="#262626" stroke-width="0.8" fill="none"/>
<text x="37.6" y="253.15" font-size="13.4" text-anchor="end" fill="#3a3a3a" >0</text>
<text x="37.6" y="286.15" font-size="13.4" text-anchor="end" fill="#3a3a3a" >-0.5</text>
<text x="37.6" y="319.15" font-size="13.4" text-anchor="end" fill="#3a3a3a" >-1</text>
<text x="37.6" y="352.15" font-size="13.4" text-anchor="end" fill="#3a3a3a" >-1.5</text>
<text x="37.6" y="385.15" font-size="13.4" text-anchor="end" fill="#3a3a3a" >-2</text>
<text x="65.0" y="395" font-size="13.4" text-anchor="middle" fill="#3a3a3a" >-150</text>
<text x="104.16666666666667" y="395" font-size="13.4" text-anchor="middle" fill="#3a3a3a" >-100</text>
<text x="143.33333333333334" y="395" font-size="13.4" text-anchor="middle" fill="#3a3a3a" >-50</text>
<text x="182.5" y="395" font-size="13.4" text-anchor="middle" fill="#3a3a3a" >0</text>
<text x="221.66666666666666" y="395" font-size="13.4" text-anchor="middle" fill="#3a3a3a" >50</text>
<text x="260.8333333333333" y="395" font-size="13.4" text-anchor="middle" fill="#3a3a3a" >100</text>
<text x="300.0" y="395" font-size="13.4" text-anchor="middle" fill="#3a3a3a" >150</text>
<text x="132" y="412.5" font-size="14" font-style="italic" fill="#3a3a3a" textLength="101" lengthAdjust="spacingAndGlyphs">S<tspan font-size="9.5" font-style="normal" dy="2.3">12</tspan><tspan dy="-2.3">Phase(Deg)</tspan></text>
<text transform="translate(13.4,380.3) rotate(-90)" x="0" y="0" font-size="14.5" font-style="italic" fill="#3a3a3a" textLength="129" lengthAdjust="spacingAndGlyphs">S<tspan font-size="9.5" font-style="normal" dy="2.3">12</tspan><tspan dy="-2.3">Magnitude(dB)</tspan></text>
<text x="151.4" y="441.5" font-size="23" text-anchor="start" fill="#000"  textLength="24.2" lengthAdjust="spacingAndGlyphs">(c)</text>
<path d="M404.66,248.75V381.75M443.09,248.75V381.75M481.52,248.75V381.75M519.95,248.75V381.75M558.38,248.75V381.75M596.81,248.75V381.75M635.24,248.75V381.75M381.6,275.35H658.3M381.6,301.95H658.3M381.6,328.55H658.3M381.6,355.15H658.3" stroke="#dcdcdc" stroke-width="0.8" fill="none"/>
<path d="M381.6,381.75V248.75H658.3V381.75Z" stroke="#262626" stroke-width="1" fill="none"/>
<path d="M404.66,248.75v2.6M404.66,381.75v-2.6M443.09,248.75v2.6M443.09,381.75v-2.6M481.52,248.75v2.6M481.52,381.75v-2.6M519.95,248.75v2.6M519.95,381.75v-2.6M558.38,248.75v2.6M558.38,381.75v-2.6M596.81,248.75v2.6M596.81,381.75v-2.6M635.24,248.75v2.6M635.24,381.75v-2.6M381.6,248.75h2.6M658.3,248.75h-2.6M381.6,275.35h2.6M658.3,275.35h-2.6M381.6,301.95h2.6M658.3,301.95h-2.6M381.6,328.55h2.6M658.3,328.55h-2.6M381.6,355.15h2.6M658.3,355.15h-2.6M381.6,381.75h2.6M658.3,381.75h-2.6" stroke="#262626" stroke-width="0.8" fill="none"/>
<path d="M424.30,264.60L430.90,264.60M425.27,262.27L429.93,266.93M427.60,261.30L427.60,267.90M429.93,262.27L425.27,266.93" stroke="#0072BD" stroke-width="0.9" fill="none"/>
<path d="M464.95,264.25L471.55,264.25M465.92,261.92L470.58,266.58M468.25,260.95L468.25,267.55M470.58,261.92L465.92,266.58" stroke="#0072BD" stroke-width="0.9" fill="none"/>
<path d="M518.70,352.60L525.30,352.60M519.67,350.27L524.33,354.93M522.00,349.30L522.00,355.90M524.33,350.27L519.67,354.93" stroke="#0072BD" stroke-width="0.9" fill="none"/>
<path d="M565.20,257.00L571.80,257.00M566.17,254.67L570.83,259.33M568.50,253.70L568.50,260.30M570.83,254.67L566.17,259.33" stroke="#0072BD" stroke-width="0.9" fill="none"/>
<path d="M610.70,253.20L617.30,253.20M611.67,250.87L616.33,255.53M614.00,249.90L614.00,256.50M616.33,250.87L611.67,255.53" stroke="#0072BD" stroke-width="0.9" fill="none"/>
<path d="M379.00,254.00L385.60,254.00M379.97,251.67L384.63,256.33M382.30,250.70L382.30,257.30M384.63,251.67L379.97,256.33" stroke="#0072BD" stroke-width="0.9" fill="none"/>
<rect x="379.00" y="251.50" width="6.2" height="6.2" fill="#0072BD"/>
<rect x="424.50" y="262.80" width="6.2" height="6.2" fill="#0072BD"/>
<rect x="469.80" y="265.80" width="6.2" height="6.2" fill="#0072BD"/>
<rect x="517.15" y="358.50" width="6.2" height="6.2" fill="#0072BD"/>
<rect x="563.15" y="253.00" width="6.2" height="6.2" fill="#0072BD"/>
<rect x="609.50" y="249.80" width="6.2" height="6.2" fill="#0072BD"/>
<path d="M546.20,348.70L552.80,348.70M547.17,346.37L551.83,351.03M549.50,345.40L549.50,352.00M551.83,346.37L547.17,351.03" stroke="#0072BD" stroke-width="0.9" fill="none"/>
<rect x="546.80" y="360.00" width="6.2" height="6.2" fill="#0072BD"/>
<text x="554.5" y="351.8" font-size="12.3" text-anchor="start" fill="#3a3a3a"  textLength="99.3" lengthAdjust="spacingAndGlyphs">Full-Wave Method</text>
<text x="554.5" y="366.3" font-size="12.3" text-anchor="start" fill="#3a3a3a"  textLength="95.5" lengthAdjust="spacingAndGlyphs">Proposed Method</text>
<text x="378.8" y="252.55" font-size="11.5" text-anchor="end" fill="#3a3a3a" >0</text>
<text x="378.8" y="279.15000000000003" font-size="11.5" text-anchor="end" fill="#3a3a3a" >-0.5</text>
<text x="378.8" y="305.75" font-size="11.5" text-anchor="end" fill="#3a3a3a" >-1</text>
<text x="378.8" y="332.35" font-size="11.5" text-anchor="end" fill="#3a3a3a" >-1.5</text>
<text x="378.8" y="358.95" font-size="11.5" text-anchor="end" fill="#3a3a3a" >-2</text>
<text x="378.8" y="385.55" font-size="11.5" text-anchor="end" fill="#3a3a3a" >-2.5</text>
<text x="404.65833333333336" y="395" font-size="11.5" text-anchor="middle" fill="#3a3a3a" >-150</text>
<text x="443.0888888888889" y="395" font-size="11.5" text-anchor="middle" fill="#3a3a3a" >-100</text>
<text x="481.51944444444445" y="395" font-size="11.5" text-anchor="middle" fill="#3a3a3a" >-50</text>
<text x="519.95" y="395" font-size="11.5" text-anchor="middle" fill="#3a3a3a" >0</text>
<text x="558.3805555555555" y="395" font-size="11.5" text-anchor="middle" fill="#3a3a3a" >50</text>
<text x="596.8111111111111" y="395" font-size="11.5" text-anchor="middle" fill="#3a3a3a" >100</text>
<text x="635.2416666666666" y="395" font-size="11.5" text-anchor="middle" fill="#3a3a3a" >150</text>
<text x="478" y="410.5" font-size="13" font-style="italic" fill="#3a3a3a" textLength="83" lengthAdjust="spacingAndGlyphs">S<tspan font-size="8.5" font-style="normal" dy="2">12</tspan><tspan dy="-2">Phase(Deg)</tspan></text>
<text transform="translate(355,367.7) rotate(-90)" x="0" y="0" font-size="13" font-style="italic" fill="#3a3a3a" textLength="103.2" lengthAdjust="spacingAndGlyphs">S<tspan font-size="8.5" font-style="normal" dy="2">12</tspan><tspan dy="-2">Magnitude(dB)</tspan></text>
<text x="497.8" y="441.5" font-size="23" text-anchor="start" fill="#000"  textLength="26.3" lengthAdjust="spacingAndGlyphs">(d)</text>
<path d="M106.38,461.75V591.25M173.25,461.75V591.25M240.12,461.75V591.25" stroke="#d4d4d4" stroke-width="0.8" fill="none"/>
<path d="M39.5,487.65H307M39.5,513.55H307M39.5,539.45H307M39.5,565.35H307" stroke="#cfe2f3" stroke-width="0.9" fill="none"/>
<path d="M39.5,461.75H307M39.5,591.25H307" stroke="#262626" stroke-width="1"/>
<path d="M39.5,461.75V591.25" stroke="#0072BD" stroke-width="1.1"/>
<path d="M307,461.75V591.25" stroke="#D95319" stroke-width="1.1"/>
<path d="M106.38,461.75v2.6M106.38,591.25v-2.6M173.25,461.75v2.6M173.25,591.25v-2.6M240.12,461.75v2.6M240.12,591.25v-2.6" stroke="#262626" stroke-width="0.8" fill="none"/>
<path d="M39.5,461.75h2.6M39.5,487.65h2.6M39.5,513.55h2.6M39.5,539.45h2.6M39.5,565.35h2.6M39.5,591.25h2.6" stroke="#0072BD" stroke-width="0.8" fill="none"/>
<path d="M307,461.75h-2.6M307,494.12h-2.6M307,526.50h-2.6M307,558.88h-2.6M307,591.25h-2.6" stroke="#D95319" stroke-width="0.8" fill="none"/>
<text x="36.5" y="465.55" font-size="11.5" text-anchor="end" fill="#0072BD" >1</text>
<text x="36.5" y="491.45" font-size="11.5" text-anchor="end" fill="#0072BD" >0.5</text>
<text x="36.5" y="517.3499999999999" font-size="11.5" text-anchor="end" fill="#0072BD" >0</text>
<text x="36.5" y="543.25" font-size="11.5" text-anchor="end" fill="#0072BD" >-0.5</text>
<text x="36.5" y="569.15" font-size="11.5" text-anchor="end" fill="#0072BD" >-1</text>
<text x="36.5" y="595.05" font-size="11.5" text-anchor="end" fill="#0072BD" >-1.5</text>
<text x="310.5" y="465.55" font-size="11.5" text-anchor="start" fill="#D95319" >0</text>
<text x="310.5" y="497.925" font-size="11.5" text-anchor="start" fill="#D95319" >-5</text>
<text x="310.5" y="530.3" font-size="11.5" text-anchor="start" fill="#D95319" >-10</text>
<text x="310.5" y="562.675" font-size="11.5" text-anchor="start" fill="#D95319" >-15</text>
<text x="310.5" y="595.05" font-size="11.5" text-anchor="start" fill="#D95319" >-20</text>
<text x="39.5" y="605" font-size="11.5" text-anchor="middle" fill="#3a3a3a" >29</text>
<text x="106.375" y="605" font-size="11.5" text-anchor="middle" fill="#3a3a3a" >29.5</text>
<text x="173.25" y="605" font-size="11.5" text-anchor="middle" fill="#3a3a3a" >30</text>
<text x="240.125" y="605" font-size="11.5" text-anchor="middle" fill="#3a3a3a" >30.5</text>
<text x="307.0" y="605" font-size="11.5" text-anchor="middle" fill="#3a3a3a" >31</text>
<text x="127" y="620.3" font-size="11.5" text-anchor="start" fill="#3a3a3a"  font-style="italic" textLength="93.5" lengthAdjust="spacingAndGlyphs">Frequency(GHz)</text>
<text transform="translate(11.2,582.5) rotate(-90)" x="0" y="0" font-size="13" font-style="italic" fill="#0072BD" textLength="111.5" lengthAdjust="spacingAndGlyphs">S<tspan font-size="8.5" font-style="normal" dy="2">11</tspan><tspan dy="-2">Magnitude(dB)</tspan></text>
<text transform="translate(339.6,577.5) rotate(-90)" x="0" y="0" font-size="13" font-style="italic" fill="#D95319" textLength="103.8" lengthAdjust="spacingAndGlyphs">S<tspan font-size="8.5" font-style="normal" dy="2">12</tspan><tspan dy="-2">Magnitude(dB)</tspan></text>
<circle cx="173.25" cy="534.5" r="3.6" fill="#0072BD"/>
<circle cx="173.25" cy="551.25" r="3.6" fill="#D95319"/>
<text x="157.4" y="655.9" font-size="23" text-anchor="start" fill="#000"  textLength="25" lengthAdjust="spacingAndGlyphs">(e)</text>
<path d="M189.20,547.00L288.50,520.60L298.70,528.00L298.70,549.50L199.40,575.90L189.20,568.50Z" fill="#b4cfc0" stroke="none" stroke-width="0.5" opacity="1"/>
<path d="M189.20,568.50L288.50,542.10L298.70,549.50L199.40,575.90Z" fill="#d9a679" stroke="none" stroke-width="0.5" opacity="1"/>
<path d="M193.21,568.95L204.80,565.87L211.94,571.05L200.35,574.13Z" fill="none" stroke="#b9875e" stroke-width="0.45" opacity="1"/>
<path d="M209.76,564.55L221.35,561.47L228.49,566.65L216.90,569.73Z" fill="none" stroke="#b9875e" stroke-width="0.45" opacity="1"/>
<path d="M226.31,560.15L237.90,557.07L245.04,562.25L233.45,565.33Z" fill="none" stroke="#b9875e" stroke-width="0.45" opacity="1"/>
<path d="M242.86,555.75L254.45,552.67L261.59,557.85L250.00,560.93Z" fill="none" stroke="#b9875e" stroke-width="0.45" opacity="1"/>
<path d="M259.41,551.35L271.00,548.27L278.14,553.45L266.55,556.53Z" fill="none" stroke="#b9875e" stroke-width="0.45" opacity="1"/>
<path d="M275.96,546.95L287.55,543.87L294.69,549.05L283.10,552.13Z" fill="none" stroke="#b9875e" stroke-width="0.45" opacity="1"/>
<path d="M189.20,558.00L288.50,531.60L298.70,539.00L199.40,565.40Z" fill="#d9a679" stroke="none" stroke-width="0.5" opacity="1"/>
<path d="M193.21,558.45L204.80,555.37L211.94,560.55L200.35,563.63Z" fill="none" stroke="#b9875e" stroke-width="0.45" opacity="1"/>
<path d="M209.76,554.05L221.35,550.97L228.49,556.15L216.90,559.23Z" fill="none" stroke="#b9875e" stroke-width="0.45" opacity="1"/>
<path d="M226.31,549.65L237.90,546.57L245.04,551.75L233.45,554.83Z" fill="none" stroke="#b9875e" stroke-width="0.45" opacity="1"/>
<path d="M242.86,545.25L254.45,542.17L261.59,547.35L250.00,550.43Z" fill="none" stroke="#b9875e" stroke-width="0.45" opacity="1"/>
<path d="M259.41,540.85L271.00,537.77L278.14,542.95L266.55,546.03Z" fill="none" stroke="#b9875e" stroke-width="0.45" opacity="1"/>
<path d="M275.96,536.45L287.55,533.37L294.69,538.55L283.10,541.63Z" fill="none" stroke="#b9875e" stroke-width="0.45" opacity="1"/>
<path d="M199.40,555.30L298.70,528.90" stroke="#c4e2d4" stroke-width="1.3"/>
<path d="M199.40,566.30L298.70,539.90" stroke="#c4e2d4" stroke-width="1.3"/>
<path d="M189.20,547.00L288.50,520.60L298.70,528.00L199.40,554.40Z" fill="#f4823f" stroke="#c8632a" stroke-width="0.4" opacity="1"/>
<path d="M193.21,547.45L204.80,544.37L211.94,549.55L200.35,552.63Z" fill="none" stroke="#b9551f" stroke-width="0.5" opacity="1"/>
<path d="M209.76,543.05L221.35,539.97L228.49,545.15L216.90,548.23Z" fill="none" stroke="#b9551f" stroke-width="0.5" opacity="1"/>
<path d="M226.31,538.65L237.90,535.57L245.04,540.75L233.45,543.83Z" fill="none" stroke="#b9551f" stroke-width="0.5" opacity="1"/>
<path d="M242.86,534.25L254.45,531.17L261.59,536.35L250.00,539.43Z" fill="none" stroke="#b9551f" stroke-width="0.5" opacity="1"/>
<path d="M259.41,529.85L271.00,526.77L278.14,531.95L266.55,535.03Z" fill="none" stroke="#b9551f" stroke-width="0.5" opacity="1"/>
<path d="M275.96,525.45L287.55,522.37L294.69,527.55L283.10,530.63Z" fill="none" stroke="#b9551f" stroke-width="0.5" opacity="1"/>
<text transform="translate(181,546.5) rotate(-15)" font-size="8.6" font-weight="bold" font-style="italic" fill="#111" font-family="Liberation Sans">−180°</text>
<text transform="translate(203.5,540.2) rotate(-15)" font-size="8.6" font-weight="bold" font-style="italic" fill="#111" font-family="Liberation Sans">−120°</text>
<text transform="translate(226.5,533.5) rotate(-15)" font-size="8.6" font-weight="bold" font-style="italic" fill="#111" font-family="Liberation Sans">−60°</text>
<text transform="translate(247.8,528.2) rotate(-15)" font-size="8.6" font-weight="bold" font-style="italic" fill="#111" font-family="Liberation Sans">0°</text>
<text transform="translate(262.3,524.8) rotate(-15)" font-size="8.6" font-weight="bold" font-style="italic" fill="#111" font-family="Liberation Sans">60°</text>
<text transform="translate(278.6,520.8) rotate(-15)" font-size="8.6" font-weight="bold" font-style="italic" fill="#111" font-family="Liberation Sans">120°</text>
<rect x="358.5" y="496.4" width="312" height="9.2" fill="#efad72" stroke="#a6d8d0" stroke-width="0.7"/>
<path d="M358.50,497v8M359.73,497.90h6.2v6.2h-6.2ZM367.17,497v8M368.70,498.20h5.6v5.6h-5.6ZM375.83,497v8M377.67,498.50h5.0v5.0h-5.0ZM384.50,497v8M385.53,497.70h6.6v6.6h-6.6ZM393.17,497v8M394.50,498.00h6.0v6.0h-6.0ZM401.83,497v8M402.97,497.80h6.4v6.4h-6.4ZM410.50,497v8M411.73,497.90h6.2v6.2h-6.2ZM419.17,497v8M420.70,498.20h5.6v5.6h-5.6ZM427.83,497v8M429.67,498.50h5.0v5.0h-5.0ZM436.50,497v8M437.53,497.70h6.6v6.6h-6.6ZM445.17,497v8M446.50,498.00h6.0v6.0h-6.0ZM453.83,497v8M454.97,497.80h6.4v6.4h-6.4ZM462.50,497v8M463.73,497.90h6.2v6.2h-6.2ZM471.17,497v8M472.70,498.20h5.6v5.6h-5.6ZM479.83,497v8M481.67,498.50h5.0v5.0h-5.0ZM488.50,497v8M489.53,497.70h6.6v6.6h-6.6ZM497.17,497v8M498.50,498.00h6.0v6.0h-6.0ZM505.83,497v8M506.97,497.80h6.4v6.4h-6.4ZM514.50,497v8M515.73,497.90h6.2v6.2h-6.2ZM523.17,497v8M524.70,498.20h5.6v5.6h-5.6ZM531.83,497v8M533.67,498.50h5.0v5.0h-5.0ZM540.50,497v8M541.53,497.70h6.6v6.6h-6.6ZM549.17,497v8M550.50,498.00h6.0v6.0h-6.0ZM557.83,497v8M558.97,497.80h6.4v6.4h-6.4ZM566.50,497v8M567.73,497.90h6.2v6.2h-6.2ZM575.17,497v8M576.70,498.20h5.6v5.6h-5.6ZM583.83,497v8M585.67,498.50h5.0v5.0h-5.0ZM592.50,497v8M593.53,497.70h6.6v6.6h-6.6ZM601.17,497v8M602.50,498.00h6.0v6.0h-6.0ZM609.83,497v8M610.97,497.80h6.4v6.4h-6.4ZM618.50,497v8M619.73,497.90h6.2v6.2h-6.2ZM627.17,497v8M628.70,498.20h5.6v5.6h-5.6ZM635.83,497v8M637.67,498.50h5.0v5.0h-5.0ZM644.50,497v8M645.53,497.70h6.6v6.6h-6.6ZM653.17,497v8M654.50,498.00h6.0v6.0h-6.0ZM661.83,497v8M662.97,497.80h6.4v6.4h-6.4Z" fill="none" stroke="#b97a45" stroke-width="0.55"/>
<rect x="358.5" y="494.4" width="53.2" height="12.4" fill="none" stroke="#000" stroke-width="1.4"/>
<path d="M348.80,484.70L348.80,498.30" stroke="#d01010" stroke-width="1.0" fill="none"/>
<path d="M348.80,500.30L347.00,496.90L348.80,498.30L350.60,496.90Z" fill="#d01010"/>
<path d="M348.80,484.00L364.50,484.00" stroke="#138a36" stroke-width="1.0" fill="none"/>
<path d="M366.50,484.00L363.10,485.80L364.50,484.00L363.10,482.20Z" fill="#138a36"/>
<text x="363.2" y="492" font-size="8.5" text-anchor="start" fill="#111"  font-style="italic" font-weight="bold">y</text>
<text x="351.8" y="499.4" font-size="8.5" text-anchor="start" fill="#111"  font-style="italic" font-weight="bold">x</text>
<path d="M349.70,589.70L349.70,573.50" stroke="#1f77d0" stroke-width="1.0" fill="none"/>
<path d="M349.70,571.50L351.50,574.90L349.70,573.50L347.90,574.90Z" fill="#1f77d0"/>
<path d="M349.70,589.70L365.90,589.70" stroke="#138a36" stroke-width="1.0" fill="none"/>
<path d="M367.90,589.70L364.50,591.50L365.90,589.70L364.50,587.90Z" fill="#138a36"/>
<text x="342" y="577" font-size="8.5" text-anchor="start" fill="#111"  font-style="italic" font-weight="bold">z</text>
<text x="364" y="598" font-size="8.5" text-anchor="start" fill="#111"  font-style="italic" font-weight="bold">y</text>
<path d="M359,505.5 C356,526 334,536 305,537" stroke="#000" stroke-width="1.2" fill="none"/>
<path d="M306.00,536.90L304.00,536.97" stroke="#000" stroke-width="1.2" fill="none"/>
<path d="M300.60,537.10L305.49,534.12L304.00,536.97L305.70,539.71Z" fill="#000"/>
<defs><clipPath id="fc"><rect x="358" y="527" width="312.70000000000005" height="55.60000000000002"/></clipPath><filter id="bl" x="-30%" y="-80%" width="160%" height="260%"><feGaussianBlur stdDeviation="0.9"/></filter><filter id="bl2" x="-30%" y="-80%" width="160%" height="260%"><feGaussianBlur stdDeviation="0.6"/></filter></defs>
<g clip-path="url(#fc)">
<rect x="358" y="527" width="312.70000000000005" height="55.60000000000002" fill="#1538e0"/>
<g filter="url(#bl)">
<rect x="353" y="528.6" width="322.70000000000005" height="11.2" fill="#2ad6c8"/>
<rect x="353" y="529" width="322.70000000000005" height="9.6" fill="#3ad14a"/>
<rect x="353" y="529.6" width="322.70000000000005" height="7.2" fill="#d8e030"/>
<rect x="302.4" y="529.6" width="45.2" height="7.0" rx="3.4" fill="#d32b2a"/>
<rect x="354.4" y="529.6" width="45.2" height="7.0" rx="3.4" fill="#d32b2a"/>
<rect x="406.4" y="529.6" width="45.2" height="7.0" rx="3.4" fill="#d32b2a"/>
<rect x="458.4" y="529.6" width="45.2" height="7.0" rx="3.4" fill="#d32b2a"/>
<rect x="510.4" y="529.6" width="45.2" height="7.0" rx="3.4" fill="#d32b2a"/>
<rect x="562.4" y="529.6" width="45.2" height="7.0" rx="3.4" fill="#d32b2a"/>
<rect x="614.4" y="529.6" width="45.2" height="7.0" rx="3.4" fill="#d32b2a"/>
<rect x="666.4" y="529.6" width="45.2" height="7.0" rx="3.4" fill="#d32b2a"/>
<rect x="718.4" y="529.6" width="45.2" height="7.0" rx="3.4" fill="#d32b2a"/>
</g>
<rect x="358" y="527" width="312.70000000000005" height="2.4" fill="#9ef2ee"/>
<path d="M358,528.2H670.7" stroke="#eaffff" stroke-width="0.7"/>
<rect x="358" y="549.2" width="312.70000000000005" height="10.5" fill="#5a7fd8"/>
<path d="M358,554.2H670.7" stroke="#8090b0" stroke-width="0.5"/>
<g filter="url(#bl2)">
<ellipse cx="341.3" cy="554.3" rx="13" ry="4.6" fill="#6cc86a"/>
<rect x="332.7" y="551.6" width="5.2" height="5.2" fill="#c8706a"/>
<rect x="338.7" y="551.6" width="5.2" height="5.2" fill="#c8706a"/>
<rect x="344.7" y="551.6" width="5.2" height="5.2" fill="#c8706a"/>
<ellipse cx="355.3" cy="554.3" rx="2.2" ry="3" fill="#d06a60"/>
<ellipse cx="327.3" cy="554.3" rx="2.2" ry="3" fill="#d06a60"/>
<ellipse cx="393.3" cy="554.3" rx="13" ry="4.6" fill="#6cc86a"/>
<rect x="384.7" y="551.6" width="5.2" height="5.2" fill="#c8706a"/>
<rect x="390.7" y="551.6" width="5.2" height="5.2" fill="#c8706a"/>
<rect x="396.7" y="551.6" width="5.2" height="5.2" fill="#c8706a"/>
<ellipse cx="407.3" cy="554.3" rx="2.2" ry="3" fill="#d06a60"/>
<ellipse cx="379.3" cy="554.3" rx="2.2" ry="3" fill="#d06a60"/>
<ellipse cx="445.3" cy="554.3" rx="13" ry="4.6" fill="#6cc86a"/>
<rect x="436.7" y="551.6" width="5.2" height="5.2" fill="#c8706a"/>
<rect x="442.7" y="551.6" width="5.2" height="5.2" fill="#c8706a"/>
<rect x="448.7" y="551.6" width="5.2" height="5.2" fill="#c8706a"/>
<ellipse cx="459.3" cy="554.3" rx="2.2" ry="3" fill="#d06a60"/>
<ellipse cx="431.3" cy="554.3" rx="2.2" ry="3" fill="#d06a60"/>
<ellipse cx="497.3" cy="554.3" rx="13" ry="4.6" fill="#6cc86a"/>
<rect x="488.7" y="551.6" width="5.2" height="5.2" fill="#c8706a"/>
<rect x="494.7" y="551.6" width="5.2" height="5.2" fill="#c8706a"/>
<rect x="500.7" y="551.6" width="5.2" height="5.2" fill="#c8706a"/>
<ellipse cx="511.3" cy="554.3" rx="2.2" ry="3" fill="#d06a60"/>
<ellipse cx="483.3" cy="554.3" rx="2.2" ry="3" fill="#d06a60"/>
<ellipse cx="549.3" cy="554.3" rx="13" ry="4.6" fill="#6cc86a"/>
<rect x="540.7" y="551.6" width="5.2" height="5.2" fill="#c8706a"/>
<rect x="546.7" y="551.6" width="5.2" height="5.2" fill="#c8706a"/>
<rect x="552.7" y="551.6" width="5.2" height="5.2" fill="#c8706a"/>
<ellipse cx="563.3" cy="554.3" rx="2.2" ry="3" fill="#d06a60"/>
<ellipse cx="535.3" cy="554.3" rx="2.2" ry="3" fill="#d06a60"/>
<ellipse cx="601.3" cy="554.3" rx="13" ry="4.6" fill="#6cc86a"/>
<rect x="592.7" y="551.6" width="5.2" height="5.2" fill="#c8706a"/>
<rect x="598.7" y="551.6" width="5.2" height="5.2" fill="#c8706a"/>
<rect x="604.7" y="551.6" width="5.2" height="5.2" fill="#c8706a"/>
<ellipse cx="615.3" cy="554.3" rx="2.2" ry="3" fill="#d06a60"/>
<ellipse cx="587.3" cy="554.3" rx="2.2" ry="3" fill="#d06a60"/>
<ellipse cx="653.3" cy="554.3" rx="13" ry="4.6" fill="#6cc86a"/>
<rect x="644.7" y="551.6" width="5.2" height="5.2" fill="#c8706a"/>
<rect x="650.7" y="551.6" width="5.2" height="5.2" fill="#c8706a"/>
<rect x="656.7" y="551.6" width="5.2" height="5.2" fill="#c8706a"/>
<ellipse cx="667.3" cy="554.3" rx="2.2" ry="3" fill="#d06a60"/>
<ellipse cx="639.3" cy="554.3" rx="2.2" ry="3" fill="#d06a60"/>
<ellipse cx="705.3" cy="554.3" rx="13" ry="4.6" fill="#6cc86a"/>
<rect x="696.7" y="551.6" width="5.2" height="5.2" fill="#c8706a"/>
<rect x="702.7" y="551.6" width="5.2" height="5.2" fill="#c8706a"/>
<rect x="708.7" y="551.6" width="5.2" height="5.2" fill="#c8706a"/>
<ellipse cx="719.3" cy="554.3" rx="2.2" ry="3" fill="#d06a60"/>
<ellipse cx="691.3" cy="554.3" rx="2.2" ry="3" fill="#d06a60"/>
</g>
<g filter="url(#bl2)">
<path d="M318.5,562 C325.5,565 329.3,569 338.3,576" stroke="#2ad6c8" stroke-width="12.5" fill="none" stroke-linecap="round"/>
<path d="M318.5,562 C325.5,565 329.3,569 338.3,576" stroke="#3ad14a" stroke-width="9.5" fill="none" stroke-linecap="round"/>
<path d="M318.5,562 C325.5,565 329.3,569 338.3,576" stroke="#d8e030" stroke-width="4.6" fill="none" stroke-linecap="round"/>
<ellipse cx="341.3" cy="577.9" rx="18" ry="8.2" fill="#2ad6c8" transform="rotate(18 341.3 577.9)"/>
<ellipse cx="341.3" cy="577.9" rx="15.7" ry="7.0" fill="#3ad14a" transform="rotate(18 341.3 577.9)"/>
<ellipse cx="341.3" cy="577.9" rx="12.8" ry="5.6" fill="#d8e030" transform="rotate(18 341.3 577.9)"/>
<ellipse cx="341.3" cy="577.9" rx="10.2" ry="4.3" fill="#d62d2a" transform="rotate(18 341.3 577.9)"/>
<ellipse cx="317.5" cy="562.4" rx="7.0" ry="4.8" fill="#3ad14a"/>
<ellipse cx="317.5" cy="562.4" rx="5.4" ry="3.8" fill="#d8e030"/>
<ellipse cx="317.5" cy="562.4" rx="3.9" ry="2.9" fill="#d62d2a"/>
<path d="M370.5,562 C377.5,565 381.3,569 390.3,576" stroke="#2ad6c8" stroke-width="12.5" fill="none" stroke-linecap="round"/>
<path d="M370.5,562 C377.5,565 381.3,569 390.3,576" stroke="#3ad14a" stroke-width="9.5" fill="none" stroke-linecap="round"/>
<path d="M370.5,562 C377.5,565 381.3,569 390.3,576" stroke="#d8e030" stroke-width="4.6" fill="none" stroke-linecap="round"/>
<ellipse cx="393.3" cy="577.9" rx="18" ry="8.2" fill="#2ad6c8" transform="rotate(18 393.3 577.9)"/>
<ellipse cx="393.3" cy="577.9" rx="15.7" ry="7.0" fill="#3ad14a" transform="rotate(18 393.3 577.9)"/>
<ellipse cx="393.3" cy="577.9" rx="12.8" ry="5.6" fill="#d8e030" transform="rotate(18 393.3 577.9)"/>
<ellipse cx="393.3" cy="577.9" rx="10.2" ry="4.3" fill="#d62d2a" transform="rotate(18 393.3 577.9)"/>
<ellipse cx="369.5" cy="562.4" rx="7.0" ry="4.8" fill="#3ad14a"/>
<ellipse cx="369.5" cy="562.4" rx="5.4" ry="3.8" fill="#d8e030"/>
<ellipse cx="369.5" cy="562.4" rx="3.9" ry="2.9" fill="#d62d2a"/>
<path d="M422.5,562 C429.5,565 433.3,569 442.3,576" stroke="#2ad6c8" stroke-width="12.5" fill="none" stroke-linecap="round"/>
<path d="M422.5,562 C429.5,565 433.3,569 442.3,576" stroke="#3ad14a" stroke-width="9.5" fill="none" stroke-linecap="round"/>
<path d="M422.5,562 C429.5,565 433.3,569 442.3,576" stroke="#d8e030" stroke-width="4.6" fill="none" stroke-linecap="round"/>
<ellipse cx="445.3" cy="577.9" rx="18" ry="8.2" fill="#2ad6c8" transform="rotate(18 445.3 577.9)"/>
<ellipse cx="445.3" cy="577.9" rx="15.7" ry="7.0" fill="#3ad14a" transform="rotate(18 445.3 577.9)"/>
<ellipse cx="445.3" cy="577.9" rx="12.8" ry="5.6" fill="#d8e030" transform="rotate(18 445.3 577.9)"/>
<ellipse cx="445.3" cy="577.9" rx="10.2" ry="4.3" fill="#d62d2a" transform="rotate(18 445.3 577.9)"/>
<ellipse cx="421.5" cy="562.4" rx="7.0" ry="4.8" fill="#3ad14a"/>
<ellipse cx="421.5" cy="562.4" rx="5.4" ry="3.8" fill="#d8e030"/>
<ellipse cx="421.5" cy="562.4" rx="3.9" ry="2.9" fill="#d62d2a"/>
<path d="M474.5,562 C481.5,565 485.3,569 494.3,576" stroke="#2ad6c8" stroke-width="12.5" fill="none" stroke-linecap="round"/>
<path d="M474.5,562 C481.5,565 485.3,569 494.3,576" stroke="#3ad14a" stroke-width="9.5" fill="none" stroke-linecap="round"/>
<path d="M474.5,562 C481.5,565 485.3,569 494.3,576" stroke="#d8e030" stroke-width="4.6" fill="none" stroke-linecap="round"/>
<ellipse cx="497.3" cy="577.9" rx="18" ry="8.2" fill="#2ad6c8" transform="rotate(18 497.3 577.9)"/>
<ellipse cx="497.3" cy="577.9" rx="15.7" ry="7.0" fill="#3ad14a" transform="rotate(18 497.3 577.9)"/>
<ellipse cx="497.3" cy="577.9" rx="12.8" ry="5.6" fill="#d8e030" transform="rotate(18 497.3 577.9)"/>
<ellipse cx="497.3" cy="577.9" rx="10.2" ry="4.3" fill="#d62d2a" transform="rotate(18 497.3 577.9)"/>
<ellipse cx="473.5" cy="562.4" rx="7.0" ry="4.8" fill="#3ad14a"/>
<ellipse cx="473.5" cy="562.4" rx="5.4" ry="3.8" fill="#d8e030"/>
<ellipse cx="473.5" cy="562.4" rx="3.9" ry="2.9" fill="#d62d2a"/>
<path d="M526.5,562 C533.5,565 537.3,569 546.3,576" stroke="#2ad6c8" stroke-width="12.5" fill="none" stroke-linecap="round"/>
<path d="M526.5,562 C533.5,565 537.3,569 546.3,576" stroke="#3ad14a" stroke-width="9.5" fill="none" stroke-linecap="round"/>
<path d="M526.5,562 C533.5,565 537.3,569 546.3,576" stroke="#d8e030" stroke-width="4.6" fill="none" stroke-linecap="round"/>
<ellipse cx="549.3" cy="577.9" rx="18" ry="8.2" fill="#2ad6c8" transform="rotate(18 549.3 577.9)"/>
<ellipse cx="549.3" cy="577.9" rx="15.7" ry="7.0" fill="#3ad14a" transform="rotate(18 549.3 577.9)"/>
<ellipse cx="549.3" cy="577.9" rx="12.8" ry="5.6" fill="#d8e030" transform="rotate(18 549.3 577.9)"/>
<ellipse cx="549.3" cy="577.9" rx="10.2" ry="4.3" fill="#d62d2a" transform="rotate(18 549.3 577.9)"/>
<ellipse cx="525.5" cy="562.4" rx="7.0" ry="4.8" fill="#3ad14a"/>
<ellipse cx="525.5" cy="562.4" rx="5.4" ry="3.8" fill="#d8e030"/>
<ellipse cx="525.5" cy="562.4" rx="3.9" ry="2.9" fill="#d62d2a"/>
<path d="M578.5,562 C585.5,565 589.3,569 598.3,576" stroke="#2ad6c8" stroke-width="12.5" fill="none" stroke-linecap="round"/>
<path d="M578.5,562 C585.5,565 589.3,569 598.3,576" stroke="#3ad14a" stroke-width="9.5" fill="none" stroke-linecap="round"/>
<path d="M578.5,562 C585.5,565 589.3,569 598.3,576" stroke="#d8e030" stroke-width="4.6" fill="none" stroke-linecap="round"/>
<ellipse cx="601.3" cy="577.9" rx="18" ry="8.2" fill="#2ad6c8" transform="rotate(18 601.3 577.9)"/>
<ellipse cx="601.3" cy="577.9" rx="15.7" ry="7.0" fill="#3ad14a" transform="rotate(18 601.3 577.9)"/>
<ellipse cx="601.3" cy="577.9" rx="12.8" ry="5.6" fill="#d8e030" transform="rotate(18 601.3 577.9)"/>
<ellipse cx="601.3" cy="577.9" rx="10.2" ry="4.3" fill="#d62d2a" transform="rotate(18 601.3 577.9)"/>
<ellipse cx="577.5" cy="562.4" rx="7.0" ry="4.8" fill="#3ad14a"/>
<ellipse cx="577.5" cy="562.4" rx="5.4" ry="3.8" fill="#d8e030"/>
<ellipse cx="577.5" cy="562.4" rx="3.9" ry="2.9" fill="#d62d2a"/>
<path d="M630.5,562 C637.5,565 641.3,569 650.3,576" stroke="#2ad6c8" stroke-width="12.5" fill="none" stroke-linecap="round"/>
<path d="M630.5,562 C637.5,565 641.3,569 650.3,576" stroke="#3ad14a" stroke-width="9.5" fill="none" stroke-linecap="round"/>
<path d="M630.5,562 C637.5,565 641.3,569 650.3,576" stroke="#d8e030" stroke-width="4.6" fill="none" stroke-linecap="round"/>
<ellipse cx="653.3" cy="577.9" rx="19" ry="7.5" fill="#2ad6c8" transform="rotate(18 653.3 577.9)"/>
<ellipse cx="653.3" cy="577.9" rx="17" ry="6.2" fill="#3ad14a" transform="rotate(18 653.3 577.9)"/>
<ellipse cx="653.3" cy="577.9" rx="15" ry="5" fill="#c8e030" transform="rotate(18 653.3 577.9)"/>
<ellipse cx="653.3" cy="577.9" rx="11" ry="3.4" fill="#e0a838" transform="rotate(18 653.3 577.9)"/>
<ellipse cx="629.5" cy="562.4" rx="7.0" ry="4.8" fill="#3ad14a"/>
<ellipse cx="629.5" cy="562.4" rx="5.4" ry="3.8" fill="#d8e030"/>
<ellipse cx="629.5" cy="562.4" rx="3.9" ry="2.9" fill="#d62d2a"/>
<path d="M682.5,562 C689.5,565 693.3,569 702.3,576" stroke="#2ad6c8" stroke-width="12.5" fill="none" stroke-linecap="round"/>
<path d="M682.5,562 C689.5,565 693.3,569 702.3,576" stroke="#3ad14a" stroke-width="9.5" fill="none" stroke-linecap="round"/>
<path d="M682.5,562 C689.5,565 693.3,569 702.3,576" stroke="#d8e030" stroke-width="4.6" fill="none" stroke-linecap="round"/>
<ellipse cx="705.3" cy="577.9" rx="18" ry="8.2" fill="#2ad6c8" transform="rotate(18 705.3 577.9)"/>
<ellipse cx="705.3" cy="577.9" rx="15.7" ry="7.0" fill="#3ad14a" transform="rotate(18 705.3 577.9)"/>
<ellipse cx="705.3" cy="577.9" rx="12.8" ry="5.6" fill="#d8e030" transform="rotate(18 705.3 577.9)"/>
<ellipse cx="705.3" cy="577.9" rx="10.2" ry="4.3" fill="#d62d2a" transform="rotate(18 705.3 577.9)"/>
<ellipse cx="681.5" cy="562.4" rx="7.0" ry="4.8" fill="#3ad14a"/>
<ellipse cx="681.5" cy="562.4" rx="5.4" ry="3.8" fill="#d8e030"/>
<ellipse cx="681.5" cy="562.4" rx="3.9" ry="2.9" fill="#d62d2a"/>
</g>
<path d="M358,549.2H670.7M358,559.7H670.7" stroke="#fff" stroke-width="1.6" stroke-dasharray="5,4.4"/>
</g>
<text x="357.6" y="526.2" font-size="6.5" font-style="italic" fill="#3a6fe0">z</text>
<path d="M356.6,540.5l1.4,-3" stroke="#3a6fe0" stroke-width="0.8"/>
<rect x="682" y="461.3" width="24.8" height="119.2" fill="#fff" stroke="#555" stroke-width="0.7"/>
<rect x="683.8" y="471.70" width="8.5" height="7.01" fill="#ff0000"/>
<rect x="683.8" y="478.61" width="8.5" height="7.01" fill="#ff3300"/>
<rect x="683.8" y="485.53" width="8.5" height="7.01" fill="#ff7700"/>
<rect x="683.8" y="492.44" width="8.5" height="7.01" fill="#ffaa00"/>
<rect x="683.8" y="499.35" width="8.5" height="7.01" fill="#ffdd00"/>
<rect x="683.8" y="506.27" width="8.5" height="7.01" fill="#ddff00"/>
<rect x="683.8" y="513.18" width="8.5" height="7.01" fill="#99ff00"/>
<rect x="683.8" y="520.09" width="8.5" height="7.01" fill="#55ee00"/>
<rect x="683.8" y="527.01" width="8.5" height="7.01" fill="#22dd00"/>
<rect x="683.8" y="533.92" width="8.5" height="7.01" fill="#00dd44"/>
<rect x="683.8" y="540.83" width="8.5" height="7.01" fill="#00ee99"/>
<rect x="683.8" y="547.75" width="8.5" height="7.01" fill="#00dddd"/>
<rect x="683.8" y="554.66" width="8.5" height="7.01" fill="#00aaff"/>
<rect x="683.8" y="561.57" width="8.5" height="7.01" fill="#0055ff"/>
<rect x="683.8" y="568.49" width="8.5" height="7.01" fill="#0000ee"/>
<text x="693.5" y="472.90" font-size="3.2" fill="#333" font-family="Liberation Sans">1.0000</text>
<text x="693.5" y="479.81" font-size="3.2" fill="#333" font-family="Liberation Sans">0.9333</text>
<text x="693.5" y="486.73" font-size="3.2" fill="#333" font-family="Liberation Sans">0.8667</text>
<text x="693.5" y="493.64" font-size="3.2" fill="#333" font-family="Liberation Sans">0.8000</text>
<text x="693.5" y="500.55" font-size="3.2" fill="#333" font-family="Liberation Sans">0.7333</text>
<text x="693.5" y="507.47" font-size="3.2" fill="#333" font-family="Liberation Sans">0.6667</text>
<text x="693.5" y="514.38" font-size="3.2" fill="#333" font-family="Liberation Sans">0.6000</text>
<text x="693.5" y="521.29" font-size="3.2" fill="#333" font-family="Liberation Sans">0.5333</text>
<text x="693.5" y="528.21" font-size="3.2" fill="#333" font-family="Liberation Sans">0.4667</text>
<text x="693.5" y="535.12" font-size="3.2" fill="#333" font-family="Liberation Sans">0.4000</text>
<text x="693.5" y="542.03" font-size="3.2" fill="#333" font-family="Liberation Sans">0.3333</text>
<text x="693.5" y="548.95" font-size="3.2" fill="#333" font-family="Liberation Sans">0.2667</text>
<text x="693.5" y="555.86" font-size="3.2" fill="#333" font-family="Liberation Sans">0.2000</text>
<text x="693.5" y="562.77" font-size="3.2" fill="#333" font-family="Liberation Sans">0.1333</text>
<text x="693.5" y="569.69" font-size="3.2" fill="#333" font-family="Liberation Sans">0.0667</text>
<text x="693.5" y="576.60" font-size="3.2" fill="#333" font-family="Liberation Sans">0.0000</text>
<text x="690" y="467" font-size="3.5" fill="#333" font-family="Liberation Sans">|Ey|</text>
<text x="500.8" y="654.3" font-size="23" text-anchor="start" fill="#000"  textLength="21.2" lengthAdjust="spacingAndGlyphs">(f)</text>
</svg></body></html>
